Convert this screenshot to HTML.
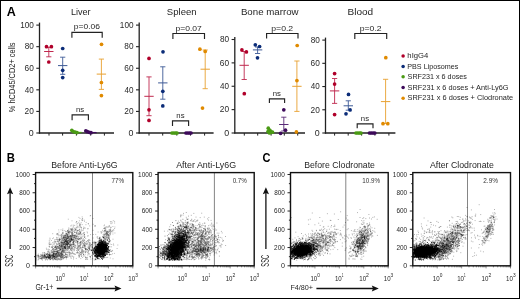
<!DOCTYPE html>
<html><head><meta charset="utf-8"><style>
html,body{margin:0;padding:0;background:#fff;}
svg{display:block;will-change:transform;}
text{font-family:"Liberation Sans",sans-serif;}
</style></head><body>
<svg width="520" height="299" viewBox="0 0 520 299">
<rect x="0.5" y="0.5" width="519" height="298" fill="#fff" stroke="#000" stroke-width="1"/>
<text x="6.79" y="16.30" font-size="12.22" textLength="9.05" lengthAdjust="spacingAndGlyphs" fill="#000" font-weight="bold">A</text>
<text x="6.74" y="162.10" font-size="11.93" textLength="8.17" lengthAdjust="spacingAndGlyphs" fill="#000" font-weight="bold">B</text>
<text x="262.46" y="162.00" font-size="12.33" textLength="7.94" lengthAdjust="spacingAndGlyphs" fill="#000" font-weight="bold">C</text>
<text transform="translate(15.30,111.90) rotate(-90)" x="-0.26" y="0" font-size="8.69" textLength="69.72" lengthAdjust="spacingAndGlyphs" fill="#262626">% hCD45/CD2+ cells</text>
<text x="70.95" y="15.10" font-size="9.24" textLength="19.69" lengthAdjust="spacingAndGlyphs" fill="#262626">Liver</text>
<line x1="39.50" y1="22.60" x2="39.50" y2="133.60" stroke="#222" stroke-width="1.3" />
<line x1="38.90" y1="133.00" x2="114.00" y2="133.00" stroke="#222" stroke-width="1.3" />
<line x1="36.30" y1="133.00" x2="39.50" y2="133.00" stroke="#222" stroke-width="1.1" />
<text x="28.89" y="135.75" font-size="8.24" textLength="4.95" lengthAdjust="spacingAndGlyphs" fill="#2a2a2a">0</text>
<line x1="36.30" y1="111.42" x2="39.50" y2="111.42" stroke="#222" stroke-width="1.1" />
<text x="24.58" y="114.17" font-size="8.24" textLength="9.25" lengthAdjust="spacingAndGlyphs" fill="#2a2a2a">20</text>
<line x1="36.30" y1="89.84" x2="39.50" y2="89.84" stroke="#222" stroke-width="1.1" />
<text x="24.82" y="92.59" font-size="8.24" textLength="9.00" lengthAdjust="spacingAndGlyphs" fill="#2a2a2a">40</text>
<line x1="36.30" y1="68.26" x2="39.50" y2="68.26" stroke="#222" stroke-width="1.1" />
<text x="24.58" y="71.01" font-size="8.24" textLength="9.25" lengthAdjust="spacingAndGlyphs" fill="#2a2a2a">60</text>
<line x1="36.30" y1="46.68" x2="39.50" y2="46.68" stroke="#222" stroke-width="1.1" />
<text x="24.65" y="49.43" font-size="8.24" textLength="9.18" lengthAdjust="spacingAndGlyphs" fill="#2a2a2a">80</text>
<line x1="36.30" y1="25.10" x2="39.50" y2="25.10" stroke="#222" stroke-width="1.1" />
<text x="20.14" y="27.85" font-size="8.24" textLength="13.68" lengthAdjust="spacingAndGlyphs" fill="#2a2a2a">100</text>
<line x1="49.00" y1="133.00" x2="49.00" y2="135.60" stroke="#222" stroke-width="1.0" />
<line x1="62.60" y1="133.00" x2="62.60" y2="135.60" stroke="#222" stroke-width="1.0" />
<line x1="76.40" y1="133.00" x2="76.40" y2="135.60" stroke="#222" stroke-width="1.0" />
<line x1="90.70" y1="133.00" x2="90.70" y2="135.60" stroke="#222" stroke-width="1.0" />
<line x1="104.40" y1="133.00" x2="104.40" y2="135.60" stroke="#222" stroke-width="1.0" />
<path d="M71.90 37.80V32.40H102.20V37.80" fill="none" stroke="#222" stroke-width="1.15"/>
<text x="73.85" y="29.40" font-size="7.46" textLength="26.23" lengthAdjust="spacingAndGlyphs" fill="#262626">p=0.06</text>
<path d="M72.10 120.20V114.80H88.40V120.20" fill="none" stroke="#222" stroke-width="1.15"/>
<text x="76.03" y="111.80" font-size="6.70" textLength="8.21" lengthAdjust="spacingAndGlyphs" fill="#262626">ns</text>
<line x1="48.80" y1="47.40" x2="48.80" y2="56.80" stroke="#c0284e" stroke-width="0.9" />
<line x1="46.20" y1="47.40" x2="51.40" y2="47.40" stroke="#c0284e" stroke-width="0.9" />
<line x1="46.20" y1="56.80" x2="51.40" y2="56.80" stroke="#c0284e" stroke-width="0.9" />
<line x1="44.10" y1="51.50" x2="53.50" y2="51.50" stroke="#c0284e" stroke-width="1.0" />
<circle cx="46.50" cy="46.70" r="1.85" fill="#b0002a"/>
<circle cx="51.40" cy="46.70" r="1.85" fill="#b0002a"/>
<circle cx="48.80" cy="62.00" r="1.85" fill="#b0002a"/>
<line x1="62.70" y1="57.20" x2="62.70" y2="74.30" stroke="#3d5a96" stroke-width="0.9" />
<line x1="60.10" y1="57.20" x2="65.30" y2="57.20" stroke="#3d5a96" stroke-width="0.9" />
<line x1="60.10" y1="74.30" x2="65.30" y2="74.30" stroke="#3d5a96" stroke-width="0.9" />
<line x1="58.00" y1="65.60" x2="67.40" y2="65.60" stroke="#3d5a96" stroke-width="1.0" />
<circle cx="62.70" cy="48.50" r="1.85" fill="#0b2c78"/>
<circle cx="62.70" cy="70.30" r="1.85" fill="#0b2c78"/>
<circle cx="62.70" cy="77.60" r="1.85" fill="#0b2c78"/>
<circle cx="71.80" cy="130.30" r="1.85" fill="#4a9a14"/>
<circle cx="73.30" cy="131.50" r="1.85" fill="#4a9a14"/>
<circle cx="75.20" cy="132.20" r="1.85" fill="#4a9a14"/>
<circle cx="77.00" cy="132.60" r="1.85" fill="#4a9a14"/>
<circle cx="85.80" cy="130.80" r="1.85" fill="#3d0a5a"/>
<circle cx="87.40" cy="131.70" r="1.85" fill="#3d0a5a"/>
<circle cx="89.30" cy="132.30" r="1.85" fill="#3d0a5a"/>
<circle cx="91.00" cy="132.70" r="1.85" fill="#3d0a5a"/>
<line x1="101.40" y1="59.10" x2="101.40" y2="89.40" stroke="#e8a030" stroke-width="0.9" />
<line x1="98.80" y1="59.10" x2="104.00" y2="59.10" stroke="#e8a030" stroke-width="0.9" />
<line x1="98.80" y1="89.40" x2="104.00" y2="89.40" stroke="#e8a030" stroke-width="0.9" />
<line x1="96.70" y1="74.10" x2="106.10" y2="74.10" stroke="#e8a030" stroke-width="1.0" />
<circle cx="101.50" cy="44.30" r="1.85" fill="#e08a00"/>
<circle cx="101.40" cy="82.50" r="1.85" fill="#e08a00"/>
<circle cx="101.40" cy="95.60" r="1.85" fill="#e08a00"/>
<line x1="74.00" y1="132.50" x2="81.60" y2="132.50" stroke="#4a9a14" stroke-width="1.3" />
<line x1="88.00" y1="132.60" x2="96.60" y2="132.60" stroke="#3d0a5a" stroke-width="1.3" />
<text x="166.87" y="15.10" font-size="9.52" textLength="29.74" lengthAdjust="spacingAndGlyphs" fill="#262626">Spleen</text>
<line x1="139.20" y1="22.60" x2="139.20" y2="133.60" stroke="#222" stroke-width="1.3" />
<line x1="138.60" y1="133.00" x2="213.60" y2="133.00" stroke="#222" stroke-width="1.3" />
<line x1="136.00" y1="133.00" x2="139.20" y2="133.00" stroke="#222" stroke-width="1.1" />
<text x="128.59" y="135.75" font-size="8.24" textLength="4.95" lengthAdjust="spacingAndGlyphs" fill="#2a2a2a">0</text>
<line x1="136.00" y1="111.42" x2="139.20" y2="111.42" stroke="#222" stroke-width="1.1" />
<text x="124.28" y="114.17" font-size="8.24" textLength="9.25" lengthAdjust="spacingAndGlyphs" fill="#2a2a2a">20</text>
<line x1="136.00" y1="89.84" x2="139.20" y2="89.84" stroke="#222" stroke-width="1.1" />
<text x="124.52" y="92.59" font-size="8.24" textLength="9.00" lengthAdjust="spacingAndGlyphs" fill="#2a2a2a">40</text>
<line x1="136.00" y1="68.26" x2="139.20" y2="68.26" stroke="#222" stroke-width="1.1" />
<text x="124.28" y="71.01" font-size="8.24" textLength="9.25" lengthAdjust="spacingAndGlyphs" fill="#2a2a2a">60</text>
<line x1="136.00" y1="46.68" x2="139.20" y2="46.68" stroke="#222" stroke-width="1.1" />
<text x="124.35" y="49.43" font-size="8.24" textLength="9.18" lengthAdjust="spacingAndGlyphs" fill="#2a2a2a">80</text>
<line x1="136.00" y1="25.10" x2="139.20" y2="25.10" stroke="#222" stroke-width="1.1" />
<text x="119.84" y="27.85" font-size="8.24" textLength="13.68" lengthAdjust="spacingAndGlyphs" fill="#2a2a2a">100</text>
<line x1="149.00" y1="133.00" x2="149.00" y2="135.60" stroke="#222" stroke-width="1.0" />
<line x1="162.70" y1="133.00" x2="162.70" y2="135.60" stroke="#222" stroke-width="1.0" />
<line x1="176.80" y1="133.00" x2="176.80" y2="135.60" stroke="#222" stroke-width="1.0" />
<line x1="190.50" y1="133.00" x2="190.50" y2="135.60" stroke="#222" stroke-width="1.0" />
<line x1="204.60" y1="133.00" x2="204.60" y2="135.60" stroke="#222" stroke-width="1.0" />
<path d="M172.90 38.90V33.50H204.50V38.90" fill="none" stroke="#222" stroke-width="1.15"/>
<text x="175.50" y="30.50" font-size="7.46" textLength="26.29" lengthAdjust="spacingAndGlyphs" fill="#262626">p=0.07</text>
<path d="M172.50 126.10V120.80H188.60V126.10" fill="none" stroke="#222" stroke-width="1.15"/>
<text x="176.33" y="117.80" font-size="6.70" textLength="8.21" lengthAdjust="spacingAndGlyphs" fill="#262626">ns</text>
<line x1="149.00" y1="76.90" x2="149.00" y2="115.70" stroke="#c0284e" stroke-width="0.9" />
<line x1="146.40" y1="76.90" x2="151.60" y2="76.90" stroke="#c0284e" stroke-width="0.9" />
<line x1="146.40" y1="115.70" x2="151.60" y2="115.70" stroke="#c0284e" stroke-width="0.9" />
<line x1="144.30" y1="96.30" x2="153.70" y2="96.30" stroke="#c0284e" stroke-width="1.0" />
<circle cx="149.00" cy="58.40" r="1.85" fill="#b0002a"/>
<circle cx="149.00" cy="109.80" r="1.85" fill="#b0002a"/>
<circle cx="149.00" cy="120.40" r="1.85" fill="#b0002a"/>
<line x1="162.80" y1="66.80" x2="162.80" y2="99.20" stroke="#3d5a96" stroke-width="0.9" />
<line x1="160.20" y1="66.80" x2="165.40" y2="66.80" stroke="#3d5a96" stroke-width="0.9" />
<line x1="160.20" y1="99.20" x2="165.40" y2="99.20" stroke="#3d5a96" stroke-width="0.9" />
<line x1="158.10" y1="82.90" x2="167.50" y2="82.90" stroke="#3d5a96" stroke-width="1.0" />
<circle cx="163.00" cy="51.80" r="1.85" fill="#0b2c78"/>
<circle cx="162.80" cy="91.30" r="1.85" fill="#0b2c78"/>
<circle cx="162.80" cy="105.90" r="1.85" fill="#0b2c78"/>
<circle cx="172.00" cy="133.00" r="1.85" fill="#4a9a14"/>
<circle cx="173.80" cy="133.00" r="1.85" fill="#4a9a14"/>
<circle cx="175.60" cy="133.00" r="1.85" fill="#4a9a14"/>
<circle cx="177.00" cy="133.00" r="1.85" fill="#4a9a14"/>
<circle cx="186.00" cy="133.00" r="1.85" fill="#3d0a5a"/>
<circle cx="187.80" cy="133.00" r="1.85" fill="#3d0a5a"/>
<circle cx="189.60" cy="133.00" r="1.85" fill="#3d0a5a"/>
<circle cx="191.00" cy="133.00" r="1.85" fill="#3d0a5a"/>
<line x1="205.20" y1="50.00" x2="205.20" y2="88.70" stroke="#e8a030" stroke-width="0.9" />
<line x1="202.60" y1="50.00" x2="207.80" y2="50.00" stroke="#e8a030" stroke-width="0.9" />
<line x1="202.60" y1="88.70" x2="207.80" y2="88.70" stroke="#e8a030" stroke-width="0.9" />
<line x1="200.50" y1="69.20" x2="209.90" y2="69.20" stroke="#e8a030" stroke-width="1.0" />
<circle cx="199.90" cy="49.20" r="1.85" fill="#e08a00"/>
<circle cx="205.20" cy="51.40" r="1.85" fill="#e08a00"/>
<circle cx="202.50" cy="108.10" r="1.85" fill="#e08a00"/>
<text x="240.90" y="15.10" font-size="9.31" textLength="57.67" lengthAdjust="spacingAndGlyphs" fill="#262626">Bone marrow</text>
<line x1="234.80" y1="37.00" x2="234.80" y2="133.60" stroke="#222" stroke-width="1.3" />
<line x1="234.20" y1="133.00" x2="305.00" y2="133.00" stroke="#222" stroke-width="1.3" />
<line x1="231.60" y1="133.00" x2="234.80" y2="133.00" stroke="#222" stroke-width="1.1" />
<text x="224.19" y="135.75" font-size="8.24" textLength="4.95" lengthAdjust="spacingAndGlyphs" fill="#2a2a2a">0</text>
<line x1="231.60" y1="109.62" x2="234.80" y2="109.62" stroke="#222" stroke-width="1.1" />
<text x="219.88" y="112.38" font-size="8.24" textLength="9.25" lengthAdjust="spacingAndGlyphs" fill="#2a2a2a">20</text>
<line x1="231.60" y1="86.25" x2="234.80" y2="86.25" stroke="#222" stroke-width="1.1" />
<text x="220.12" y="89.00" font-size="8.24" textLength="9.00" lengthAdjust="spacingAndGlyphs" fill="#2a2a2a">40</text>
<line x1="231.60" y1="62.88" x2="234.80" y2="62.88" stroke="#222" stroke-width="1.1" />
<text x="219.88" y="65.62" font-size="8.24" textLength="9.25" lengthAdjust="spacingAndGlyphs" fill="#2a2a2a">60</text>
<line x1="231.60" y1="39.50" x2="234.80" y2="39.50" stroke="#222" stroke-width="1.1" />
<text x="219.95" y="42.25" font-size="8.24" textLength="9.18" lengthAdjust="spacingAndGlyphs" fill="#2a2a2a">80</text>
<line x1="244.30" y1="133.00" x2="244.30" y2="135.60" stroke="#222" stroke-width="1.0" />
<line x1="257.70" y1="133.00" x2="257.70" y2="135.60" stroke="#222" stroke-width="1.0" />
<line x1="271.10" y1="133.00" x2="271.10" y2="135.60" stroke="#222" stroke-width="1.0" />
<line x1="284.30" y1="133.00" x2="284.30" y2="135.60" stroke="#222" stroke-width="1.0" />
<line x1="297.70" y1="133.00" x2="297.70" y2="135.60" stroke="#222" stroke-width="1.0" />
<path d="M266.60 38.60V33.50H298.00V38.60" fill="none" stroke="#222" stroke-width="1.15"/>
<text x="271.29" y="30.50" font-size="7.46" textLength="21.90" lengthAdjust="spacingAndGlyphs" fill="#262626">p=0.2</text>
<path d="M269.40 102.90V98.80H284.60V102.90" fill="none" stroke="#222" stroke-width="1.15"/>
<text x="272.78" y="95.80" font-size="6.70" textLength="8.21" lengthAdjust="spacingAndGlyphs" fill="#262626">ns</text>
<line x1="244.20" y1="51.50" x2="244.20" y2="79.50" stroke="#c0284e" stroke-width="0.9" />
<line x1="241.60" y1="51.50" x2="246.80" y2="51.50" stroke="#c0284e" stroke-width="0.9" />
<line x1="241.60" y1="79.50" x2="246.80" y2="79.50" stroke="#c0284e" stroke-width="0.9" />
<line x1="239.50" y1="65.30" x2="248.90" y2="65.30" stroke="#c0284e" stroke-width="1.0" />
<circle cx="241.90" cy="49.90" r="1.85" fill="#b0002a"/>
<circle cx="246.40" cy="51.90" r="1.85" fill="#b0002a"/>
<circle cx="244.30" cy="93.70" r="1.85" fill="#b0002a"/>
<line x1="257.60" y1="47.00" x2="257.60" y2="53.50" stroke="#3d5a96" stroke-width="0.9" />
<line x1="255.00" y1="47.00" x2="260.20" y2="47.00" stroke="#3d5a96" stroke-width="0.9" />
<line x1="255.00" y1="53.50" x2="260.20" y2="53.50" stroke="#3d5a96" stroke-width="0.9" />
<line x1="252.90" y1="49.90" x2="262.30" y2="49.90" stroke="#3d5a96" stroke-width="1.0" />
<circle cx="255.30" cy="44.80" r="1.85" fill="#0b2c78"/>
<circle cx="259.60" cy="46.50" r="1.85" fill="#0b2c78"/>
<circle cx="257.50" cy="57.80" r="1.85" fill="#0b2c78"/>
<circle cx="268.30" cy="128.20" r="1.85" fill="#4a9a14"/>
<circle cx="270.00" cy="130.40" r="1.85" fill="#4a9a14"/>
<circle cx="268.00" cy="131.60" r="1.85" fill="#4a9a14"/>
<circle cx="271.00" cy="131.80" r="1.85" fill="#4a9a14"/>
<circle cx="269.50" cy="133.00" r="1.85" fill="#4a9a14"/>
<circle cx="272.50" cy="132.20" r="1.85" fill="#4a9a14"/>
<line x1="283.80" y1="117.20" x2="283.80" y2="131.00" stroke="#5a2a78" stroke-width="0.9" />
<line x1="281.20" y1="117.20" x2="286.40" y2="117.20" stroke="#5a2a78" stroke-width="0.9" />
<line x1="281.20" y1="131.00" x2="286.40" y2="131.00" stroke="#5a2a78" stroke-width="0.9" />
<line x1="279.10" y1="124.50" x2="288.50" y2="124.50" stroke="#5a2a78" stroke-width="1.0" />
<circle cx="283.80" cy="109.80" r="1.85" fill="#3d0a5a"/>
<circle cx="285.50" cy="130.20" r="1.85" fill="#3d0a5a"/>
<circle cx="280.60" cy="133.30" r="1.85" fill="#3d0a5a"/>
<line x1="296.90" y1="61.00" x2="296.90" y2="111.40" stroke="#e8a030" stroke-width="0.9" />
<line x1="294.30" y1="61.00" x2="299.50" y2="61.00" stroke="#e8a030" stroke-width="0.9" />
<line x1="294.30" y1="111.40" x2="299.50" y2="111.40" stroke="#e8a030" stroke-width="0.9" />
<line x1="292.20" y1="86.30" x2="301.60" y2="86.30" stroke="#e8a030" stroke-width="1.0" />
<circle cx="297.20" cy="45.50" r="1.85" fill="#e08a00"/>
<circle cx="296.90" cy="80.60" r="1.85" fill="#e08a00"/>
<circle cx="296.40" cy="131.90" r="1.85" fill="#e08a00"/>
<text x="347.47" y="15.10" font-size="8.97" textLength="25.66" lengthAdjust="spacingAndGlyphs" fill="#262626">Blood</text>
<line x1="325.50" y1="37.60" x2="325.50" y2="133.60" stroke="#222" stroke-width="1.3" />
<line x1="324.90" y1="133.00" x2="395.40" y2="133.00" stroke="#222" stroke-width="1.3" />
<line x1="322.30" y1="133.00" x2="325.50" y2="133.00" stroke="#222" stroke-width="1.1" />
<text x="314.89" y="135.75" font-size="8.24" textLength="4.95" lengthAdjust="spacingAndGlyphs" fill="#2a2a2a">0</text>
<line x1="322.30" y1="109.78" x2="325.50" y2="109.78" stroke="#222" stroke-width="1.1" />
<text x="310.58" y="112.53" font-size="8.24" textLength="9.25" lengthAdjust="spacingAndGlyphs" fill="#2a2a2a">20</text>
<line x1="322.30" y1="86.55" x2="325.50" y2="86.55" stroke="#222" stroke-width="1.1" />
<text x="310.82" y="89.30" font-size="8.24" textLength="9.00" lengthAdjust="spacingAndGlyphs" fill="#2a2a2a">40</text>
<line x1="322.30" y1="63.32" x2="325.50" y2="63.32" stroke="#222" stroke-width="1.1" />
<text x="310.58" y="66.07" font-size="8.24" textLength="9.25" lengthAdjust="spacingAndGlyphs" fill="#2a2a2a">60</text>
<line x1="322.30" y1="40.10" x2="325.50" y2="40.10" stroke="#222" stroke-width="1.1" />
<text x="310.65" y="42.85" font-size="8.24" textLength="9.18" lengthAdjust="spacingAndGlyphs" fill="#2a2a2a">80</text>
<line x1="334.60" y1="133.00" x2="334.60" y2="135.60" stroke="#222" stroke-width="1.0" />
<line x1="348.20" y1="133.00" x2="348.20" y2="135.60" stroke="#222" stroke-width="1.0" />
<line x1="361.60" y1="133.00" x2="361.60" y2="135.60" stroke="#222" stroke-width="1.0" />
<line x1="374.90" y1="133.00" x2="374.90" y2="135.60" stroke="#222" stroke-width="1.0" />
<line x1="388.90" y1="133.00" x2="388.90" y2="135.60" stroke="#222" stroke-width="1.0" />
<path d="M354.80 39.00V33.50H386.70V39.00" fill="none" stroke="#222" stroke-width="1.15"/>
<text x="359.74" y="30.50" font-size="7.46" textLength="21.90" lengthAdjust="spacingAndGlyphs" fill="#262626">p=0.2</text>
<path d="M357.20 128.20V123.80H373.00V128.20" fill="none" stroke="#222" stroke-width="1.15"/>
<text x="360.88" y="120.80" font-size="6.70" textLength="8.21" lengthAdjust="spacingAndGlyphs" fill="#262626">ns</text>
<line x1="334.60" y1="78.50" x2="334.60" y2="103.40" stroke="#c0284e" stroke-width="0.9" />
<line x1="332.00" y1="78.50" x2="337.20" y2="78.50" stroke="#c0284e" stroke-width="0.9" />
<line x1="332.00" y1="103.40" x2="337.20" y2="103.40" stroke="#c0284e" stroke-width="0.9" />
<line x1="329.90" y1="90.90" x2="339.30" y2="90.90" stroke="#c0284e" stroke-width="1.0" />
<circle cx="334.60" cy="73.60" r="1.85" fill="#b0002a"/>
<circle cx="334.60" cy="84.10" r="1.85" fill="#b0002a"/>
<circle cx="334.60" cy="114.60" r="1.85" fill="#b0002a"/>
<line x1="348.30" y1="100.80" x2="348.30" y2="110.20" stroke="#3d5a96" stroke-width="0.9" />
<line x1="345.70" y1="100.80" x2="350.90" y2="100.80" stroke="#3d5a96" stroke-width="0.9" />
<line x1="345.70" y1="110.20" x2="350.90" y2="110.20" stroke="#3d5a96" stroke-width="0.9" />
<line x1="343.60" y1="105.80" x2="353.00" y2="105.80" stroke="#3d5a96" stroke-width="1.0" />
<circle cx="348.50" cy="94.40" r="1.85" fill="#0b2c78"/>
<circle cx="350.10" cy="109.90" r="1.85" fill="#0b2c78"/>
<circle cx="346.00" cy="113.80" r="1.85" fill="#0b2c78"/>
<circle cx="356.00" cy="133.00" r="1.85" fill="#4a9a14"/>
<circle cx="357.80" cy="133.00" r="1.85" fill="#4a9a14"/>
<circle cx="359.60" cy="133.00" r="1.85" fill="#4a9a14"/>
<circle cx="361.00" cy="133.00" r="1.85" fill="#4a9a14"/>
<circle cx="369.50" cy="133.00" r="1.85" fill="#3d0a5a"/>
<circle cx="371.30" cy="133.00" r="1.85" fill="#3d0a5a"/>
<circle cx="373.10" cy="133.00" r="1.85" fill="#3d0a5a"/>
<circle cx="374.80" cy="133.00" r="1.85" fill="#3d0a5a"/>
<line x1="385.60" y1="79.30" x2="385.60" y2="123.50" stroke="#e8a030" stroke-width="0.9" />
<line x1="383.00" y1="79.30" x2="388.20" y2="79.30" stroke="#e8a030" stroke-width="0.9" />
<line x1="383.00" y1="123.50" x2="388.20" y2="123.50" stroke="#e8a030" stroke-width="0.9" />
<line x1="380.90" y1="101.60" x2="390.30" y2="101.60" stroke="#e8a030" stroke-width="1.0" />
<circle cx="385.80" cy="57.70" r="1.85" fill="#e08a00"/>
<circle cx="383.00" cy="123.70" r="1.85" fill="#e08a00"/>
<circle cx="387.80" cy="123.70" r="1.85" fill="#e08a00"/>
<circle cx="403.10" cy="55.90" r="1.75" fill="#b0002a"/>
<text x="407.36" y="57.90" font-size="7.52" textLength="20.96" lengthAdjust="spacingAndGlyphs" fill="#262626">hIgG4</text>
<circle cx="403.10" cy="66.40" r="1.75" fill="#0b2c78"/>
<text x="407.31" y="68.50" font-size="7.31" textLength="51.04" lengthAdjust="spacingAndGlyphs" fill="#262626">PBS Liposomes</text>
<circle cx="403.10" cy="76.80" r="1.75" fill="#4a9a14"/>
<text x="407.58" y="78.90" font-size="7.31" textLength="59.27" lengthAdjust="spacingAndGlyphs" fill="#262626">SRF231 x 6 doses</text>
<circle cx="403.10" cy="87.40" r="1.75" fill="#3d0a5a"/>
<text x="407.57" y="89.50" font-size="7.31" textLength="100.99" lengthAdjust="spacingAndGlyphs" fill="#262626">SRF231 x 6 doses + Anti-Ly6G</text>
<circle cx="403.10" cy="98.20" r="1.75" fill="#e08a00"/>
<text x="407.57" y="100.30" font-size="7.31" textLength="105.56" lengthAdjust="spacingAndGlyphs" fill="#262626">SRF231 x 6 doses + Clodronate</text>
<text x="51.18" y="167.80" font-size="9.10" textLength="66.49" lengthAdjust="spacingAndGlyphs" fill="#262626">Before Anti-Ly6G</text>
<line x1="32.60" y1="265.80" x2="35.60" y2="265.80" stroke="#111" stroke-width="0.9" />
<text x="26.02" y="268.05" font-size="6.45" textLength="3.96" lengthAdjust="spacingAndGlyphs" fill="#262626">0</text>
<line x1="34.00" y1="256.67" x2="35.60" y2="256.67" stroke="#111" stroke-width="0.9" />
<line x1="32.60" y1="247.54" x2="35.60" y2="247.54" stroke="#111" stroke-width="0.9" />
<text x="19.18" y="249.79" font-size="6.45" textLength="10.77" lengthAdjust="spacingAndGlyphs" fill="#262626">200</text>
<line x1="34.00" y1="238.41" x2="35.60" y2="238.41" stroke="#111" stroke-width="0.9" />
<line x1="32.60" y1="229.28" x2="35.60" y2="229.28" stroke="#111" stroke-width="0.9" />
<text x="19.36" y="231.53" font-size="6.45" textLength="10.59" lengthAdjust="spacingAndGlyphs" fill="#262626">400</text>
<line x1="34.00" y1="220.15" x2="35.60" y2="220.15" stroke="#111" stroke-width="0.9" />
<line x1="32.60" y1="211.02" x2="35.60" y2="211.02" stroke="#111" stroke-width="0.9" />
<text x="19.18" y="213.27" font-size="6.45" textLength="10.77" lengthAdjust="spacingAndGlyphs" fill="#262626">600</text>
<line x1="34.00" y1="201.89" x2="35.60" y2="201.89" stroke="#111" stroke-width="0.9" />
<line x1="32.60" y1="192.76" x2="35.60" y2="192.76" stroke="#111" stroke-width="0.9" />
<text x="19.23" y="195.01" font-size="6.45" textLength="10.72" lengthAdjust="spacingAndGlyphs" fill="#262626">800</text>
<line x1="34.00" y1="183.63" x2="35.60" y2="183.63" stroke="#111" stroke-width="0.9" />
<line x1="32.60" y1="174.50" x2="35.60" y2="174.50" stroke="#111" stroke-width="0.9" />
<text x="15.62" y="176.75" font-size="6.45" textLength="14.34" lengthAdjust="spacingAndGlyphs" fill="#262626">1000</text>
<line x1="35.60" y1="265.80" x2="35.60" y2="268.40" stroke="#333" stroke-width="0.55" />
<line x1="42.92" y1="265.80" x2="42.92" y2="267.40" stroke="#333" stroke-width="0.55" />
<line x1="47.19" y1="265.80" x2="47.19" y2="267.40" stroke="#333" stroke-width="0.55" />
<line x1="50.23" y1="265.80" x2="50.23" y2="267.40" stroke="#333" stroke-width="0.55" />
<line x1="52.58" y1="265.80" x2="52.58" y2="267.40" stroke="#333" stroke-width="0.55" />
<line x1="54.51" y1="265.80" x2="54.51" y2="267.40" stroke="#333" stroke-width="0.55" />
<line x1="56.14" y1="265.80" x2="56.14" y2="267.40" stroke="#333" stroke-width="0.55" />
<line x1="57.55" y1="265.80" x2="57.55" y2="267.40" stroke="#333" stroke-width="0.55" />
<line x1="58.79" y1="265.80" x2="58.79" y2="267.40" stroke="#333" stroke-width="0.55" />
<line x1="59.90" y1="265.80" x2="59.90" y2="268.40" stroke="#333" stroke-width="0.55" />
<line x1="67.22" y1="265.80" x2="67.22" y2="267.40" stroke="#333" stroke-width="0.55" />
<line x1="71.49" y1="265.80" x2="71.49" y2="267.40" stroke="#333" stroke-width="0.55" />
<line x1="74.53" y1="265.80" x2="74.53" y2="267.40" stroke="#333" stroke-width="0.55" />
<line x1="76.88" y1="265.80" x2="76.88" y2="267.40" stroke="#333" stroke-width="0.55" />
<line x1="78.81" y1="265.80" x2="78.81" y2="267.40" stroke="#333" stroke-width="0.55" />
<line x1="80.44" y1="265.80" x2="80.44" y2="267.40" stroke="#333" stroke-width="0.55" />
<line x1="81.85" y1="265.80" x2="81.85" y2="267.40" stroke="#333" stroke-width="0.55" />
<line x1="83.09" y1="265.80" x2="83.09" y2="267.40" stroke="#333" stroke-width="0.55" />
<line x1="84.20" y1="265.80" x2="84.20" y2="268.40" stroke="#333" stroke-width="0.55" />
<line x1="91.52" y1="265.80" x2="91.52" y2="267.40" stroke="#333" stroke-width="0.55" />
<line x1="95.79" y1="265.80" x2="95.79" y2="267.40" stroke="#333" stroke-width="0.55" />
<line x1="98.83" y1="265.80" x2="98.83" y2="267.40" stroke="#333" stroke-width="0.55" />
<line x1="101.18" y1="265.80" x2="101.18" y2="267.40" stroke="#333" stroke-width="0.55" />
<line x1="103.11" y1="265.80" x2="103.11" y2="267.40" stroke="#333" stroke-width="0.55" />
<line x1="104.74" y1="265.80" x2="104.74" y2="267.40" stroke="#333" stroke-width="0.55" />
<line x1="106.15" y1="265.80" x2="106.15" y2="267.40" stroke="#333" stroke-width="0.55" />
<line x1="107.39" y1="265.80" x2="107.39" y2="267.40" stroke="#333" stroke-width="0.55" />
<line x1="108.50" y1="265.80" x2="108.50" y2="268.40" stroke="#333" stroke-width="0.55" />
<line x1="115.82" y1="265.80" x2="115.82" y2="267.40" stroke="#333" stroke-width="0.55" />
<line x1="120.09" y1="265.80" x2="120.09" y2="267.40" stroke="#333" stroke-width="0.55" />
<line x1="123.13" y1="265.80" x2="123.13" y2="267.40" stroke="#333" stroke-width="0.55" />
<line x1="125.48" y1="265.80" x2="125.48" y2="267.40" stroke="#333" stroke-width="0.55" />
<line x1="127.41" y1="265.80" x2="127.41" y2="267.40" stroke="#333" stroke-width="0.55" />
<line x1="129.04" y1="265.80" x2="129.04" y2="267.40" stroke="#333" stroke-width="0.55" />
<line x1="130.45" y1="265.80" x2="130.45" y2="267.40" stroke="#333" stroke-width="0.55" />
<line x1="131.69" y1="265.80" x2="131.69" y2="267.40" stroke="#333" stroke-width="0.55" />
<line x1="132.80" y1="265.80" x2="132.80" y2="268.40" stroke="#222" stroke-width="0.6" />
<text x="55.44" y="280.80" font-size="6.59" textLength="6.80" lengthAdjust="spacingAndGlyphs" fill="#262626">10</text>
<text x="62.31" y="277.40" font-size="5.45" textLength="2.68" lengthAdjust="spacingAndGlyphs" fill="#262626">0</text>
<text x="79.74" y="280.80" font-size="6.59" textLength="6.80" lengthAdjust="spacingAndGlyphs" fill="#262626">10</text>
<text x="86.67" y="277.40" font-size="5.53" textLength="1.67" lengthAdjust="spacingAndGlyphs" fill="#262626">1</text>
<text x="104.04" y="280.80" font-size="6.59" textLength="6.80" lengthAdjust="spacingAndGlyphs" fill="#262626">10</text>
<text x="110.85" y="277.40" font-size="5.45" textLength="2.81" lengthAdjust="spacingAndGlyphs" fill="#262626">2</text>
<text x="128.34" y="280.80" font-size="6.59" textLength="6.80" lengthAdjust="spacingAndGlyphs" fill="#262626">10</text>
<text x="135.22" y="277.40" font-size="5.45" textLength="2.69" lengthAdjust="spacingAndGlyphs" fill="#262626">3</text>
<line x1="92.50" y1="172.60" x2="92.50" y2="265.80" stroke="#777" stroke-width="0.9" />
<text x="111.38" y="182.80" font-size="7.05" textLength="12.63" lengthAdjust="spacingAndGlyphs" fill="#333">77%</text>
<path transform="scale(.1)" d="M906 2155h0m-4 4h0m-113 15h0m33-5h0m108 16h0m-104-1h0m-3 5h0m-3 7h0m-20-12h0m-117 8h0m37 16h0m46 9h0m1-1h0m27-8h0m28-4h0m1 2h0m19-5h0m3 12h0m259 2h0m13 1h0m16-9h0m13 7h0m0 16h0m-23-1h0m-12 8h0m-3-8h0m-223 9h0m-3-1h0m-20-13h0m-50 3h0m-16 6h0m-12-5h0m-11 7h0m-12-8h0m-42 24h0m17 1h0m11 2h0m22-5h0m27 6h0m1-11h0m1 6h0m2-1h0m5-7h0m17 4h0m37 1h0m38 12h0m35-16h0m17 15h0m6 1h0m85-1h0m5-8h0m49 7h0m55 13h0m-20-5h0m-16 8h0m-8 1h0m-9-11h0m-8 10h0m-2-10h0m-12 6h0m-5 7h0m-7-11h0m-10 12h0m-4 2h0m-100-18h0m-111 10h0m-22 2h0m-3 3h0m-7-15h0m-3 13h0m-3-11h0m-11 9h0m-10-10h0m-7 6h0m-9 8h0m-25 2h0m-4-14h0m-45 15h0m-101 20h0m23-1h0m18-8h0m58 1h0m14-1h0m6 2h0m10-2h0m18 8h0m14-15h0m12 11h0m0-5h0m33 8h0m3-5h0m19-2h0m20-6h0m0 7h0m10-11h0m8 1h0m24 7h0m4-1h0m158-2h0m2-1h0m3-2h0m7 5h0m6-7h0m0 12h0m34 5h0m5 1h0m9-7h0m2 1h0m26 5h0m13-12h0m-8 17h0m-14 3h0m-2 7h0m-8 4h0m-4-4h0m-3-7h0m-2-3h0m-2 12h0m-4-3h0m-6 8h0m-1-12h0m0 7h0m-12 1h0m-2 0h0m-1-3h0m-6 2h0m-4-2h0m-1 7h0m-7-17h0m-1 13h0m-4-7h0m0-5h0m-5-3h0m-1 17h0m-1-10h0m-3-2h0m-3 8h0m-10 5h0m-6-15h0m-10 16h0m-9 0h0m-75-16h0m-60 16h0m-41-14h0m-11-4h0m-3 9h0m-18 3h0m-19-10h0m-2 9h0m-8 7h0m-8-14h0m-2-5h0m-30 13h0m-4-11h0m-2-1h0m-4 18h0m-5-10h0m-10 5h0m-6-5h0m-22-5h0m-1 10h0m-12 2h0m-15-10h0m-19 3h0m-2-6h0m-100 34h0m46-2h0m8 3h0m9-17h0m37 5h0m29 12h0m8-6h0m24-10h0m0-2h0m4 18h0m16-12h0m4-1h0m12-4h0m2 14h0m5 1h0m13-10h0m0-2h0m5-4h0m8 5h0m7-4h0m0 10h0m3 5h0m1-3h0m1-5h0m12 1h0m1 10h0m5-9h0m8 5h0m4-12h0m2 15h0m3-10h0m1-3h0m1 12h0m4-6h0m18 6h0m9-2h0m3-11h0m1 2h0m34 3h0m106-9h0m32 13h0m5-9h0m30 6h0m11 7h0m1 0h0m2-4h0m0-9h0m2 8h0m3-10h0m2 4h0m1 7h0m0 3h0m2-11h0m1 14h0m4-3h0m3-11h0m2-1h0m7 4h0m10 7h0m3 4h0m3-12h0m3 1h0m21-8h0m20 10h0m-20 10h0m-24 8h0m-7-7h0m-8 15h0m0 3h0m-1-2h0m-1-7h0m-1-2h0m-1 3h0m-1-3h0m-7-1h0m0 4h0m-4-8h0m-1-3h0m-3 14h0m-1-4h0m0 3h0m-3-6h0m0 12h0m-4-16h0m-5-2h0m-2 7h0m-6 4h0m-5-6h0m-1 0h0m-2-6h0m-7 13h0m-2-10h0m-75 1h0m-24 1h0m-28 1h0m-21 12h0m-40-14h0m0 0h0m-1 0h0m-1 15h0m-24-13h0m-8 1h0m-18 0h0m0 0h0m-6-6h0m-6-1h0m-3 9h0m-1 10h0m-16-1h0m-5-10h0m-13 4h0m-2 3h0m0-10h0m-2 12h0m-10-2h0m-2 1h0m-1-7h0m-1-9h0m-4 17h0m-1-1h0m-6-14h0m-3 14h0m-1-1h0m-4 2h0m-21-5h0m-1-12h0m-5 1h0m0 1h0m-7 12h0m-4-14h0m-2 6h0m-13 8h0m-1-8h0m-2 7h0m-4 4h0m-9-1h0m-6-7h0m-8 6h0m-5 2h0m-4-14h0m-10 11h0m-21-5h0m-9-9h0m-1 7h0m-5-6h0m-32 38h0m30-5h0m10 5h0m14-8h0m21-10h0m8 9h0m1-5h0m13 8h0m6-8h0m8-2h0m4 14h0m1-7h0m0 5h0m2 1h0m3-4h0m7-11h0m0 0h0m5 14h0m7-9h0m0 1h0m5 5h0m3 3h0m1-8h0m1 3h0m13-7h0m1 0h0m5 13h0m3-11h0m0 7h0m3-10h0m5 9h0m2-2h0m1 8h0m2-10h0m0-3h0m7 9h0m4-8h0m4 7h0m2-1h0m7-3h0m1 2h0m2 5h0m3-15h0m7 19h0m3-12h0m9 2h0m3-1h0m9 1h0m3 3h0m6-6h0m19-4h0m4 16h0m8-9h0m9-9h0m14 12h0m1 3h0m0-15h0m5 9h0m25-9h0m95 11h0m7-3h0m19 8h0m2-1h0m2-4h0m26 4h0m0-10h0m3 1h0m6 2h0m0 8h0m1 0h0m4-1h0m1-15h0m6 0h0m3 5h0m1 12h0m3-11h0m9 9h0m2-8h0m4 11h0m3 0h0m2-13h0m5 14h0m3-4h0m3-7h0m3 4h0m1-1h0m8 0h0m33 21h0m-35 7h0m0-9h0m0 7h0m-4-7h0m-1-4h0m-3-4h0m-1 3h0m-12 12h0m-5-16h0m-1 8h0m-8 5h0m-3 2h0m-4-10h0m0-4h0m-1 10h0m-10-9h0m0 0h0m-1-1h0m0 14h0m-3-6h0m-20 5h0m-4-4h0m-6 1h0m-6-10h0m-4 16h0m0-9h0m-2-2h0m-2-3h0m-2 3h0m-2 1h0m-14-6h0m-45-2h0m-40 15h0m-5 3h0m-29-14h0m-18 12h0m-6-11h0m-16-3h0m-4 1h0m-5-2h0m-7 14h0m-2-6h0m-7-6h0m-3 3h0m-2 7h0m-1-3h0m-6 6h0m-5-8h0m-1-2h0m-5 1h0m-3-2h0m-9 6h0m-1-5h0m-1-5h0m-1 0h0m-11 16h0m0-17h0m-1 4h0m-16 9h0m-2 0h0m-3-5h0m-2 7h0m-3-5h0m-1-5h0m-1 5h0m-1 3h0m-3-4h0m-5-8h0m-6 11h0m-2 7h0m-3-14h0m-2-5h0m-3 9h0m-3 10h0m-1-15h0m-3-1h0m-4-3h0m-6 2h0m-7 16h0m-4-13h0m-3-4h0m-1 9h0m0-8h0m-7 17h0m0-6h0m-1 0h0m-2-1h0m-1-8h0m-3 12h0m-1-2h0m-2-9h0m-7 4h0m-2-3h0m-1 5h0m0-6h0m-2 11h0m-3-5h0m-4-3h0m-6 3h0m0-7h0m-11 13h0m0-17h0m-1 19h0m-7-9h0m-5 9h0m-13-4h0m-12-5h0m-12 7h0m-28-11h0m-25 5h0m-2-10h0m-6 22h0m21 2h0m31-5h0m4 15h0m11-1h0m13-12h0m2 9h0m11-11h0m3 12h0m6-10h0m0 0h0m7 12h0m19-1h0m2-6h0m3-2h0m13 12h0m2-12h0m7 13h0m0 1h0m3-3h0m2-14h0m1 1h0m1 10h0m0-12h0m2 14h0m1-10h0m0 3h0m0 3h0m3 8h0m2-10h0m1-3h0m1 9h0m2 2h0m6 1h0m1 1h0m0-4h0m1-11h0m1 8h0m2 7h0m0-15h0m0 15h0m7-15h0m0 4h0m6-2h0m1-6h0m1 16h0m5-1h0m2 1h0m5-3h0m7-1h0m7-4h0m10-4h0m3 10h0m9-6h0m2 10h0m17-13h0m11 0h0m1 9h0m1 1h0m0-1h0m5 2h0m5 1h0m6-16h0m19 18h0m0-1h0m3-17h0m0 16h0m11-2h0m3-14h0m4-1h0m0 6h0m5 4h0m1 3h0m11-11h0m0 2h0m16 14h0m3-2h0m10-11h0m7 9h0m0-6h0m8-2h0m9-3h0m41 10h0m39 5h0m1 1h0m10-11h0m4 1h0m3-4h0m3-1h0m2 3h0m6-6h0m1 17h0m2-15h0m1 6h0m8 1h0m0 6h0m11-12h0m16-3h0m0 9h0m3 5h0m0-13h0m0 1h0m2 14h0m1 0h0m2 1h0m5 0h0m10-12h0m4-2h0m17 7h0m1 1h0m8-1h0m1-1h0m2-6h0m-7 20h0m-8 5h0m-4-7h0m-1 14h0m-9 2h0m-4-10h0m0-4h0m-8 8h0m-4 1h0m-6-5h0m0 8h0m-3-13h0m-2 5h0m-1 10h0m-4-18h0m-12 6h0m-1 0h0m-1 2h0m-3 6h0m-1-11h0m-2 12h0m-1-14h0m0 15h0m-3-12h0m-2 13h0m-2-13h0m-3 15h0m-1-2h0m0 1h0m-8 1h0m-3-6h0m-9-13h0m-11 16h0m-15-9h0m-2-5h0m-3 14h0m-3-8h0m-4-6h0m-2-1h0m0 12h0m-2-9h0m-1 9h0m-12-5h0m-5 1h0m-3 3h0m-1-7h0m-25 4h0m-1 5h0m-2-11h0m-6 10h0m-2-7h0m-9-6h0m-7 12h0m-2 6h0m-14-9h0m-3 7h0m-8-16h0m-2 13h0m-2-4h0m0-2h0m-8 12h0m-4-1h0m-5-6h0m-1-7h0m-14 8h0m-2-11h0m-1 4h0m-4-5h0m-2 6h0m-1 8h0m-2-5h0m-1-3h0m-16 12h0m-5-18h0m0 4h0m-1-4h0m-4 17h0m-3-15h0m-7-2h0m-7 5h0m-15 13h0m-2 0h0m-1-19h0m-1 6h0m-1-6h0m-3 2h0m-6 7h0m-2-5h0m-16 14h0m-4-6h0m-2-12h0m0 2h0m-8 3h0m-3 13h0m-1-12h0m-3 11h0m-3-5h0m-3 1h0m-2-12h0m0 9h0m-1 1h0m-1-3h0m-3 8h0m0-4h0m-4-1h0m-1 5h0m0-11h0m0 13h0m-6-8h0m-2 1h0m-4 4h0m0 0h0m-6-5h0m-1-10h0m-1 15h0m-2-9h0m-2-2h0m-6 15h0m0-10h0m-2-3h0m-2-5h0m-1 10h0m-1 0h0m-1 6h0m-1-9h0m-7-6h0m-2 15h0m-1-2h0m-1-10h0m-1-4h0m-6 5h0m-18 8h0m-1-1h0m-5-2h0m-2-7h0m-2 11h0m-17-3h0m0 5h0m-17-17h0m-3 12h0m-9 6h0m-1-17h0m-12 6h0m-28 9h0m0-15h0m-6 1h0m-4 17h0m7 7h0m4-2h0m6 0h0m11-2h0m10 10h0m14-8h0m15 14h0m11-5h0m0-9h0m11 0h0m4 3h0m14 7h0m0-3h0m2 1h0m3-6h0m6 2h0m3 8h0m2 3h0m1-10h0m1 7h0m1 1h0m0-16h0m2 2h0m2 12h0m2-3h0m3-10h0m1 9h0m1 1h0m5-2h0m3-2h0m2-2h0m1 0h0m1 1h0m3 3h0m2-2h0m2-1h0m5-2h0m1 1h0m1 2h0m4-1h0m0 12h0m0-8h0m4-7h0m0 9h0m3-6h0m0 3h0m4-2h0m4 1h0m1-1h0m1-4h0m2 6h0m2 4h0m0-1h0m2-13h0m4 2h0m6 6h0m4-3h0m3-5h0m3 11h0m1-1h0m0-4h0m1 10h0m2 0h0m3-5h0m2-4h0m0 6h0m1 4h0m3-16h0m1 4h0m3 13h0m1-11h0m6 0h0m1-5h0m1 8h0m5-10h0m13 2h0m7 16h0m2-8h0m5 4h0m17 0h0m2-7h0m12 11h0m3-2h0m1 1h0m3-5h0m8-9h0m3 4h0m0 8h0m4-7h0m4-7h0m12 18h0m7-7h0m2-11h0m6 18h0m1-5h0m2 0h0m1-9h0m1 10h0m3-10h0m4 12h0m4-3h0m4-12h0m6-1h0m1-1h0m12 9h0m12-2h0m5 2h0m2 4h0m2-4h0m2-8h0m3 16h0m6-9h0m5-4h0m2 5h0m2-4h0m13 6h0m15-1h0m3-6h0m5 5h0m1-8h0m5 11h0m8 3h0m0-6h0m0-2h0m4 3h0m0 2h0m4-3h0m1 8h0m0 2h0m1-3h0m5-13h0m5 3h0m9-4h0m3 0h0m0 7h0m1-1h0m1 7h0m7-3h0m0-1h0m3-11h0m6 0h0m1 4h0m1 5h0m5-5h0m3 6h0m1-5h0m4 13h0m8 1h0m9-19h0m1 17h0m2-7h0m1 3h0m0-2h0m6-8h0m9 7h0m1 0h0m14-6h0m16-3h0m15 4h0m18-5h0m2 12h0m41-2h0m-64 18h0m-14 0h0m-9-2h0m-3 2h0m-1-4h0m-2 10h0m-2 5h0m-4-16h0m-11-2h0m-1 12h0m-14-1h0m-9-4h0m-1 9h0m0-1h0m0-8h0m-4 4h0m0 5h0m0-1h0m-4-15h0m-1 11h0m-4 7h0m-1-17h0m-6 10h0m-1-2h0m-6 6h0m-2-1h0m-2 0h0m-7-5h0m-2-6h0m-5 12h0m-1 1h0m-3 1h0m0-5h0m-1-13h0m-1 18h0m-2-13h0m-1 1h0m-8 13h0m-2-12h0m-9-4h0m-2 16h0m-10-11h0m-5 1h0m-1-7h0m-3 4h0m-17 7h0m-10-6h0m-6-7h0m-10 1h0m-4 10h0m-5 8h0m-2-15h0m-3 8h0m0-2h0m-3 4h0m-2-14h0m-2 10h0m-11 1h0m-17-4h0m-6 3h0m-7 1h0m-3-11h0m-4 16h0m-9-5h0m-1 3h0m0 3h0m-1-8h0m-12 9h0m-7-2h0m-1-5h0m-5-11h0m-2 4h0m-8 1h0m-2 10h0m-2-12h0m-5 6h0m-1 2h0m-6 5h0m-3-9h0m-17 10h0m-1-14h0m-6 13h0m-5-1h0m0-15h0m-4 6h0m-2-6h0m-2 3h0m-5 4h0m-9 6h0m-1-3h0m-1 3h0m-1-2h0m-4-9h0m-14 16h0m0-7h0m-2-3h0m-1 3h0m-1-2h0m-3 0h0m-1 1h0m0 9h0m-2-15h0m-2 11h0m-1-4h0m-4-2h0m-7 5h0m-1-1h0m-3-9h0m-3 6h0m-4-2h0m-5 4h0m-5 4h0m0-4h0m-1-7h0m0-5h0m-3 15h0m0 1h0m-1 2h0m-1-17h0m-1 8h0m0-3h0m-2 0h0m0 2h0m-1 3h0m0-4h0m-1 10h0m-2-6h0m0-1h0m-1 7h0m0-4h0m-6-9h0m-3 12h0m-2-6h0m-1-10h0m-2 16h0m-4-10h0m-3-5h0m-1 4h0m0 3h0m-2 10h0m-1-15h0m0 16h0m-2-13h0m-2-2h0m-7 2h0m0 2h0m-2 4h0m-4 5h0m-1-16h0m-1 8h0m-1-9h0m-4 17h0m-2-2h0m-3-11h0m-1 11h0m-2-8h0m-4-7h0m-3 6h0m-2 3h0m0 1h0m0-1h0m-7 5h0m-6-3h0m-1 0h0m0-9h0m0 4h0m-4 4h0m0-5h0m-2 3h0m-6 6h0m-1 1h0m-1-1h0m-4-13h0m-5 3h0m-14 5h0m0 9h0m-1-7h0m-2-1h0m-3 1h0m-4 1h0m-18-1h0m-3-7h0m-1-2h0m-28 20h0m3 12h0m15-3h0m12 5h0m29-1h0m2 1h0m3-12h0m5 4h0m1 4h0m5-7h0m1 11h0m0-4h0m8 7h0m5-4h0m1-13h0m3 15h0m0-1h0m5-16h0m4 9h0m1-2h0m0 7h0m1-13h0m2 7h0m0-3h0m8 7h0m5-12h0m8 5h0m3-2h0m1 16h0m2-10h0m1 3h0m3-4h0m1 5h0m2-5h0m2 9h0m1-5h0m0-12h0m1 15h0m0 1h0m3-3h0m5-13h0m5 9h0m3-6h0m3 6h0m0-4h0m0 11h0m5 0h0m4-9h0m5-3h0m3-3h0m3 7h0m0-7h0m1 13h0m3-7h0m4-2h0m0 3h0m1-8h0m0 6h0m8 4h0m2 7h0m4-6h0m3-5h0m2-1h0m2 5h0m5 6h0m0-15h0m4 0h0m1 7h0m2-4h0m8 0h0m4 0h0m6 10h0m0 2h0m0-9h0m7-1h0m5-3h0m0 1h0m3 1h0m2 9h0m8-4h0m7 8h0m2-10h0m7 1h0m21-7h0m1 4h0m1 0h0m2 13h0m6-10h0m2 9h0m5-5h0m4-11h0m4 0h0m2 15h0m6-15h0m5-1h0m5 11h0m8-1h0m1 7h0m5 0h0m22-14h0m2-4h0m4 4h0m1 11h0m0 1h0m0-9h0m2 0h0m1 12h0m4-10h0m0 5h0m2-4h0m6 2h0m4 3h0m1 1h0m6-6h0m6-7h0m4 2h0m0 0h0m1-4h0m1 9h0m2 2h0m1-1h0m4 5h0m11-6h0m1 8h0m8-5h0m10-4h0m8-1h0m8-1h0m4 9h0m4-4h0m0 6h0m8-15h0m2 14h0m3-14h0m2 15h0m3 0h0m1-5h0m2-13h0m9 10h0m1-4h0m5 2h0m1-4h0m4-3h0m2 2h0m7 0h0m2 13h0m1-7h0m4 10h0m2 0h0m3-1h0m5-13h0m1-1h0m1 9h0m2-5h0m7 8h0m3 3h0m1-18h0m1 1h0m0 13h0m1-2h0m2-10h0m5 9h0m3 3h0m10-15h0m1 3h0m2 1h0m7-4h0m0 7h0m4-5h0m4-2h0m2 16h0m3 1h0m24 0h0m66-12h0m-45 24h0m-4-5h0m-8 12h0m-1-3h0m-10-2h0m-5 4h0m-9 4h0m-5-6h0m-3-3h0m-2-10h0m0 11h0m-6 3h0m-1 4h0m-3-1h0m-5-13h0m0 10h0m-1-9h0m-1 8h0m-5 6h0m-1-10h0m-6 3h0m-4-3h0m-1-4h0m-5 3h0m0-2h0m0 4h0m-1 6h0m-7-1h0m-8-13h0m-1 2h0m-6 1h0m-7 8h0m-3-13h0m-12 19h0m0-17h0m-6-1h0m-5 9h0m-1 8h0m-2-3h0m-2-10h0m-4 13h0m-11-14h0m0 12h0m-3-12h0m-3 3h0m-8 2h0m-11 8h0m-4-8h0m-2 10h0m-1-13h0m-36-3h0m-12 7h0m-1-2h0m-2 8h0m-1-10h0m-17 3h0m-4 7h0m-1 3h0m-9-8h0m-10 7h0m-2-12h0m-2 11h0m-7-9h0m-2 9h0m-4-14h0m-2 16h0m-2-8h0m-1 2h0m-4-4h0m-18 5h0m-10-10h0m-4-1h0m-7 16h0m-8-14h0m-22-4h0m-4 8h0m-16 1h0m-7-2h0m-2-5h0m-14 3h0m-11 5h0m-13-9h0m-4 5h0m-12-2h0m-7-5h0m-1 10h0m-7-1h0m-1-4h0m0 13h0m-5-17h0m-4 16h0m-2-14h0m-1 3h0m-3-5h0m0 18h0m0-3h0m0-8h0m-1-6h0m0 12h0m-6-13h0m0 2h0m-3 0h0m-1 8h0m-10 4h0m-1-11h0m-9-2h0m-3 4h0m-5 0h0m0 12h0m-6-12h0m-4 4h0m0-3h0m-1 2h0m-2 8h0m-2-6h0m-2-3h0m-1 4h0m0 6h0m-2-1h0m-3-6h0m-1 8h0m-4-18h0m0 14h0m-2-2h0m-3 4h0m-4 0h0m-1-5h0m-8 4h0m-1-1h0m-1 2h0m-3-5h0m-1-7h0m-1 0h0m-3 11h0m-6 0h0m-2 2h0m-7-14h0m-2 11h0m-1-10h0m-10 5h0m-14 2h0m-10 0h0m-1-12h0m-1 16h0m-2 0h0m-54 12h0m15-3h0m3 12h0m3-12h0m7 9h0m16 0h0m6 2h0m1-7h0m3 8h0m6-9h0m8 1h0m3-2h0m0 11h0m3-1h0m2-5h0m10-4h0m3 2h0m1-10h0m6 3h0m2 4h0m3 0h0m6-3h0m2 13h0m2-15h0m0 14h0m1 3h0m0-7h0m0 2h0m3-1h0m0-2h0m1-2h0m4 2h0m5 6h0m7-1h0m1 1h0m1-14h0m3 13h0m1 1h0m1-3h0m0-13h0m2 16h0m1-4h0m4-1h0m2-1h0m2-9h0m0 3h0m2 13h0m1-11h0m1-2h0m3-2h0m1 2h0m0 8h0m1-1h0m0 7h0m2-9h0m3 2h0m5-11h0m1 3h0m6 7h0m0-6h0m1 13h0m0 0h0m2-4h0m1-6h0m6 9h0m3-16h0m1-1h0m0 16h0m1-7h0m1-7h0m0 15h0m1-14h0m0 14h0m2-14h0m2 16h0m0-6h0m1-12h0m11 8h0m0-8h0m5 2h0m3 6h0m5-8h0m3 2h0m5 15h0m1 0h0m3-13h0m1 4h0m7-9h0m6 6h0m3 1h0m10-5h0m0 7h0m7-8h0m3 3h0m1 14h0m1-13h0m4 12h0m3-8h0m13 5h0m3-1h0m0-5h0m6-4h0m5 13h0m6 0h0m5 2h0m20-9h0m6-5h0m5 4h0m2-9h0m3 9h0m8-2h0m5 6h0m10-5h0m2-2h0m1-3h0m10 5h0m1 0h0m2 6h0m10-11h0m0 8h0m4 1h0m20-9h0m4 2h0m22 1h0m2 0h0m9 9h0m41-7h0m6 8h0m2 2h0m11-5h0m3 1h0m15-7h0m17-1h0m9 3h0m1 4h0m5-4h0m21 2h0m7-9h0m0 16h0m8-18h0m10 8h0m2-2h0m5-5h0m6 15h0m12-4h0m10-9h0m7 2h0m1-2h0m37 15h0m19-4h0m-32 12h0m-7-1h0m-10 4h0m0-1h0m-1-7h0m-3 4h0m-29-1h0m-12 12h0m0 2h0m-2-15h0m-2 13h0m-3-6h0m0 5h0m-4-6h0m-1 2h0m-7 3h0m-2-5h0m-19 7h0m-22-6h0m-9 0h0m-27 7h0m-38-3h0m-21-13h0m-11-1h0m-4 11h0m-25-9h0m-6 17h0m-11-15h0m0 1h0m-1 3h0m-17 9h0m-4-10h0m-5-3h0m0 5h0m-6-7h0m-6-2h0m0 19h0m-2-5h0m-6-7h0m-4 8h0m-30-11h0m-12-1h0m-33-2h0m-13 7h0m-2-8h0m-3 12h0m-15 2h0m0-9h0m-8 5h0m-7-4h0m-2-2h0m0 0h0m-3 6h0m-5 0h0m-9 9h0m-1-4h0m-1-2h0m-9-1h0m0 7h0m-2-14h0m-1-3h0m-3 0h0m-1 3h0m-4 9h0m0-12h0m-1 10h0m-2 6h0m-1-9h0m-1 0h0m-2-9h0m-1 14h0m-2-7h0m0-1h0m-1 10h0m0-5h0m-5 5h0m-3-16h0m-1 6h0m-4-5h0m-1 0h0m-2 18h0m0-3h0m0 2h0m-1-8h0m-2 2h0m-1-12h0m-1 4h0m-1 7h0m-1 6h0m-3-13h0m-1 13h0m-2-14h0m-2 4h0m-2 3h0m-3 6h0m-2 1h0m-2-14h0m0-3h0m-4 4h0m0 6h0m-2 9h0m0-5h0m-3-7h0m-2 3h0m0-8h0m-3 10h0m0-4h0m0 7h0m-1-8h0m0-7h0m-3 1h0m-3 16h0m-3 2h0m-1-19h0m0 6h0m-3 7h0m-1-13h0m-3 4h0m-2 13h0m0-10h0m0 12h0m0-9h0m0-1h0m0-8h0m-1 17h0m-2-18h0m-1 14h0m-1-3h0m-1-6h0m-1-3h0m0 16h0m0-8h0m0 7h0m-1 2h0m-1-3h0m-2-14h0m-1 16h0m-1-12h0m-1 11h0m-2 1h0m-3-2h0m-2-1h0m-1-8h0m-2 3h0m-2 7h0m-2-10h0m-4 2h0m-1 10h0m-2-8h0m-1-2h0m-1 6h0m0 3h0m-2-3h0m-1-4h0m-1 5h0m0 1h0m0-7h0m-1-3h0m-1 11h0m0-14h0m0 4h0m-2 8h0m-1-2h0m-1 5h0m-1-11h0m0-2h0m-4 0h0m-2 4h0m-1-3h0m-5 10h0m-4-3h0m0-10h0m-2-2h0m0 2h0m-2 3h0m-2 0h0m-2-4h0m-2-1h0m-7 16h0m-2 1h0m-1-8h0m-4-1h0m0-3h0m-1 7h0m-1-5h0m0-6h0m-1 10h0m-2 1h0m-2 3h0m-9 1h0m-2-12h0m0 10h0m-1-16h0m-1 14h0m-3-5h0m-5 8h0m-1 0h0m-6-1h0m-2-11h0m-1-2h0m-2 10h0m-20 5h0m-3-4h0m-1-13h0m-6 10h0m-7 3h0m-3 5h0m12 14h0m1-12h0m1-1h0m1 3h0m4 13h0m1-15h0m3 8h0m6 0h0m7-4h0m4-2h0m2 11h0m2-10h0m7-4h0m0 15h0m2-1h0m4-13h0m1 5h0m2 5h0m3 5h0m1 2h0m0-5h0m3-4h0m2 0h0m0-5h0m6-4h0m0 3h0m0-2h0m0 16h0m3-1h0m0-16h0m0 4h0m1 10h0m4 1h0m1-8h0m0-6h0m0 2h0m3 5h0m0 9h0m2-8h0m0 8h0m4-13h0m3 5h0m0 5h0m1 0h0m0-4h0m0 6h0m1 0h0m2 2h0m0-8h0m1 5h0m3-10h0m2-4h0m2 6h0m1 6h0m2-10h0m0-2h0m0 15h0m0-3h0m1 2h0m1-8h0m2 12h0m0-10h0m0 8h0m1-12h0m1 14h0m2 0h0m0-7h0m1 5h0m2-9h0m1 4h0m0-10h0m1 9h0m1-1h0m1 9h0m2-8h0m1 0h0m1 2h0m0-3h0m1-3h0m1 4h0m0 4h0m4-4h0m0 2h0m0 5h0m1-10h0m0-4h0m3-2h0m0 11h0m1-11h0m0-2h0m1 12h0m3-4h0m6-4h0m0 11h0m5-6h0m2 2h0m0-10h0m1 18h0m3-4h0m2-8h0m0-3h0m2 0h0m1 1h0m1 6h0m1-1h0m2-5h0m1 8h0m1 0h0m2-2h0m1-7h0m1 1h0m1-4h0m1 11h0m0-7h0m1 0h0m1-2h0m2 12h0m1 4h0m0-11h0m1-5h0m3 8h0m2 0h0m1 3h0m1-6h0m4-6h0m1 12h0m1-7h0m1 2h0m3 0h0m1 0h0m2-7h0m1 11h0m1-12h0m2-1h0m1 1h0m3 2h0m4 0h0m1 9h0m5-12h0m8 4h0m2-2h0m1-1h0m1 11h0m0-8h0m3 14h0m1 0h0m2-15h0m2 4h0m1 3h0m1 2h0m1-1h0m4 4h0m1-8h0m4-4h0m1 14h0m1-16h0m1 10h0m4-7h0m0 9h0m4-11h0m4 14h0m3 1h0m1-4h0m5 5h0m1-3h0m5-10h0m2 5h0m4 0h0m1-3h0m3 10h0m1-8h0m1 5h0m3-3h0m1-8h0m5 5h0m5 5h0m12-10h0m8-2h0m8 1h0m2 11h0m9-13h0m7 2h0m11 15h0m1-10h0m52 1h0m3 2h0m2-2h0m21-3h0m11 10h0m10-14h0m19 9h0m0 6h0m5 0h0m10 1h0m2-4h0m24-10h0m58 4h0m8 12h0m9-11h0m12-3h0m59 5h0m7 2h0m11 4h0m9-2h0m8-1h0m53 15h0m-27-8h0m-103 15h0m-8-9h0m-2-4h0m-2 4h0m-6 3h0m-55-4h0m-18 6h0m-33 2h0m-7-1h0m-1-10h0m-10 13h0m-1-5h0m-49-4h0m-45-2h0m-28 6h0m-23-6h0m-48 5h0m-30-3h0m0-3h0m-5 9h0m-9-12h0m0 0h0m-2 9h0m-3 8h0m-3-6h0m0 1h0m-9-2h0m-2-9h0m-2 16h0m-5-7h0m-3 1h0m-2 1h0m-6-5h0m0 1h0m-5 8h0m0 2h0m-1-12h0m-9-3h0m0-3h0m-5 10h0m0 7h0m-2-5h0m-3 5h0m-4-9h0m-1-5h0m-2 12h0m-1 0h0m-4-8h0m-1-2h0m-1-1h0m0-2h0m-3 0h0m-4 16h0m-7-17h0m0 11h0m-1 3h0m-1-15h0m0 0h0m-6 4h0m-2-2h0m0 0h0m-3 4h0m-7 1h0m0 2h0m-4 0h0m-1 7h0m0 0h0m-1-8h0m-6-1h0m-1 0h0m-2-1h0m-1-6h0m0 17h0m-1-16h0m-8 2h0m-1 6h0m-11 3h0m-5-2h0m-4-6h0m-2 6h0m-8 3h0m-5-7h0m-3-3h0m-12 2h0m-12-2h0m-1 8h0m-1-9h0m-2-2h0m0 11h0m-1-4h0m-1 0h0m-9-2h0m-1-1h0m0 3h0m-12-4h0m-5 6h0m-2 1h0m-5 9h0m-15 0h0m-4-17h0m61 20h0m30-1h0m20-1h0m55 0h0m43 0h0m31 0h0m339 0h0" fill="none" stroke="#000" stroke-opacity="0.45" stroke-width="6.0" stroke-linecap="square"/>
<path transform="scale(.1)" d="M709 2259h0m62 18h0m-61 11h0m7 11h0m1-2h0m5-6h0m1-9h0m27 8h0m3 7h0m45 17h0m-1-14h0m-15 5h0m-8 1h0m-28-3h0m-7 10h0m-28-12h0m-14 18h0m-5 0h0m-4-6h0m-4-12h0m-5 11h0m-4-6h0m-19 11h0m-33 21h0m6-2h0m0-10h0m36 9h0m14-11h0m2-3h0m1 5h0m7 1h0m1 5h0m25 3h0m4-11h0m4 4h0m75 10h0m3-17h0m-36 29h0m-15 7h0m-6 0h0m-11-3h0m-12-8h0m-1-2h0m-13 11h0m-13-4h0m-16 5h0m-4 0h0m-1-11h0m-4-4h0m-9 0h0m-3 18h0m-1-1h0m-4 1h0m-39-11h0m-24 4h0m26 20h0m15 3h0m3 3h0m1-7h0m2-10h0m1 13h0m4 4h0m5-3h0m1-14h0m21 15h0m0 0h0m1-14h0m2-1h0m8 8h0m6-1h0m1 3h0m6-3h0m2 2h0m8-7h0m7 5h0m8 5h0m4-13h0m20 14h0m8-14h0m8 1h0m5 11h0m2-8h0m40 16h0m-10 7h0m-13 6h0m-22 4h0m-22-4h0m-3 0h0m-3-13h0m-4 13h0m-12 0h0m-1-7h0m-2 8h0m-1 5h0m0-4h0m-2-6h0m-2-7h0m-5 8h0m-6 3h0m-9-2h0m-14-6h0m-1 1h0m-1 11h0m0-12h0m-5 1h0m-2 13h0m-1 0h0m0-7h0m-3 7h0m-53-6h0m-14-3h0m-2 1h0m-23 3h0m5 22h0m13-2h0m7-14h0m22 4h0m1 13h0m19-9h0m0-5h0m7 15h0m2-17h0m7 8h0m2 5h0m8 0h0m1 3h0m3 0h0m8-13h0m14 9h0m3-7h0m9-4h0m0 11h0m5 1h0m0-5h0m1-6h0m7 4h0m2-4h0m8-3h0m1 2h0m8 0h0m3 16h0m5-8h0m1-7h0m11 10h0m10-10h0m16 31h0m-43 5h0m-1-17h0m-31 0h0m-11 6h0m-7 6h0m-1-5h0m-9-8h0m-4 5h0m-2-3h0m-5 9h0m-12-2h0m-7 1h0m-1-11h0m-5 14h0m-16-6h0m-3 0h0m0-2h0m-9 5h0m-1-11h0m-2 5h0m-6 11h0m-50-16h0m38 28h0m6 9h0m23-15h0m46 0h0m4 5h0m1-3h0m3 0h0m2 4h0m11-6h0m46 0h0m5 5h0m1-6h0m109 22h0m-149 0h0m-8 0h0m-9 2h0m-6-2h0m-18-2h0m-4 16h0m-15-17h0m-9 3h0m-18 16h0m-54-2h0m27 9h0m22 12h0m20-16h0m9 6h0m18-2h0m14-6h0m44 18h0m-84 13h0m-8 3h0" fill="none" stroke="#000" stroke-opacity="0.6" stroke-width="6.0" stroke-linecap="square"/>
<path transform="scale(.1)" d="M1036 2374h0m-45 37h0m5 8h0m4-17h0m9 17h0m2-3h0m1-15h0m1 3h0m7 10h0m0 4h0m2-1h0m9 1h0m3-10h0m1 1h0m14 5h0m27-14h0m15 15h0m-8 22h0m-6 0h0m-9-2h0m-6-3h0m-5-8h0m-5 10h0m-3-9h0m-5-2h0m-1 16h0m-1 0h0m-8-7h0m0 7h0m-1-19h0m-2 12h0m-3-6h0m0-5h0m-1 17h0m-3-10h0m0 6h0m-2-10h0m-1 15h0m-3-3h0m-1 2h0m-3-15h0m-5 0h0m0 14h0m-1-9h0m-2-5h0m-7 4h0m-1 5h0m-1-6h0m-5 0h0m-1 10h0m-1-4h0m-5 0h0m-3 6h0m-30-11h0m23 18h0m3 0h0m5 5h0m0 7h0m1-7h0m1 6h0m0-7h0m2-1h0m0 3h0m2-6h0m2 4h0m4-7h0m1 8h0m0 4h0m0 0h0m2 2h0m1-11h0m0-1h0m0 13h0m1 2h0m1-4h0m0-7h0m0 9h0m2-9h0m1-3h0m0 9h0m1 3h0m1-15h0m1 0h0m1-2h0m1 15h0m2-12h0m0-3h0m0 4h0m1 7h0m1 6h0m0 2h0m1-13h0m1 13h0m0-5h0m1-8h0m1-5h0m2 1h0m0 13h0m2 0h0m0 2h0m1-5h0m1-4h0m0 5h0m1 4h0m1 1h0m1-7h0m1 3h0m3 0h0m1 2h0m1-1h0m1-2h0m0-5h0m0-8h0m0 17h0m1-4h0m0-12h0m1 5h0m0 2h0m1 8h0m3-10h0m1 6h0m1-7h0m0 11h0m1-11h0m2 10h0m1 0h0m1-6h0m1-8h0m0 9h0m0-6h0m1 13h0m1-1h0m0 3h0m2-14h0m0 1h0m2-5h0m0 6h0m0-1h0m0 8h0m0 3h0m1-1h0m0-14h0m4 1h0m0 2h0m1 11h0m2 3h0m2-8h0m0 6h0m3 0h0m0-5h0m1-4h0m1 0h0m1 4h0m5 1h0m0 4h0m11 13h0m0-4h0m-15 12h0m-2-7h0m-2-2h0m0 2h0m-1-11h0m0 16h0m-1-12h0m0-4h0m0 19h0m-1-5h0m-1 4h0m0-6h0m0 3h0m0-8h0m-2 6h0m-1-6h0m0 5h0m-3-11h0m-2 18h0m-1-12h0m-2 1h0m-1-1h0m-1 9h0m-1 3h0m-1-15h0m0 1h0m-2 13h0m-1-3h0m0 1h0m-1-6h0m0-6h0m-1 7h0m-2 1h0m-1 7h0m-1-1h0m-1-11h0m-2-7h0m0 9h0m0-5h0m-1 0h0m0 13h0m-1-7h0m0 6h0m0-5h0m0 8h0m0-12h0m-1 1h0m0-4h0m0 15h0m-1-15h0m0 5h0m-1-1h0m0 6h0m-1 1h0m-1-9h0m0 12h0m0-10h0m0-6h0m-1 1h0m-1 11h0m0 2h0m-1 3h0m-1-5h0m-1-1h0m0-12h0m0 14h0m0-11h0m0 15h0m0-18h0m0 12h0m-1-1h0m-1-4h0m0-3h0m-1 0h0m0 4h0m0-2h0m-1 3h0m0-10h0m-1 9h0m0-7h0m0 9h0m0-9h0m0 6h0m0 8h0m0-13h0m-1 3h0m0 6h0m0 0h0m0 2h0m0 1h0m0-10h0m-2-3h0m0 7h0m0 7h0m0-16h0m0 19h0m0-16h0m-1 11h0m0 5h0m0-14h0m0-3h0m-1 14h0m-1-3h0m-1 0h0m0-5h0m0-5h0m-1 14h0m0-12h0m0-3h0m0 9h0m-2 8h0m0 0h0m0-9h0m0-4h0m-1 7h0m0 0h0m0-8h0m-1 9h0m0 5h0m0-5h0m0-5h0m0 8h0m-1 2h0m0-1h0m0-2h0m-1-6h0m-1-8h0m-1 12h0m-1 4h0m0 1h0m-2-12h0m-1 11h0m0-4h0m0-1h0m-1-2h0m0-7h0m0 0h0m0 10h0m-1 4h0m-1-9h0m0-1h0m-1-1h0m0 9h0m-1-9h0m-1 9h0m0-15h0m0 13h0m0-8h0m-1 1h0m0 4h0m-2-2h0m0 10h0m-2-10h0m0-1h0m-1-7h0m-2 11h0m0-1h0m-1 0h0m0-1h0m-1 9h0m0-19h0m0 13h0m-3-11h0m-1 17h0m0-2h0m-1-7h0m-1 1h0m-4-3h0m-1 9h0m0-14h0m-3 8h0m0 3h0m0-8h0m-1 3h0m-5-6h0m-4 7h0m-3-9h0m0 11h0m-5 6h0m-5-1h0m-23-4h0m15 19h0m4-5h0m3 2h0m7-3h0m1 4h0m0-7h0m3 13h0m2 2h0m5 1h0m4-19h0m1 7h0m0 12h0m2-7h0m0-4h0m2 3h0m1-2h0m1 1h0m0-9h0m0 5h0m1 0h0m0 0h0m1 6h0m1 6h0m0-2h0m1-7h0m1-2h0m0 6h0m2 6h0m0-2h0m1 2h0m0-4h0m1-3h0m2 4h0m1 3h0m1-1h0m0-8h0m0-6h0m1 9h0m1 6h0m0 0h0m0-4h0m0-14h0m1 15h0m0-8h0m0-6h0m1 5h0m0 0h0m1-3h0m1-2h0m0 8h0m0-2h0m2 6h0m0-9h0m1 8h0m1 2h0m0-1h0m0-12h0m0 14h0m1-9h0m0-3h0m0 13h0m1-16h0m0 8h0m0 9h0m1-9h0m0 5h0m0 5h0m0-9h0m0-1h0m1-9h0m0 15h0m1 4h0m0-10h0m0 0h0m0-3h0m1 4h0m0-4h0m0 4h0m1-4h0m0 2h0m1 2h0m0 8h0m0-8h0m0-9h0m2 1h0m0 0h0m0 6h0m0 3h0m0 5h0m1 2h0m0-10h0m1-5h0m1 10h0m1-13h0m0 1h0m0 16h0m2 2h0m0-4h0m0-6h0m1 0h0m0 4h0m0-3h0m0 0h0m0-2h0m0 9h0m1-2h0m0-8h0m1 9h0m0-9h0m0-7h0m0 16h0m1-2h0m0-13h0m0 16h0m1-17h0m0 4h0m0 15h0m1-14h0m0-4h0m1 0h0m0 18h0m1-5h0m0-8h0m0-4h0m0 15h0m0-15h0m0 5h0m1 10h0m0-9h0m1 9h0m0-14h0m0-2h0m1 2h0m0 3h0m0 3h0m1 7h0m0 0h0m0-7h0m0 1h0m0 5h0m0 0h0m1-3h0m0 7h0m0-2h0m0-7h0m0 7h0m0-1h0m1-13h0m0-1h0m0 14h0m1-7h0m0-3h0m0 10h0m0 1h0m1 1h0m0 1h0m0-17h0m1 0h0m0-2h0m0 1h0m0 3h0m0 13h0m0-13h0m0-4h0m1 4h0m0 8h0m0-11h0m1 9h0m0-4h0m0 3h0m2 1h0m0-7h0m2 15h0m1-16h0m1 16h0m0-8h0m0-8h0m1 15h0m0-4h0m0-3h0m1 0h0m0 3h0m1-4h0m0 8h0m1-17h0m0 16h0m0-12h0m0 4h0m2 9h0m1-9h0m2 0h0m0-4h0m0 7h0m0-6h0m0-5h0m2 13h0m0 0h0m2-3h0m3-6h0m0-2h0m1 1h0m2 10h0m0 0h0m1-6h0m0 8h0m1 1h0m0-12h0m0 7h0m1 6h0m0 1h0m3 0h0m1-16h0m4 17h0m3-13h0m0 6h0m0-2h0m3 5h0m0-12h0m2 3h0m3-4h0m6 12h0m1-13h0m11 23h0m-5-2h0m-9 6h0m-6 1h0m-5 0h0m-3 6h0m-2 1h0m-1-14h0m-7 1h0m0 6h0m0 8h0m-1-3h0m0-2h0m-1 2h0m-2 1h0m0-4h0m0 6h0m-2-16h0m-3 14h0m-1-8h0m-1 11h0m-3-7h0m0-11h0m0 16h0m-1-9h0m0 9h0m-1-6h0m-1 3h0m-2 3h0m0-14h0m-1 8h0m0-5h0m-2 8h0m0-9h0m-1-2h0m-1 10h0m0-9h0m0 5h0m0 9h0m0-3h0m-1 3h0m-1-14h0m0 3h0m-1-4h0m0-1h0m0 17h0m-1 0h0m-1-18h0m0 7h0m-1 0h0m0-4h0m-1 8h0m0 3h0m0-1h0m-1 3h0m0 1h0m-1-14h0m0 12h0m-1 1h0m0-12h0m-1 5h0m0 4h0m0-10h0m0 14h0m0-7h0m-1-8h0m0 12h0m-1-6h0m0 2h0m0-2h0m0-3h0m0 12h0m-1-16h0m0 8h0m0-7h0m-1 4h0m0 4h0m0 7h0m0-16h0m0 8h0m0-9h0m-2 10h0m0-9h0m-1 2h0m0 10h0m0-7h0m0-5h0m0 5h0m0 9h0m-1-2h0m0 1h0m0-8h0m0 13h0m-1-7h0m0-10h0m-1 10h0m0-5h0m0-3h0m-1-3h0m0-1h0m0 16h0m0-12h0m-1 2h0m0 8h0m0-9h0m0-5h0m-1 17h0m0-7h0m-1 3h0m0 3h0m-1-7h0m0 1h0m0 7h0m0 0h0m-2-2h0m0-12h0m0 7h0m-1-8h0m0 1h0m0-3h0m0 19h0m-1-12h0m0-6h0m0 14h0m0 1h0m0-6h0m0 2h0m-1-11h0m0 11h0m0-7h0m-1-4h0m0 12h0m0-6h0m0 0h0m-1 5h0m0-6h0m-1 10h0m0-1h0m-1-13h0m0-1h0m0 2h0m0 0h0m-1 1h0m-2 11h0m0-7h0m-1 0h0m0-8h0m-1 11h0m0 1h0m-1-8h0m0 10h0m0-1h0m0-11h0m0 16h0m-1-16h0m-1 12h0m0-12h0m-2 2h0m-1-3h0m0 7h0m0 3h0m0-5h0m0 10h0m-1-8h0m0 1h0m0-5h0m0-2h0m0 8h0m-1 6h0m0-11h0m-5 12h0m-1-9h0m-1 10h0m0 0h0m-2-4h0m0-2h0m0 7h0m-1-14h0m-1 2h0m-1 8h0m-1-7h0m-1 0h0m0 8h0m0-1h0m-3-10h0m0-2h0m-1 16h0m-1-16h0m-1 1h0m-3 3h0m-1-2h0m-2 9h0m-4-8h0m-2-6h0m0 1h0m-3-1h0m0 10h0m-1 5h0m0-9h0m-3 6h0m-3 6h0m-4-9h0m-5-7h0m-16 1h0m-6 3h0m13 22h0m16 2h0m3-9h0m3 6h0m3-3h0m0 11h0m5-12h0m1-1h0m1 9h0m2 5h0m1-14h0m1-2h0m1 17h0m5-14h0m3 0h0m1-3h0m0 17h0m2-14h0m1 1h0m0-1h0m1 0h0m1-2h0m0 11h0m1-8h0m0 1h0m2-5h0m0 7h0m1 10h0m1 2h0m1-13h0m0 3h0m3 9h0m0-10h0m0-7h0m0 7h0m1-3h0m0 0h0m2-1h0m1 9h0m1-8h0m1-2h0m0 4h0m0-3h0m1-3h0m0 15h0m3-10h0m0 10h0m2-10h0m0 2h0m1 1h0m0-8h0m0 9h0m1 4h0m2-4h0m0-5h0m0 1h0m0-4h0m1 0h0m1 9h0m0-9h0m1-1h0m0 2h0m0 11h0m0 5h0m1-12h0m0 11h0m0-7h0m0-6h0m0 3h0m0-3h0m1 6h0m0 3h0m1-4h0m0 7h0m1-3h0m1 5h0m1-8h0m0-4h0m1 2h0m0-7h0m0 0h0m0 16h0m1-6h0m1 3h0m0-11h0m1-2h0m0 0h0m1 13h0m1-4h0m1-1h0m0-9h0m2 0h0m2-1h0m1 11h0m0-8h0m1 10h0m2-4h0m0 10h0m0-15h0m1 13h0m1-10h0m3-2h0m0 5h0m1-2h0m0-8h0m0 11h0m0-8h0m0 2h0m0-3h0m1 17h0m0-2h0m0 1h0m0-17h0m1 5h0m1-3h0m0-3h0m0 16h0m0-9h0m1 0h0m2-6h0m0-1h0m1 13h0m1 0h0m0-12h0m3 0h0m0 12h0m1-2h0m1-5h0m0 0h0m6-3h0m7 7h0m1 8h0m9-14h0m5-4h0m11 3h0m7 4h0m-16 14h0m-11 0h0m-9 14h0m0-3h0m-2-4h0m-4 5h0m-1-3h0m-4-2h0m-3-3h0m-1 9h0m-5-5h0m-2-6h0m-2 2h0m-4 9h0m-1 0h0m-1-9h0m0-4h0m-3 9h0m-3-5h0m-3-3h0m-1 4h0m-4 10h0m-2-15h0m-2 8h0m-1 0h0m-2-7h0m-1-1h0m-2 8h0m-1-9h0m0 17h0m-2-16h0m-2 8h0m0 7h0m-1-1h0m-1-7h0m-1 1h0m-2-1h0m-5-5h0m-1 14h0m0-2h0m-2 0h0m-1-1h0m-2-10h0m-4 15h0m-1-5h0m-1-13h0m-2 12h0m-5 0h0m-2-7h0m-3-1h0m0-5h0m-4 19h0m-1-5h0m-1-14h0m-2 17h0m-1 2h0m-8 0h0m-6-16h0m-35 26h0m47-9h0m10 3h0m1 8h0m5-1h0m1-4h0m4-6h0m2 8h0m1-6h0m3 12h0m2-9h0m1 0h0m0-3h0m16-2h0m1 6h0m1-5h0m2 5h0m1-1h0m4 8h0m5-4h0m2-4h0m0-4h0m4 9h0m7-6h0m1 6h0m7 1h0m2-6h0m1 2h0m0-5h0m8 7h0m-6 11h0m-12 13h0m-5-7h0m-3-2h0m-39 0h0m0 3h0m-6-7h0m-14 16h0m-5-6h0" fill="none" stroke="#000" stroke-opacity="1.0" stroke-width="8.0" stroke-linecap="square"/>
<rect x="35.60" y="172.60" width="97.20" height="93.20" fill="none" stroke="#111" stroke-width="1.4"/>
<text x="176.18" y="167.80" font-size="9.10" textLength="59.90" lengthAdjust="spacingAndGlyphs" fill="#262626">After Anti-Ly6G</text>
<line x1="155.10" y1="265.80" x2="158.10" y2="265.80" stroke="#111" stroke-width="0.9" />
<text x="148.52" y="268.05" font-size="6.45" textLength="3.96" lengthAdjust="spacingAndGlyphs" fill="#262626">0</text>
<line x1="156.50" y1="256.67" x2="158.10" y2="256.67" stroke="#111" stroke-width="0.9" />
<line x1="155.10" y1="247.54" x2="158.10" y2="247.54" stroke="#111" stroke-width="0.9" />
<text x="141.68" y="249.79" font-size="6.45" textLength="10.77" lengthAdjust="spacingAndGlyphs" fill="#262626">200</text>
<line x1="156.50" y1="238.41" x2="158.10" y2="238.41" stroke="#111" stroke-width="0.9" />
<line x1="155.10" y1="229.28" x2="158.10" y2="229.28" stroke="#111" stroke-width="0.9" />
<text x="141.86" y="231.53" font-size="6.45" textLength="10.59" lengthAdjust="spacingAndGlyphs" fill="#262626">400</text>
<line x1="156.50" y1="220.15" x2="158.10" y2="220.15" stroke="#111" stroke-width="0.9" />
<line x1="155.10" y1="211.02" x2="158.10" y2="211.02" stroke="#111" stroke-width="0.9" />
<text x="141.68" y="213.27" font-size="6.45" textLength="10.77" lengthAdjust="spacingAndGlyphs" fill="#262626">600</text>
<line x1="156.50" y1="201.89" x2="158.10" y2="201.89" stroke="#111" stroke-width="0.9" />
<line x1="155.10" y1="192.76" x2="158.10" y2="192.76" stroke="#111" stroke-width="0.9" />
<text x="141.73" y="195.01" font-size="6.45" textLength="10.72" lengthAdjust="spacingAndGlyphs" fill="#262626">800</text>
<line x1="156.50" y1="183.63" x2="158.10" y2="183.63" stroke="#111" stroke-width="0.9" />
<line x1="155.10" y1="174.50" x2="158.10" y2="174.50" stroke="#111" stroke-width="0.9" />
<text x="138.12" y="176.75" font-size="6.45" textLength="14.34" lengthAdjust="spacingAndGlyphs" fill="#262626">1000</text>
<line x1="158.10" y1="265.80" x2="158.10" y2="268.40" stroke="#333" stroke-width="0.55" />
<line x1="165.33" y1="265.80" x2="165.33" y2="267.40" stroke="#333" stroke-width="0.55" />
<line x1="169.56" y1="265.80" x2="169.56" y2="267.40" stroke="#333" stroke-width="0.55" />
<line x1="172.56" y1="265.80" x2="172.56" y2="267.40" stroke="#333" stroke-width="0.55" />
<line x1="174.89" y1="265.80" x2="174.89" y2="267.40" stroke="#333" stroke-width="0.55" />
<line x1="176.80" y1="265.80" x2="176.80" y2="267.40" stroke="#333" stroke-width="0.55" />
<line x1="178.40" y1="265.80" x2="178.40" y2="267.40" stroke="#333" stroke-width="0.55" />
<line x1="179.80" y1="265.80" x2="179.80" y2="267.40" stroke="#333" stroke-width="0.55" />
<line x1="181.03" y1="265.80" x2="181.03" y2="267.40" stroke="#333" stroke-width="0.55" />
<line x1="182.12" y1="265.80" x2="182.12" y2="268.40" stroke="#333" stroke-width="0.55" />
<line x1="189.36" y1="265.80" x2="189.36" y2="267.40" stroke="#333" stroke-width="0.55" />
<line x1="193.59" y1="265.80" x2="193.59" y2="267.40" stroke="#333" stroke-width="0.55" />
<line x1="196.59" y1="265.80" x2="196.59" y2="267.40" stroke="#333" stroke-width="0.55" />
<line x1="198.92" y1="265.80" x2="198.92" y2="267.40" stroke="#333" stroke-width="0.55" />
<line x1="200.82" y1="265.80" x2="200.82" y2="267.40" stroke="#333" stroke-width="0.55" />
<line x1="202.43" y1="265.80" x2="202.43" y2="267.40" stroke="#333" stroke-width="0.55" />
<line x1="203.82" y1="265.80" x2="203.82" y2="267.40" stroke="#333" stroke-width="0.55" />
<line x1="205.05" y1="265.80" x2="205.05" y2="267.40" stroke="#333" stroke-width="0.55" />
<line x1="206.15" y1="265.80" x2="206.15" y2="268.40" stroke="#333" stroke-width="0.55" />
<line x1="213.38" y1="265.80" x2="213.38" y2="267.40" stroke="#333" stroke-width="0.55" />
<line x1="217.61" y1="265.80" x2="217.61" y2="267.40" stroke="#333" stroke-width="0.55" />
<line x1="220.61" y1="265.80" x2="220.61" y2="267.40" stroke="#333" stroke-width="0.55" />
<line x1="222.94" y1="265.80" x2="222.94" y2="267.40" stroke="#333" stroke-width="0.55" />
<line x1="224.85" y1="265.80" x2="224.85" y2="267.40" stroke="#333" stroke-width="0.55" />
<line x1="226.45" y1="265.80" x2="226.45" y2="267.40" stroke="#333" stroke-width="0.55" />
<line x1="227.85" y1="265.80" x2="227.85" y2="267.40" stroke="#333" stroke-width="0.55" />
<line x1="229.08" y1="265.80" x2="229.08" y2="267.40" stroke="#333" stroke-width="0.55" />
<line x1="230.17" y1="265.80" x2="230.17" y2="268.40" stroke="#333" stroke-width="0.55" />
<line x1="237.41" y1="265.80" x2="237.41" y2="267.40" stroke="#333" stroke-width="0.55" />
<line x1="241.64" y1="265.80" x2="241.64" y2="267.40" stroke="#333" stroke-width="0.55" />
<line x1="244.64" y1="265.80" x2="244.64" y2="267.40" stroke="#333" stroke-width="0.55" />
<line x1="246.97" y1="265.80" x2="246.97" y2="267.40" stroke="#333" stroke-width="0.55" />
<line x1="248.87" y1="265.80" x2="248.87" y2="267.40" stroke="#333" stroke-width="0.55" />
<line x1="250.48" y1="265.80" x2="250.48" y2="267.40" stroke="#333" stroke-width="0.55" />
<line x1="251.87" y1="265.80" x2="251.87" y2="267.40" stroke="#333" stroke-width="0.55" />
<line x1="253.10" y1="265.80" x2="253.10" y2="267.40" stroke="#333" stroke-width="0.55" />
<line x1="254.20" y1="265.80" x2="254.20" y2="268.40" stroke="#222" stroke-width="0.6" />
<text x="177.67" y="280.80" font-size="6.59" textLength="6.80" lengthAdjust="spacingAndGlyphs" fill="#262626">10</text>
<text x="184.53" y="277.40" font-size="5.45" textLength="2.68" lengthAdjust="spacingAndGlyphs" fill="#262626">0</text>
<text x="201.69" y="280.80" font-size="6.59" textLength="6.80" lengthAdjust="spacingAndGlyphs" fill="#262626">10</text>
<text x="208.62" y="277.40" font-size="5.53" textLength="1.67" lengthAdjust="spacingAndGlyphs" fill="#262626">1</text>
<text x="225.72" y="280.80" font-size="6.59" textLength="6.80" lengthAdjust="spacingAndGlyphs" fill="#262626">10</text>
<text x="232.52" y="277.40" font-size="5.45" textLength="2.81" lengthAdjust="spacingAndGlyphs" fill="#262626">2</text>
<text x="249.74" y="280.80" font-size="6.59" textLength="6.80" lengthAdjust="spacingAndGlyphs" fill="#262626">10</text>
<text x="256.62" y="277.40" font-size="5.45" textLength="2.69" lengthAdjust="spacingAndGlyphs" fill="#262626">3</text>
<line x1="214.40" y1="172.60" x2="214.40" y2="265.80" stroke="#777" stroke-width="0.9" />
<text x="232.65" y="182.80" font-size="7.03" textLength="14.27" lengthAdjust="spacingAndGlyphs" fill="#333">0.7%</text>
<path transform="scale(.1)" d="M1835 2134h0m28-9h0m75 9h0m79-2h0m-104 21h0m-82-2h0m-17 1h0m49 21h0m22-12h0m75 10h0m42 5h0m41-5h0m45 5h0m-13 13h0m-127 7h0m-67-6h0m-97 21h0m24-10h0m0 7h0m45-3h0m63 3h0m20-1h0m4 5h0m15 6h0m10-9h0m6 1h0m114-9h0m26 3h0m58 26h0m-52 1h0m-68 1h0m-5-1h0m-17 8h0m-30-12h0m-84 12h0m-29-19h0m-7 3h0m-39 5h0m-2 9h0m-11 1h0m-29-13h0m-16 4h0m-7 4h0m-1 5h0m-65 9h0m25 8h0m64-3h0m8-9h0m2 10h0m1-6h0m3 9h0m9-3h0m10-4h0m3 0h0m7-8h0m8 7h0m7-2h0m8 12h0m7-3h0m20 2h0m13-9h0m21-7h0m2-1h0m4 10h0m2 3h0m1-3h0m0 9h0m4-12h0m15 11h0m21-2h0m15-15h0m1 5h0m5 3h0m5 4h0m4-11h0m15 12h0m14 1h0m21 2h0m34 0h0m16-6h0m15-10h0m15 8h0m10 17h0m-10-6h0m-3 0h0m-13 2h0m-64 4h0m-1-6h0m-30 13h0m-10-2h0m-12-3h0m-3-4h0m-3 9h0m-33 3h0m-1 3h0m-5-3h0m-4 3h0m-15-2h0m-12 2h0m0-13h0m-6 11h0m-27 0h0m-3-12h0m-3-1h0m-13 5h0m-1 4h0m-4-12h0m-3 16h0m0-13h0m-3 14h0m-5-17h0m-4 11h0m0 0h0m-7-1h0m-12-5h0m-12 6h0m-2-1h0m0-5h0m-9 4h0m-1-7h0m-3-1h0m-14 8h0m-1 9h0m-1-16h0m0 2h0m-5-4h0m-2 16h0m-8-11h0m-19 7h0m-1 2h0m-57-7h0m-8 25h0m4 4h0m39-10h0m23 10h0m2-15h0m4 3h0m13 5h0m3-1h0m10-8h0m12 9h0m4 8h0m10 1h0m2-13h0m3 10h0m2-8h0m6 10h0m9-8h0m3-2h0m16 7h0m12-1h0m5-7h0m0 5h0m1-5h0m2-5h0m15 7h0m4 4h0m2-6h0m2 9h0m1 0h0m5 2h0m5-9h0m16 2h0m6-6h0m3 7h0m9 7h0m5 0h0m9-2h0m0-16h0m1 6h0m5 1h0m8-3h0m12-2h0m9-2h0m20 11h0m28-8h0m0 3h0m0-2h0m4 11h0m9-15h0m0 9h0m1 7h0m2-2h0m18-12h0m4 9h0m1-3h0m2-9h0m6 17h0m6-14h0m0-1h0m10 14h0m20-15h0m10 13h0m20-4h0m62 24h0m-48-14h0m-16 3h0m-6 10h0m-28-5h0m-7 9h0m-7-12h0m0-4h0m-8 12h0m-5-1h0m-12 7h0m-3-9h0m-3 9h0m-2-7h0m-15-4h0m-1 2h0m0-10h0m0 8h0m-12 6h0m-5 4h0m-1-13h0m0 6h0m-5 3h0m-2-3h0m-2-1h0m-12-2h0m0-8h0m-1 2h0m-1 16h0m-9-9h0m-2 2h0m-3 1h0m-2-10h0m-2 1h0m-6-2h0m-7 1h0m-12-2h0m-7 7h0m-11 9h0m-3-9h0m-7 11h0m-1-15h0m-4 16h0m-16-8h0m-6-3h0m-5-8h0m-2 8h0m-3 1h0m0 9h0m-15-11h0m-7 5h0m-1-4h0m-1 5h0m-2-6h0m-5-2h0m-19 0h0m-3 6h0m-1 1h0m-2 1h0m-10-6h0m-2 11h0m0-3h0m-2-1h0m-1-4h0m0-9h0m-10 12h0m-2-10h0m-1 12h0m-1-5h0m-4 1h0m-3 0h0m-8-8h0m0 15h0m-5-8h0m-5 1h0m-7-6h0m0 4h0m-1 1h0m-4 0h0m-7 7h0m-3-9h0m-3 10h0m-15-5h0m-2 4h0m-12-4h0m-2 6h0m-4-19h0m-1 13h0m-21-13h0m-9 0h0m-25 11h0m-34 1h0m53 18h0m48-1h0m9-4h0m12-5h0m2 17h0m8-12h0m7-4h0m0 10h0m2-8h0m0 11h0m1-5h0m1 6h0m4 2h0m7-13h0m12 9h0m0-3h0m1-5h0m2 1h0m7 5h0m2 6h0m1-10h0m3 4h0m11 5h0m8-12h0m14 15h0m5-8h0m0 4h0m4-12h0m3 14h0m6-8h0m1 2h0m0-9h0m4 17h0m5 0h0m5-18h0m7 15h0m0 3h0m3-5h0m8-4h0m4-9h0m2 11h0m1-5h0m4 7h0m1-9h0m1 7h0m7 6h0m2-16h0m2 5h0m4-3h0m23 2h0m12 3h0m1 7h0m7-8h0m1 4h0m7-4h0m6 10h0m6-17h0m2 18h0m3-12h0m11-4h0m1 2h0m2 14h0m3-1h0m4-3h0m0-6h0m2-4h0m3 4h0m1-1h0m18 8h0m4-9h0m0 5h0m1-1h0m7 3h0m0-7h0m2-7h0m20 18h0m3-12h0m1-3h0m0-2h0m3 8h0m8-8h0m10 7h0m2 2h0m31 0h0m29 1h0m17 1h0m33-3h0m-38 24h0m-2 1h0m-28-3h0m-9 7h0m-18-11h0m0 1h0m-8 2h0m-2 7h0m-3-4h0m-16-9h0m-10-3h0m-15 13h0m-2-5h0m-8-8h0m-1 18h0m-8-19h0m-2 4h0m-2-1h0m-1 9h0m-14 4h0m-2 1h0m-4-13h0m-5-4h0m-2 19h0m-2-11h0m-3 2h0m0 6h0m0-10h0m-1 2h0m-6 3h0m0 7h0m-2-1h0m-9 1h0m-3-8h0m-7-4h0m-6 10h0m-1 3h0m0-16h0m-4-2h0m-3 0h0m-3 14h0m-1-12h0m-7-3h0m-5 7h0m-5 9h0m-5-9h0m-2-3h0m0 10h0m-5-4h0m-4-9h0m-2 14h0m-11-9h0m-18-2h0m-9 15h0m-14-13h0m-8 5h0m-6 5h0m0 3h0m-4-1h0m0-8h0m-2 6h0m-5-11h0m-1 1h0m-1 7h0m-4-9h0m-9 5h0m-7-1h0m-1-3h0m-3 12h0m-1 2h0m-1-7h0m0 2h0m0-12h0m-9 3h0m-8 11h0m-2-8h0m-6 7h0m-3-7h0m-3 2h0m0-7h0m-4-2h0m-4 15h0m-3 2h0m-1-3h0m-2-2h0m-6-4h0m0 8h0m-1 0h0m-1 1h0m-1-10h0m-4-4h0m0 7h0m-2-5h0m-3 12h0m-7-12h0m-6-1h0m-17 8h0m-2-8h0m-11 3h0m-46 31h0m33-19h0m14 18h0m3-12h0m4 1h0m4 0h0m10 8h0m7-15h0m12 9h0m1-4h0m1-2h0m5 14h0m1-12h0m4 13h0m0-16h0m4 8h0m6 2h0m1 3h0m0-8h0m4 8h0m1 3h0m6-3h0m1-5h0m2-7h0m1 12h0m2-9h0m7 5h0m0-11h0m3 9h0m1 9h0m2-6h0m2 3h0m4-2h0m5-4h0m1 9h0m1-17h0m9 4h0m1-2h0m1 4h0m1-3h0m1-2h0m0 11h0m1-8h0m0 5h0m2 5h0m13-15h0m1 6h0m0 0h0m3-1h0m1 12h0m7-15h0m1 7h0m2 3h0m3-11h0m1 13h0m3 4h0m12-2h0m0-5h0m9 5h0m2 1h0m6-10h0m5-4h0m17 10h0m4-13h0m4 15h0m10 2h0m4 0h0m7-5h0m15 5h0m6-9h0m2 2h0m1 5h0m6-4h0m3-3h0m1 2h0m4-4h0m8-1h0m1 1h0m0-2h0m2 4h0m2 8h0m8-15h0m0 10h0m1-7h0m1-4h0m0 1h0m3 18h0m4-12h0m1 10h0m0-13h0m9 2h0m1 7h0m3 6h0m1 0h0m1-17h0m0 3h0m3 4h0m5 0h0m6-3h0m18 13h0m5-14h0m5 10h0m2-7h0m4 9h0m5 0h0m0-11h0m3 4h0m12 7h0m0-14h0m12 9h0m2-4h0m4 6h0m16-6h0m2-6h0m4 8h0m7 0h0m0-6h0m25 10h0m0-4h0m17 4h0m51-9h0m-36 15h0m-39 11h0m-3 3h0m-3 5h0m-2-7h0m-9-8h0m-17 0h0m-2 7h0m-6 0h0m-9-5h0m-8 2h0m-9 4h0m-3 2h0m-7-7h0m-10-7h0m-6 1h0m-2 6h0m-1 8h0m-8-6h0m-2-8h0m-3 18h0m-1-7h0m-1 0h0m-1-4h0m-9-1h0m-2 3h0m-2-1h0m-4-3h0m-4 13h0m-12-16h0m-2 12h0m-1 0h0m-2-10h0m-4 5h0m-2-3h0m-1 4h0m-2-9h0m0 17h0m-2-15h0m-1-2h0m-2 6h0m-2 5h0m-3-1h0m0 0h0m-1-12h0m-2 3h0m-5-3h0m-18 4h0m-3 4h0m-2-7h0m-1 1h0m-1 9h0m-6 1h0m0-10h0m0 12h0m0 1h0m-26-7h0m-6 11h0m-8-11h0m-7 4h0m-3-6h0m-7 8h0m-10 4h0m-14-14h0m-1 8h0m-1-10h0m-10-2h0m-4 16h0m-1-4h0m-12-10h0m-6 7h0m0 3h0m0 6h0m-4-11h0m-6 4h0m-1 2h0m-5-5h0m0-2h0m-2-4h0m-1 8h0m-2 1h0m-3 8h0m-1-10h0m-4-7h0m0-1h0m-2 2h0m-2 13h0m-4-12h0m-1 15h0m-5-8h0m-3 5h0m-1 0h0m-3 2h0m0-18h0m0 18h0m-1-18h0m-5 4h0m0 6h0m0 5h0m-1-13h0m-1 10h0m-7 5h0m0-12h0m-1 12h0m-2-1h0m-2-14h0m-4 13h0m0-12h0m0 5h0m0 0h0m-10 0h0m-2 11h0m-3-16h0m0 5h0m-5 5h0m-2 4h0m-5-15h0m-1 6h0m0 1h0m-2 8h0m-7-17h0m-3 12h0m-14-9h0m-32 10h0m0 5h0m-8-7h0m-31 6h0m34 16h0m3-10h0m10 1h0m13 15h0m2-19h0m12 14h0m13 2h0m4-1h0m1-15h0m6 14h0m3-4h0m1 8h0m1-4h0m2 0h0m5-12h0m6 1h0m0 2h0m4 14h0m2-8h0m2 4h0m1-13h0m6 2h0m0-3h0m6 11h0m0-3h0m3-4h0m1 3h0m2-7h0m0-1h0m0 14h0m3-10h0m3 1h0m7 2h0m0 2h0m4 5h0m0-3h0m1-10h0m0 18h0m0-5h0m2 2h0m9-15h0m2 16h0m1-8h0m0-4h0m3 0h0m10 7h0m1-1h0m1-2h0m1-8h0m7 13h0m5 3h0m1-13h0m3-2h0m2-2h0m0 5h0m7-5h0m12 18h0m0-2h0m2-5h0m5-10h0m2 1h0m13-1h0m2 6h0m11 12h0m0-12h0m3 6h0m5 4h0m2 1h0m5-17h0m16 0h0m1 17h0m0 1h0m2-16h0m15 13h0m5-16h0m1 5h0m5 14h0m5-7h0m1-4h0m2-2h0m0-4h0m2 8h0m1 3h0m1 0h0m1 4h0m2-12h0m10 9h0m2 0h0m1-3h0m1 0h0m1-4h0m2-4h0m0-2h0m1 2h0m2 10h0m8 0h0m6-8h0m0 12h0m6-16h0m4-1h0m1 9h0m1 7h0m4-10h0m2-5h0m3 13h0m10 2h0m5-5h0m8-9h0m1 14h0m3 3h0m7-4h0m5-2h0m10 3h0m3-12h0m4-4h0m3 17h0m15-1h0m2-12h0m3 0h0m6-4h0m8 18h0m16-12h0m2-3h0m12-3h0m4 17h0m3 2h0m3-5h0m14-14h0m30 0h0m2 15h0m7-10h0m-42 22h0m-7 1h0m-13-6h0m-11 5h0m-10 1h0m-2-5h0m-21 9h0m-1 4h0m-2-14h0m-20 11h0m-11-7h0m-11-3h0m0 7h0m-1-9h0m-5 12h0m-2 3h0m-4-11h0m-4 2h0m-1 6h0m-7-9h0m-2-1h0m-1 12h0m0-7h0m-5 8h0m-1-12h0m-1 11h0m0-12h0m-3-2h0m-1 14h0m-2-14h0m-10 4h0m-5-3h0m-1 14h0m-10 2h0m0-4h0m-2-13h0m-1 1h0m-4 8h0m-1-7h0m0 4h0m0 2h0m-2 0h0m-3-3h0m-5 11h0m-8-14h0m-5 4h0m-2 10h0m-2-2h0m-1-10h0m-4-1h0m-1 13h0m-1-16h0m-9 8h0m-1 0h0m0 4h0m-17 5h0m-10-16h0m-14-1h0m-10 16h0m-4-17h0m-16 3h0m-4 8h0m-2-10h0m-2 1h0m-3 13h0m-5-1h0m-3 3h0m-2 0h0m-3-6h0m-4-11h0m-4 9h0m-2 9h0m-1-11h0m-5-7h0m-7 8h0m0 3h0m-4 8h0m-4-11h0m-1 0h0m-7-5h0m-2 13h0m-2-7h0m0 5h0m-1-7h0m0 1h0m-11-6h0m-5 3h0m-1-4h0m-5 18h0m0-16h0m-6 14h0m-1-16h0m-1 12h0m-2-1h0m-1 0h0m-1-11h0m-4 2h0m-4 13h0m-2-9h0m-2 0h0m-3 1h0m-2-6h0m-1 7h0m-2 10h0m0-7h0m-3 0h0m-1 7h0m-2-9h0m-1-6h0m0 7h0m-2-7h0m-4 8h0m0-5h0m-3 8h0m-2-6h0m-2 4h0m-2-8h0m-5 6h0m-3-6h0m-14 14h0m0-13h0m-2 2h0m-5 2h0m-3-7h0m-20 15h0m-1-12h0m-14-4h0m-29 5h0m-1 0h0m-44 32h0m17-11h0m13-3h0m10 9h0m2 1h0m15-9h0m4 7h0m5-3h0m2 9h0m5-6h0m3-1h0m12-1h0m8-7h0m6 7h0m30 2h0m0 1h0m1 3h0m3-6h0m0 8h0m3-8h0m5-6h0m12 14h0m6-1h0m0-6h0m1-7h0m4-1h0m3-1h0m1 15h0m1-14h0m4 11h0m2-4h0m4-10h0m1 8h0m0 3h0m3-9h0m2 5h0m1-3h0m1 14h0m5-1h0m1 0h0m11-16h0m1 6h0m1-6h0m4 15h0m2-10h0m1-1h0m3 7h0m1-1h0m4-5h0m1 10h0m5-9h0m4-5h0m0 4h0m5-6h0m0 10h0m3 0h0m6-4h0m3 9h0m7-8h0m1 0h0m4-3h0m12 4h0m3 8h0m2-13h0m2 4h0m15-3h0m0-3h0m6 8h0m2 9h0m8-7h0m0-3h0m8 1h0m1 2h0m1-4h0m2 10h0m3-17h0m2 3h0m2 8h0m1 2h0m4-11h0m3 3h0m1 12h0m1-18h0m4 18h0m3-5h0m1 6h0m4-7h0m0-10h0m2 8h0m4 6h0m6-9h0m2 6h0m3 0h0m0 3h0m5-11h0m2-3h0m2-2h0m0 12h0m2-11h0m1 9h0m0 1h0m3 6h0m0-3h0m3-12h0m2 11h0m1-7h0m2-6h0m0 3h0m4 12h0m2 0h0m1-11h0m1 3h0m3-5h0m11 1h0m2 8h0m1-4h0m0 8h0m2-13h0m1 3h0m7 12h0m1 2h0m2-10h0m8 5h0m0 0h0m2-9h0m1 9h0m3-12h0m2 10h0m6-6h0m0-4h0m1 0h0m2 11h0m1 6h0m2-19h0m0 3h0m2 16h0m10-9h0m3-9h0m1 2h0m3 8h0m2-9h0m2 10h0m6 4h0m5-2h0m2-6h0m3 0h0m2-7h0m7 11h0m2-3h0m5-5h0m20 2h0m7-4h0m9 14h0m2 3h0m31-1h0m13 0h0m1 1h0m4-19h0m8 6h0m36 9h0m-46 17h0m-55-10h0m-6 7h0m-9-2h0m0-6h0m-3 12h0m-2 2h0m-2-15h0m-5 15h0m-17-6h0m-7 10h0m-6-7h0m-9-10h0m0 12h0m-1 0h0m-3 1h0m0-1h0m-4-9h0m0 12h0m-1 1h0m-2 1h0m-4 0h0m-4-16h0m-1 9h0m-2-3h0m-12 8h0m0-4h0m-2-10h0m-1 15h0m-2 0h0m-4-13h0m-2 8h0m-4 4h0m0-9h0m-2-6h0m-4 16h0m-2 1h0m-1 0h0m-1-16h0m-3 11h0m-6-3h0m-9-1h0m-1 2h0m0-4h0m-1-4h0m-1-1h0m-2 8h0m0-6h0m-1 6h0m-1 8h0m-5-2h0m-5 2h0m-2-11h0m-3-4h0m-2 2h0m-2 9h0m0-12h0m-1-2h0m-1 1h0m-1 13h0m-6 3h0m-4-12h0m-6 10h0m-3-7h0m-2-3h0m-3 13h0m0-14h0m-6 0h0m-2-3h0m-1 5h0m-1-1h0m-3 9h0m-4 2h0m-14-3h0m-10-3h0m-1-5h0m0 4h0m-1-6h0m-12 4h0m-2 10h0m-7-16h0m-4 16h0m-4-4h0m-5 0h0m-1-12h0m-3 17h0m-6-11h0m-3 7h0m-1-3h0m-3-3h0m-6-3h0m0 2h0m-11-5h0m-2 9h0m-3 5h0m-1-9h0m-1 3h0m-1-7h0m0 2h0m0 6h0m-1 5h0m-5 2h0m0-3h0m-1-6h0m-3 8h0m-1-2h0m-3-9h0m-4 6h0m-2-4h0m-4-7h0m-7 9h0m-1 3h0m0-12h0m0 8h0m-1-4h0m-6 11h0m-7-11h0m0 7h0m0 0h0m0-2h0m-3 4h0m-1-5h0m-1-7h0m-4 11h0m0-3h0m-1-11h0m0 15h0m-7-7h0m0 3h0m-1 4h0m-1-1h0m-9 4h0m-14-8h0m-3 0h0m-5 6h0m-6 2h0m-3-5h0m0 1h0m-2-4h0m-1-4h0m-2-1h0m-14-3h0m-4 0h0m-13 8h0m-3 9h0m-23-8h0m0-3h0m-7-1h0m-13 3h0m-2 2h0m-3 0h0m-7-12h0m-2 8h0m-1 9h0m-20 0h0m-3 0h0m-21-10h0m0 20h0m9 11h0m2-7h0m13-9h0m8 2h0m3 11h0m4-2h0m9-11h0m1 4h0m7 11h0m3-11h0m3 9h0m2-12h0m3-2h0m3 4h0m0-3h0m2 14h0m4-6h0m1 5h0m4-10h0m0 4h0m7-7h0m2 13h0m4-6h0m1-5h0m1-3h0m1 16h0m1-12h0m4-3h0m1 8h0m2-5h0m2 13h0m1-16h0m2 15h0m1 2h0m0-5h0m1-1h0m10-8h0m4 10h0m2-12h0m5 1h0m13 3h0m3-5h0m3 6h0m1-1h0m1 4h0m3 3h0m1-7h0m1 11h0m4-12h0m2-5h0m2 1h0m2 9h0m2-6h0m0 7h0m3 0h0m5 7h0m0-10h0m2 10h0m6-16h0m7 7h0m1-5h0m6 0h0m6 5h0m4-4h0m14 10h0m6-16h0m1 7h0m0 5h0m6-2h0m0 1h0m2-4h0m4-7h0m4 18h0m12-18h0m0 8h0m0 4h0m5-4h0m7 10h0m2-5h0m0-1h0m4 4h0m10 1h0m22-1h0m9 1h0m3-16h0m12 5h0m1-1h0m1 7h0m6-4h0m0 9h0m2-13h0m5 5h0m1-5h0m2-4h0m4 8h0m1 5h0m1 3h0m2 3h0m0-15h0m2 11h0m4-4h0m0 5h0m2-1h0m2-14h0m0 18h0m3-10h0m0 7h0m2-7h0m4-1h0m1 2h0m0 9h0m2-2h0m2-9h0m2 3h0m0-6h0m2-1h0m0 12h0m4 2h0m1 1h0m1-1h0m2-5h0m2-10h0m0 15h0m4 0h0m4-13h0m2-3h0m2 10h0m1-1h0m1 8h0m1-7h0m1-9h0m0 8h0m0 7h0m1-11h0m0 5h0m0 5h0m0-7h0m1 7h0m2-17h0m1 17h0m1-5h0m2-9h0m2 16h0m1-15h0m5 14h0m1-11h0m3-6h0m0 12h0m3-7h0m0 4h0m2-10h0m1 16h0m0-3h0m2-13h0m1 14h0m0 0h0m0-7h0m0 9h0m1-6h0m4-9h0m4 7h0m0 8h0m1-12h0m2 15h0m1-4h0m3 2h0m2-6h0m1-7h0m1 4h0m0 11h0m0-14h0m0 13h0m3-5h0m0-4h0m2-1h0m12 3h0m0 3h0m0-3h0m1 3h0m2 5h0m0-7h0m1-9h0m5 15h0m2-12h0m0-5h0m2 13h0m0-12h0m2 15h0m4-15h0m8 15h0m4-17h0m2 5h0m1-2h0m3-3h0m1 1h0m3 18h0m2-12h0m1-7h0m8 2h0m0 14h0m2-10h0m3 10h0m0 3h0m2-11h0m7 2h0m9-1h0m5 9h0m18-3h0m10-13h0m11 34h0m0 2h0m-16-17h0m-14 10h0m-19 8h0m-4-11h0m-7-6h0m-1 14h0m-2 2h0m-14-15h0m-6 0h0m-2 9h0m-3 6h0m-6-18h0m-6 4h0m-2 11h0m-2-2h0m-1-12h0m-4 18h0m-4-17h0m0 0h0m-1 10h0m-1-12h0m-1 7h0m0 10h0m-1-16h0m-3 13h0m0-8h0m-1 0h0m0-6h0m-4 14h0m-4-6h0m-2-6h0m-3 16h0m-3-13h0m0 8h0m-5-12h0m-2 5h0m0 10h0m-7-7h0m0-3h0m-6 2h0m-2-7h0m-1 10h0m0-5h0m-1 0h0m0 11h0m-3-2h0m0-1h0m-1-10h0m0 10h0m-1-13h0m-3 13h0m0-12h0m0 4h0m-4-4h0m0 3h0m-4 0h0m-4 9h0m0-7h0m0 12h0m-2 0h0m-2-15h0m-1-4h0m0 7h0m-1 0h0m-3 6h0m-1-13h0m-1 12h0m-1 3h0m-1-10h0m-2-2h0m-6 14h0m-1-17h0m-1 15h0m0-8h0m-1 0h0m-4-2h0m-1 11h0m0-5h0m-2 7h0m0 1h0m0-15h0m0 3h0m-3 9h0m-4 1h0m-2 1h0m-1 1h0m-1 0h0m0-7h0m-6 3h0m-1-4h0m-1-2h0m-1 1h0m-1 5h0m-3-1h0m0-4h0m-3-3h0m-3 8h0m0 0h0m-1-10h0m-1 3h0m-2 9h0m-3-11h0m-2 10h0m-1 0h0m0-6h0m-2-7h0m-2-1h0m-3 8h0m-3-1h0m0 7h0m-5-5h0m-1 1h0m-3-4h0m-2-7h0m-2 18h0m-2-7h0m-13-10h0m-3 17h0m-1-18h0m-19 8h0m-9 0h0m0-5h0m-15 3h0m-3-2h0m-3-3h0m-3-2h0m-8 3h0m-5 15h0m-4 1h0m-8-17h0m-21 11h0m-3-10h0m-6 8h0m-13-5h0m-1 2h0m-1-2h0m-5 1h0m-2-4h0m-3 5h0m-3-4h0m-4 6h0m-1 1h0m0-11h0m-13 10h0m-2-10h0m-2 12h0m-3-8h0m-3 15h0m-1-3h0m-5-10h0m-2 1h0m-5 2h0m-1-8h0m-9 7h0m-2 10h0m-3-11h0m-12 7h0m-3-2h0m0-6h0m-5-2h0m-4-4h0m-1 18h0m-1-18h0m-2 14h0m0-7h0m0 10h0m-2-2h0m-11-7h0m-1-7h0m0 1h0m0 10h0m-4-12h0m-2 17h0m-3 1h0m-11-14h0m-2-4h0m-1 16h0m-8 2h0m-3-16h0m-4 16h0m0-6h0m-8-6h0m-20 10h0m-13-11h0m14 16h0m1 5h0m2 8h0m1 0h0m0 5h0m3-7h0m2-3h0m3-6h0m0 15h0m0-6h0m1 6h0m5-5h0m3 2h0m1-15h0m3 17h0m0-13h0m2-1h0m3 11h0m2-14h0m1 13h0m3 0h0m2-4h0m3 3h0m2-10h0m0 5h0m3 8h0m2 4h0m1-2h0m2-7h0m5 4h0m0-14h0m2 6h0m5 7h0m2 0h0m1-11h0m0-2h0m2 6h0m4-4h0m2 8h0m0-5h0m2 14h0m0-5h0m1 5h0m0-8h0m3-1h0m1-7h0m2 16h0m5-17h0m2 12h0m1 1h0m2 1h0m5 0h0m0-14h0m3 16h0m0-14h0m0 1h0m1 13h0m1-11h0m1-7h0m2 11h0m6 4h0m10-7h0m1 4h0m8-9h0m0-2h0m4 13h0m1-12h0m0 12h0m2-8h0m10-4h0m2 0h0m3 2h0m0 14h0m2-12h0m4-2h0m9 1h0m5 14h0m3-2h0m15 1h0m10-4h0m1-11h0m2-2h0m0 0h0m2 12h0m4 3h0m23-3h0m0-2h0m1-2h0m9-4h0m2 13h0m3-1h0m2-12h0m1 14h0m1-7h0m11 5h0m8-10h0m1 7h0m2-5h0m1-1h0m2 8h0m0-11h0m1 14h0m5-13h0m3 2h0m8 4h0m2 3h0m5-14h0m1 3h0m3 8h0m10 6h0m1-17h0m0 0h0m1 8h0m3-6h0m4 0h0m0 10h0m5-10h0m0-1h0m8 9h0m8 6h0m2-3h0m8-7h0m1 6h0m7-11h0m2 5h0m4 8h0m0-4h0m0-6h0m5 5h0m0 2h0m5 6h0m3-3h0m3 2h0m1-15h0m3 13h0m1 3h0m0 1h0m2-12h0m4-7h0m7 6h0m3 13h0m2-15h0m3 1h0m0-5h0m1 1h0m3 7h0m3 7h0m1-14h0m1 2h0m2 14h0m0-7h0m4 9h0m11-17h0m0 0h0m0 5h0m1 9h0m1-16h0m1 3h0m1 2h0m3-5h0m2 13h0m1-11h0m3 6h0m2-1h0m4 9h0m2-11h0m5 3h0m11 7h0m2-4h0m13-11h0m8 15h0m3-2h0m1 3h0m16-9h0m29 7h0m3-8h0m14-1h0m4 12h0m-27 12h0m-39 7h0m-1-10h0m-23 2h0m-4-3h0m-1 0h0m0 7h0m-3 7h0m0-3h0m-3-9h0m-2-2h0m-2 10h0m-3-6h0m-1-6h0m-1-1h0m-1 16h0m-1-14h0m-11 9h0m-11 2h0m0-6h0m-1 4h0m-3-2h0m-9 7h0m0-10h0m0 0h0m-13 1h0m0 0h0m-9-2h0m-3-7h0m0 9h0m-1 1h0m-1 4h0m-2-2h0m-3-11h0m-3-1h0m-1 17h0m-4-11h0m-1-1h0m0 8h0m-3-10h0m-4 4h0m0 4h0m-1 8h0m-1-19h0m-4 7h0m-3 3h0m0-3h0m0-6h0m-1-1h0m0 5h0m-4-3h0m-1 8h0m-2 7h0m-8-15h0m-10-2h0m-12 8h0m-3 5h0m-5-7h0m-8 2h0m0 4h0m-7-9h0m-8 10h0m-3-13h0m-20 18h0m-2-7h0m0-3h0m-7 2h0m-1 2h0m-9-5h0m-9-3h0m-8-1h0m-9 0h0m-10 5h0m-9 4h0m0-3h0m-2-6h0m-1 16h0m-5-19h0m-3 12h0m-3-3h0m-6-7h0m-10 10h0m-2 6h0m-7-11h0m-11-6h0m-2 14h0m-1-3h0m-1 2h0m0 0h0m-7-13h0m0 11h0m-2-8h0m-1 0h0m-2 2h0m-3 10h0m-8 1h0m-3-3h0m-4 4h0m-1-11h0m-4 8h0m-4-4h0m-5-9h0m-2 10h0m-5 3h0m0-10h0m-3 0h0m0-3h0m-2-1h0m-8 4h0m0 12h0m-4-11h0m-1-3h0m0 9h0m-1-1h0m-3-4h0m-4 0h0m-2-1h0m-1 5h0m-1-1h0m-3 7h0m0 2h0m-1-16h0m-4 10h0m-6-10h0m-1 6h0m-3 5h0m-2-4h0m-1 0h0m-2-3h0m-1-4h0m-6 14h0m-1-12h0m-10 6h0m0-8h0m-3 12h0m-2-8h0m-1-5h0m-1 16h0m-1-3h0m0-13h0m0 0h0m-2 17h0m-4-9h0m-8 1h0m-6 7h0m-5-16h0m0 15h0m-6-9h0m-5 24h0m4 4h0m6-2h0m7-12h0m8 2h0m8-3h0m4 13h0m0 4h0m3-4h0m1 3h0m3 0h0m11 2h0m1-10h0m2-8h0m1 15h0m7-7h0m16-5h0m2 9h0m1 5h0m0-1h0m7-8h0m0-5h0m6 2h0m1-6h0m1 1h0m4 10h0m0-8h0m1 8h0m5-5h0m9-1h0m4-1h0m13 8h0m3 4h0m1-11h0m10 4h0m2 2h0m5-11h0m11 3h0m3 1h0m10 0h0m9 11h0m3-2h0m6-8h0m5 14h0m2-18h0m1 9h0m6 5h0m4 0h0m23-7h0m5-6h0m1 7h0m9 5h0m19-1h0m0 0h0m6-6h0m10 11h0m10-7h0m6-3h0m1-8h0m4 0h0m1 12h0m15-4h0m1-2h0m6 7h0m1-5h0m0 7h0m5-10h0m2 2h0m3 5h0m2 5h0m2-1h0m8-9h0m0 8h0m1-14h0m10 14h0m11-14h0m4 1h0m1 8h0m13 5h0m6-10h0m2-1h0m17 12h0m3-7h0m2 9h0m4-16h0m1 8h0m4-6h0m0 13h0m5-9h0m6 0h0m11 7h0m10-14h0m0 13h0m7-4h0m9 5h0m2-14h0m2 4h0m8-4h0m10 18h0m100-18h0m-97 35h0m-1 3h0m-10-5h0m-25-9h0m-2-3h0m-31-1h0m-12 9h0m-6-6h0m-22 0h0m0 8h0m-26-6h0m-11 8h0m-7-1h0m-3 5h0m-11-17h0m-1 8h0m-2-5h0m-13 8h0m-2 4h0m-15-2h0m-8 0h0m-8-5h0m-7-1h0m-6 9h0m-1-13h0m-5 7h0m-11 1h0m-37-11h0m-16 3h0m-4 0h0m-22-4h0m-24 5h0m-18-5h0m-7 17h0m-9-10h0m-2 5h0m-3-2h0m-1-8h0m-6 8h0m-4 4h0m-3-7h0m-4 3h0m-2-3h0m-2-3h0m-14 11h0m-1 0h0m-3-14h0m0 8h0m-3-6h0m0 9h0m-4 3h0m-16-7h0m-6-7h0m-17 15h0m-1-10h0m-6 9h0m-12-12h0m39 19h0m14 0h0m35-1h0m27 1h0m19-2h0m83 0h0m236 1h0" fill="none" stroke="#000" stroke-opacity="0.5" stroke-width="6.0" stroke-linecap="square"/>
<path transform="scale(.1)" d="M1806 2152h0m1 15h0m110 26h0m-41 2h0m-8-5h0m-39 3h0m-70 13h0m60 13h0m87-12h0m23 6h0m48-11h0m-77 37h0m-21-5h0m-2-9h0m0 8h0m-5-11h0m-8 10h0m-10-10h0m-25 4h0m-51 6h0m-53-7h0m10 31h0m70 0h0m54-9h0m11 12h0m4-13h0m45 11h0m7-9h0m78 21h0m-65-3h0m-3 2h0m-20 4h0m-6 4h0m-2 1h0m-5-5h0m-26-4h0m-7 7h0m-4 2h0m-1-3h0m-3-10h0m-2 8h0m-2-8h0m-4 15h0m-1-4h0m-5 1h0m-4-5h0m0-4h0m0 10h0m-9-16h0m-4 6h0m-50 2h0m-84 27h0m20-3h0m22 5h0m13-6h0m10 1h0m14 5h0m3-1h0m10-10h0m1-3h0m5 6h0m1-2h0m13 5h0m2-3h0m1 3h0m22 6h0m1-13h0m26-3h0m1 9h0m23-11h0m64 16h0m19 5h0m-29 2h0m-16 1h0m-21-5h0m0 1h0m-6 5h0m-12 12h0m-8-17h0m-26 5h0m-3-4h0m0 3h0m-1 7h0m-9 6h0m-5-8h0m-2 3h0m-5-3h0m-1 8h0m-11 0h0m-6-14h0m-3 7h0m-8 3h0m-5-3h0m0 8h0m-5-16h0m-12 1h0m-20 15h0m-21-1h0m-9 1h0m-5-9h0m3 10h0m1 19h0m24-4h0m6-11h0m0 8h0m26-5h0m0 4h0m1-7h0m7 14h0m4 0h0m0-5h0m1-4h0m3 7h0m4-12h0m0 5h0m2 4h0m4 3h0m0-6h0m3 1h0m6-4h0m2 2h0m4-1h0m10 8h0m0 2h0m2-6h0m2 5h0m5-4h0m0 3h0m9-3h0m2 6h0m0-17h0m2 13h0m1-6h0m3 5h0m0-14h0m5 5h0m10 3h0m1-7h0m1 3h0m4 2h0m1-5h0m5 7h0m0 10h0m0-8h0m1-3h0m7-3h0m4-2h0m19 8h0m41 8h0m4-11h0m39 12h0m-28 5h0m-45-4h0m-16 19h0m-14-10h0m-26-3h0m0 0h0m-5 7h0m-6-5h0m-1-1h0m-12 10h0m-2-11h0m0-1h0m-1 0h0m-5 7h0m-2 5h0m0-13h0m0 0h0m-1 11h0m-14-2h0m-2-11h0m-5 15h0m-3-7h0m-1 3h0m-9 2h0m-2-3h0m-3-11h0m0 9h0m-1 2h0m-4 1h0m-5-8h0m-2 1h0m-1-6h0m-6 5h0m-6 4h0m-1 4h0m-3-10h0m-3 6h0m-8 9h0m-4-17h0m-27 12h0m-7-9h0m-8-4h0m0 0h0m-22 4h0m-13 13h0m-24 4h0m36 13h0m14 5h0m19-8h0m4-6h0m2 5h0m12 4h0m5-13h0m6 2h0m1 13h0m3-5h0m3 4h0m2-15h0m2 15h0m7-15h0m6 4h0m7 4h0m2 10h0m3-16h0m3 1h0m9 4h0m0 0h0m3-3h0m3 0h0m5 13h0m1-14h0m2 10h0m1-1h0m2 0h0m1-3h0m2 8h0m1-7h0m6 5h0m0 0h0m0 1h0m2-14h0m4 12h0m1-4h0m2 9h0m4-16h0m1 5h0m3-6h0m1 10h0m1-6h0m9 0h0m3-5h0m9 16h0m0-5h0m1 3h0m7 0h0m2-4h0m5-8h0m3 7h0m3-9h0m5 1h0m2 15h0m0-3h0m1 3h0m0-10h0m2-4h0m5 1h0m5 14h0m2-10h0m1-4h0m11 0h0m1-3h0m-11 24h0m-19-5h0m-8 13h0m-10-11h0m-5 10h0m-1-9h0m0 1h0m-1 4h0m-11-2h0m-5 6h0m-4 1h0m-1-3h0m-7 3h0m-1 0h0m-6 5h0m-1-4h0m-1-7h0m-1 12h0m-4-2h0m-1-5h0m-2 6h0m-2-6h0m-2 7h0m-1-12h0m-4 2h0m-1-6h0m-4 1h0m-3 7h0m-1 7h0m-4-2h0m-1-14h0m-2 16h0m-2-9h0m-4 10h0m-3-1h0m-2-10h0m0 7h0m-7-15h0m-2 19h0m-1-19h0m-1 11h0m-1-11h0m-2 13h0m-1-9h0m-4 7h0m-3-7h0m0-3h0m-1 16h0m-12-8h0m-2 7h0m-2 1h0m0-4h0m-4-12h0m-9 8h0m-10 7h0m-2-5h0m-21 8h0m-14-13h0m6 20h0m26-3h0m1 12h0m4-9h0m3-1h0m6 6h0m3-2h0m4-1h0m5-3h0m5 9h0m5-3h0m2-7h0m1 2h0m0-1h0m3 7h0m2 2h0m0-12h0m1-2h0m0 7h0m2 11h0m2-10h0m2 8h0m3-11h0m1 12h0m6 2h0m1-13h0m2 5h0m1-2h0m1-9h0m0 1h0m1 6h0m0-2h0m1 2h0m3 9h0m0-11h0m3-1h0m1 12h0m2 0h0m3-16h0m0 1h0m1 17h0m0-9h0m1 1h0m1 7h0m2 1h0m2-1h0m1-1h0m1 0h0m2-16h0m1 13h0m0-4h0m6 8h0m1-2h0m1-1h0m1-14h0m3 8h0m4 6h0m2-3h0m8-10h0m8 8h0m5-5h0m3-2h0m1 3h0m5 14h0m4-16h0m1 12h0m1-7h0m3-4h0m0 9h0m13-13h0m6 12h0m5 7h0m1-12h0m3 5h0m4-12h0m33 16h0m13-12h0m13-1h0m-22 19h0m-12-1h0m-29 6h0m-4-2h0m-2 8h0m-2-3h0m-5 9h0m0-6h0m-1-12h0m-9 8h0m-3-3h0m-8 5h0m-4-6h0m-6 12h0m-2-5h0m-2-6h0m-3 3h0m0 3h0m-1-2h0m-2 8h0m0-17h0m-2-1h0m-1 8h0m0 8h0m-2-9h0m-1 6h0m-1-7h0m-2 9h0m-2 4h0m-2-7h0m-3 4h0m-3 3h0m-4-10h0m-6 9h0m-1-2h0m-1-11h0m0 6h0m0-5h0m-1 3h0m-3 10h0m-2-19h0m-2 3h0m-1 1h0m-3-2h0m0-2h0m-3 6h0m0 10h0m-2-8h0m-4 8h0m-1-3h0m-2-5h0m0-5h0m-1 3h0m-1 8h0m-2-9h0m-1 8h0m-1 4h0m0-16h0m-4 10h0m-2 6h0m0-9h0m-11 2h0m-3-8h0m-1 14h0m-6-11h0m-1 14h0m0-1h0m-5-3h0m-1-15h0m-2 8h0m-2-7h0m-1 6h0m-7 12h0m-1-1h0m-6-3h0m-1-2h0m0 5h0m-2-18h0m0 6h0m-4 0h0m-2-6h0m-11 8h0m-10-4h0m-4 13h0m-2-17h0m-2 5h0m-41 1h0m-36 23h0m60-2h0m13 2h0m3 7h0m18-10h0m5 3h0m5-4h0m2 6h0m9-5h0m4-4h0m8 12h0m12 1h0m1-14h0m1 10h0m0-7h0m1 15h0m0-2h0m5-4h0m1-5h0m0 8h0m1-16h0m3 7h0m1 7h0m0 1h0m11-9h0m0 1h0m6 6h0m0 4h0m1-5h0m2-12h0m3 4h0m3 14h0m2-1h0m3-1h0m1 0h0m2-9h0m1-6h0m1 4h0m4 6h0m1 1h0m0-9h0m1 8h0m2-9h0m2 17h0m2-2h0m4-13h0m1-4h0m1 0h0m3 11h0m0 8h0m0-9h0m2 1h0m10 6h0m1-15h0m4 16h0m2-18h0m0 14h0m1-12h0m2 17h0m7-2h0m5-11h0m0 13h0m3-12h0m2-1h0m8 10h0m2-4h0m2 4h0m0-1h0m2-2h0m13 4h0m4 2h0m10-5h0m10-9h0m27 8h0m31-2h0m-30 27h0m-42-2h0m-7-12h0m-6 8h0m-13-12h0m-8 15h0m-9-1h0m-10-14h0m-2 7h0m-1 6h0m0 5h0m-3-15h0m-6 9h0m0-3h0m-3 4h0m-6-5h0m-5 11h0m-2-13h0m-1 5h0m0-8h0m-3 16h0m-1 0h0m-2-6h0m-1-6h0m-6-3h0m0-1h0m-2-2h0m0 6h0m-1 3h0m-3 4h0m0 2h0m0-13h0m-1 7h0m-2-7h0m0 12h0m-2-5h0m-1 0h0m-3-4h0m-1-3h0m-4 8h0m0-6h0m-1 3h0m0-4h0m-2-3h0m-2 3h0m-3-2h0m0-2h0m-1 13h0m-1 4h0m-2-10h0m-4 8h0m0-15h0m-6 12h0m-1-4h0m-2-4h0m-1 3h0m-1-2h0m-1-4h0m-2 4h0m-4 14h0m-2-13h0m-1-1h0m-3 7h0m-1-2h0m-1-1h0m-1 1h0m-1 0h0m0-2h0m-1 8h0m-1-5h0m-4-3h0m-1 8h0m-4 1h0m0-16h0m-8 0h0m-9 17h0m-3-2h0m-1-3h0m-2-12h0m-2 12h0m-2-7h0m-2 3h0m-8 5h0m-5 2h0m-6 1h0m-2 0h0m-11-17h0m-26 17h0m-45-11h0m36 19h0m7 5h0m26-4h0m0-6h0m1 5h0m6 12h0m2-7h0m7 8h0m5-9h0m5-9h0m8 19h0m2-13h0m11 9h0m7-5h0m2-8h0m0 12h0m7-4h0m1 9h0m1-4h0m3 4h0m4-8h0m5-10h0m7 6h0m2 7h0m3-7h0m1-2h0m3 3h0m1-6h0m4 8h0m0 6h0m1-13h0m0-3h0m1 0h0m1 14h0m0 2h0m2-12h0m2-3h0m1 0h0m12 1h0m0 16h0m1-5h0m6-5h0m1-2h0m0 10h0m0-5h0m4 0h0m3-3h0m0-6h0m0 8h0m5 1h0m0 3h0m1-9h0m1-1h0m3 5h0m0-8h0m1 15h0m4 0h0m0-12h0m6 9h0m1-11h0m2 2h0m1-3h0m6 14h0m0-4h0m0-4h0m3-7h0m1 6h0m1 8h0m9-10h0m5-1h0m10 13h0m0-16h0m28 18h0m13-16h0m34 19h0m-40 13h0m-15 2h0m-2-2h0m-10-5h0m-7-7h0m-12 13h0m-8 2h0m-1-5h0m-2-10h0m-3 0h0m-1 2h0m-4 6h0m-2-5h0m-1 3h0m-3 3h0m-7-2h0m-1-1h0m-1-7h0m-3 16h0m0-13h0m0 12h0m-2-1h0m-3-10h0m-3 9h0m0-1h0m-6 6h0m-1-7h0m-5-4h0m0-6h0m-3 12h0m-3 5h0m0-7h0m-1-12h0m-1 16h0m0-13h0m-2-2h0m-5 8h0m-1-8h0m-2 3h0m-1 10h0m-2-1h0m0-13h0m-4 12h0m0-8h0m-3 6h0m-1 9h0m0-6h0m0 5h0m-2-7h0m-1-5h0m-2-2h0m0 6h0m-1 9h0m-2-14h0m-3 9h0m-2-7h0m-2 4h0m-3 0h0m0-11h0m-7 1h0m-1 0h0m-10 0h0m0 15h0m-1-3h0m-1-6h0m-1 2h0m-3 4h0m-2-12h0m0 9h0m-6-6h0m-3 1h0m-4 11h0m-6-9h0m-9-4h0m-37 12h0m-3-13h0m-18 14h0m28 17h0m5 1h0m16 3h0m4-14h0m2 8h0m0-11h0m7 14h0m1-11h0m1-3h0m6 9h0m4 5h0m3-7h0m0-6h0m7 0h0m3 4h0m3 9h0m1 4h0m1-4h0m7-7h0m2 3h0m19 5h0m4 3h0m0-17h0m1 5h0m4 4h0m4 6h0m2-4h0m2-9h0m12 15h0m2-17h0m0 10h0m1 6h0m2-10h0m1 3h0m1-10h0m9 16h0m5-1h0m7-12h0m1 12h0m15-14h0m9 4h0m12-5h0m28 15h0m1-13h0m4 2h0m3 11h0m3-1h0m15-12h0m-46 28h0m-7-10h0m-3 16h0m-25-14h0m-2 3h0m-8 12h0m-7-17h0m0 6h0m-2 13h0m-8-19h0m0 6h0m-3 0h0m-1 13h0m-3-16h0m-20 0h0m-11-2h0m-6 1h0m-9 6h0m-9-6h0m-9 14h0m-2-12h0m-3 3h0m-1 5h0m0-10h0m-4 0h0m-5 14h0m-1 1h0m-6-9h0m-5 2h0m-8-4h0m-20-4h0m-16 7h0m-11 1h0m-2 1h0m32 13h0m10 10h0m9-10h0m0-2h0m1 11h0m30-12h0m5 0h0m1 12h0m3 4h0m0-17h0m4 0h0m5 4h0m9-2h0m2-2h0m1 6h0m1 8h0m2 1h0m6-6h0m0-8h0m1 10h0m5-5h0m4 8h0m1-9h0m5 8h0m6-5h0m6-6h0m0 8h0m9-10h0m0 3h0m8 4h0m2 9h0m3 3h0m29-16h0m2 4h0m9 8h0m52-8h0m-56 23h0m-11 3h0m-22-2h0m-7 8h0m-7-15h0m-2 15h0m-8-8h0m-4 8h0m-8-9h0m-15-9h0m-3 15h0m-2-1h0m-1-3h0m0 3h0m-3-6h0m-1-5h0m-1 11h0m-2 1h0m-4-2h0m-1 1h0m-6-3h0m-11-6h0m-5 9h0m-1-2h0m-1-6h0m-2-3h0m-37-2h0m-3 8h0m0-1h0m-26-8h0m-4 7h0m98 14h0m9-1h0m17 0h0" fill="none" stroke="#000" stroke-opacity="0.7" stroke-width="6.0" stroke-linecap="square"/>
<path transform="scale(.1)" d="M1821 2336h0m29-10h0m3-6h0m5 37h0m-3-13h0m-1 6h0m-9 7h0m-52-2h0m-1-2h0m-40-2h0m-32-8h0m25 17h0m2 4h0m19 2h0m6 6h0m8-7h0m3 4h0m0 6h0m6-3h0m3 4h0m1 0h0m1-5h0m2-10h0m12 12h0m4 5h0m5 0h0m1-3h0m1 2h0m1-13h0m3-4h0m1 8h0m1-7h0m9 6h0m8-2h0m21 14h0m1-11h0m6-7h0m3 30h0m-30 5h0m0-11h0m-2 5h0m-3-10h0m-6 6h0m-6 9h0m-2-12h0m-3 3h0m0 13h0m-7-13h0m-3 8h0m-8-13h0m-3 11h0m0-11h0m-5 9h0m-2 0h0m-1 4h0m-6-2h0m-3 5h0m-6-2h0m-6-2h0m-1 3h0m-4-7h0m-27 1h0m-9-5h0m-36 4h0m-10 3h0m-8 15h0m25 10h0m7-3h0m19-8h0m3-2h0m6-4h0m2 7h0m9-6h0m3 1h0m0 7h0m5-2h0m4-2h0m3 4h0m4 8h0m3 0h0m2-10h0m0 12h0m0-17h0m3 12h0m4 2h0m5-3h0m0-8h0m10 8h0m0 3h0m2 2h0m6-10h0m2-1h0m0-2h0m1 8h0m0-3h0m1-2h0m3 11h0m0-16h0m1 7h0m4 2h0m2-8h0m7 3h0m0 8h0m2 4h0m4 0h0m0-19h0m6 1h0m0 14h0m3-10h0m12 5h0m1-4h0m4 2h0m2 9h0m6-9h0m9-5h0m3 0h0m47 31h0m-54-3h0m-6-5h0m-9-2h0m-4-4h0m-1 13h0m-2-11h0m-4 2h0m-2-2h0m-6 11h0m-3-13h0m-3 18h0m0-13h0m-2 14h0m-1-7h0m-3 5h0m0-7h0m-2-2h0m0-7h0m-3 12h0m-2-2h0m-2-2h0m0-7h0m-1 8h0m-2-3h0m-2 4h0m-3 7h0m-1-12h0m0 8h0m-4 2h0m-1-7h0m0-8h0m-1 6h0m0 9h0m0 2h0m0-9h0m-1 3h0m-1-10h0m0 17h0m0-11h0m-1 10h0m-1 0h0m-2-9h0m-1 6h0m0-11h0m-2-2h0m0 5h0m-1 7h0m0-9h0m-3 8h0m-3-3h0m0-10h0m0 14h0m0 2h0m0-15h0m-3 9h0m-1-5h0m0 14h0m-2-19h0m-1 0h0m-1 4h0m-1-1h0m-2 12h0m0-5h0m-3 7h0m-1-5h0m-1-5h0m-3-4h0m-2 8h0m0 3h0m-1-8h0m-2 4h0m-1-8h0m-1 7h0m0 4h0m-1-10h0m-3 13h0m-1-13h0m0 14h0m-4-17h0m0 13h0m-2-7h0m-1 10h0m-1-12h0m-2 1h0m-2 12h0m-2 1h0m-2-2h0m0-7h0m-3-1h0m-9-5h0m-8 12h0m-4 4h0m-5 0h0m-4-16h0m-5 6h0m-12 2h0m-15 9h0m13 11h0m13 7h0m6-2h0m3-10h0m1 9h0m1-7h0m3 7h0m2 0h0m2-5h0m2-5h0m6 9h0m1-12h0m2 17h0m1-10h0m1 4h0m3-3h0m5-5h0m2 4h0m1-4h0m1 9h0m1 4h0m0-12h0m1 11h0m3-17h0m1 11h0m2-11h0m0 3h0m1 10h0m1 2h0m1-2h0m1-1h0m1-6h0m3 9h0m3-10h0m1 12h0m1-16h0m2 18h0m0-8h0m1 2h0m2 1h0m0 2h0m1-10h0m1 9h0m2-13h0m0 0h0m4 9h0m1-4h0m0-2h0m0 14h0m1-18h0m0 13h0m2-10h0m1-2h0m2-1h0m1 17h0m1-8h0m0-5h0m2 7h0m0 3h0m1 3h0m1-3h0m0-8h0m0 9h0m1 1h0m1-9h0m0-7h0m1 7h0m0-5h0m1 1h0m2 0h0m1 11h0m2-15h0m0 8h0m1 9h0m0-11h0m1 9h0m1 1h0m1-9h0m1 1h0m1 10h0m1-3h0m0-3h0m0-1h0m2 2h0m0-3h0m1 9h0m2-8h0m0-8h0m0 3h0m0-2h0m0 0h0m1 5h0m2-1h0m0-6h0m1 12h0m2-12h0m2-2h0m0 1h0m2 8h0m2 6h0m1-1h0m0-4h0m1-7h0m2-3h0m0 18h0m1-2h0m3 3h0m1-9h0m1 7h0m7-14h0m3 7h0m1-4h0m5 3h0m7 3h0m35-4h0m-3 17h0m-9-5h0m-1 9h0m-18 3h0m-2-7h0m-9 11h0m0-7h0m-1 0h0m-5 1h0m-1-9h0m-7 14h0m-1-10h0m0 7h0m-1 1h0m-3-13h0m0 6h0m-3 13h0m-2-10h0m0-4h0m-1 5h0m-2-5h0m-3 11h0m0 2h0m0-12h0m0-3h0m-2 16h0m-1-10h0m0 2h0m-1-2h0m-1 0h0m-2-3h0m-1 9h0m0-8h0m-3-2h0m0 12h0m0-15h0m-1 15h0m-1 1h0m0-12h0m-3-3h0m-3 16h0m-1-3h0m-1-16h0m-2 17h0m0-9h0m-2 4h0m0 6h0m-1-3h0m-5-14h0m0 8h0m-3-7h0m0 3h0m-1-2h0m-2 5h0m0 8h0m0 3h0m-1-11h0m-1-6h0m-1 17h0m0-13h0m-1-3h0m-1 12h0m-2 4h0m-1-1h0m0-4h0m-1-8h0m0-4h0m0 12h0m0-13h0m0 7h0m-1-5h0m0 8h0m0 3h0m-1 0h0m-1-4h0m-2 3h0m-1 4h0m-2-9h0m0-4h0m-1 0h0m0-1h0m-1 15h0m-1-14h0m0 3h0m-1 12h0m0-1h0m0-17h0m0 6h0m-1 8h0m0-4h0m-2-8h0m-1 10h0m0-13h0m-2 7h0m0-4h0m-1-3h0m0 18h0m0-14h0m-1 3h0m-2-6h0m0 12h0m-1 4h0m0 0h0m-3-1h0m-1-3h0m-2-4h0m-1 1h0m0-6h0m-1 9h0m-1-13h0m-1 11h0m-1-4h0m0 6h0m-1-8h0m-2 1h0m-1-6h0m0 16h0m0-8h0m0 1h0m-3-9h0m0 13h0m-1-13h0m0 19h0m0-16h0m-1 11h0m-5-3h0m0-5h0m-1 10h0m-1 2h0m-1-7h0m-3 3h0m-2-11h0m-1 1h0m-1 15h0m-1-15h0m-1 2h0m-3 1h0m-2 8h0m-1-7h0m0-1h0m-5-1h0m-1 7h0m-6-10h0m-5 7h0m0 3h0m-5-12h0m-1 1h0m-1 15h0m-18-9h0m-11 2h0m-10 3h0m-8 24h0m40-10h0m4 9h0m2-2h0m6-11h0m2 6h0m1 4h0m3-10h0m4 2h0m0-2h0m3 12h0m0-11h0m4 12h0m1-9h0m1 5h0m3 2h0m0 3h0m5-3h0m0-6h0m1-7h0m1 6h0m2 0h0m0 5h0m3 1h0m1 6h0m0-18h0m3 10h0m1-10h0m1 18h0m1-18h0m0-1h0m0 4h0m1 8h0m2-3h0m1 2h0m0 7h0m0 0h0m1-3h0m3-8h0m1 11h0m1-2h0m0-3h0m2-3h0m0 7h0m0 0h0m0 2h0m0-14h0m1-3h0m0 7h0m0 10h0m0-16h0m1 1h0m2-2h0m1 15h0m0-15h0m0 15h0m2-5h0m0-6h0m2 10h0m0-7h0m1 3h0m1-10h0m0 16h0m0-10h0m1 0h0m0 2h0m1-5h0m0 7h0m0 7h0m1-7h0m0-12h0m1 11h0m1-2h0m1 10h0m0 0h0m1-12h0m1 4h0m0 4h0m0-5h0m1-3h0m1-7h0m2 8h0m1-1h0m0-5h0m2 9h0m1 5h0m0-9h0m0 8h0m1-13h0m0-1h0m2 5h0m0 12h0m0 0h0m1-2h0m1-4h0m1-8h0m0 6h0m1-8h0m0 10h0m1 3h0m0-2h0m0 5h0m0-16h0m0 12h0m1-2h0m1-9h0m0 1h0m1 6h0m0 1h0m0 8h0m0-19h0m0 17h0m0-12h0m2 3h0m1-5h0m0 9h0m2-8h0m2 12h0m2-1h0m0-9h0m3 3h0m1-9h0m1 6h0m2-1h0m3 14h0m0-7h0m1-12h0m0 1h0m1 4h0m0 2h0m3-5h0m0 3h0m0 11h0m2 0h0m1-13h0m0-1h0m1 0h0m1 4h0m1-5h0m1-1h0m2 7h0m1 12h0m4-17h0m1 4h0m2 3h0m2 4h0m4-11h0m1 9h0m0-2h0m0 5h0m0-14h0m2 2h0m3-2h0m2 16h0m27-1h0m4-11h0m-21 16h0m-2 12h0m-1-11h0m-4 12h0m0-2h0m-6-3h0m-1-5h0m-3 12h0m-1-8h0m-1 5h0m-1-1h0m0 4h0m-5-1h0m-1 1h0m0-14h0m-2 18h0m-1-1h0m0-1h0m0-6h0m-1 7h0m-3-17h0m0 18h0m-4-13h0m-1 8h0m-1 4h0m-1-13h0m-2 12h0m-4-16h0m-3-1h0m0 5h0m-5 11h0m-3 2h0m-2-14h0m-1 3h0m0-5h0m-1 0h0m0 16h0m-1-4h0m-1-8h0m-1 1h0m-1 12h0m0-3h0m-1-7h0m-1 10h0m0 0h0m0-17h0m-1 6h0m-1 10h0m0-5h0m-1 1h0m0-7h0m0 9h0m-1-2h0m0-12h0m-1 14h0m0 0h0m0-15h0m-1-1h0m0 6h0m0 6h0m-1-2h0m-1 8h0m-1-7h0m0-7h0m-2 0h0m-1 14h0m0-6h0m-1 2h0m0-14h0m-1 10h0m0 2h0m-1-10h0m0 15h0m0-8h0m-2-1h0m-2-4h0m0 0h0m0 13h0m-1-17h0m-2 16h0m0-3h0m-1 2h0m0-3h0m-1-6h0m-1 8h0m0 4h0m-1-11h0m-1 10h0m0-7h0m-1 7h0m-1 0h0m-1-15h0m-1 1h0m0-3h0m0 11h0m-1-11h0m0 3h0m-3 12h0m0-12h0m-2 10h0m-1 4h0m0-3h0m0-13h0m-1 8h0m0-5h0m0 11h0m-1-15h0m-1 8h0m-1-7h0m-1 3h0m0 14h0m-1-6h0m0-10h0m-1 2h0m-1 5h0m0-2h0m-1-1h0m-2 7h0m0-5h0m-2 1h0m0-7h0m-3 12h0m0-12h0m-1 15h0m0-5h0m-2-1h0m-2 0h0m-2 8h0m-3-15h0m0-2h0m-2 4h0m-1-3h0m-6 16h0m0-9h0m-4-8h0m0 16h0m-2 1h0m-6-2h0m-4-12h0m-17 14h0m-7-8h0m-9-1h0m-11 2h0m-3 18h0m7 1h0m39 7h0m6-5h0m2 0h0m5 2h0m0-2h0m0-7h0m0-4h0m2 15h0m1-1h0m1-6h0m2-10h0m0 18h0m2 1h0m2-3h0m1-12h0m4-1h0m0-3h0m0 11h0m1-3h0m0-2h0m1 2h0m1 0h0m1 7h0m0-11h0m4 9h0m0-3h0m2-9h0m2 13h0m1-4h0m1-5h0m2 0h0m0 7h0m0 7h0m2-14h0m2 11h0m1 1h0m2-8h0m0 4h0m0-10h0m1 6h0m0 3h0m0-4h0m1-1h0m0 7h0m0-9h0m1 10h0m1-13h0m0 6h0m1-7h0m1 15h0m2 3h0m0-3h0m1-7h0m0 6h0m1 0h0m0-6h0m1 2h0m1-9h0m0 5h0m1 5h0m0-3h0m0 9h0m1-5h0m0-10h0m0 11h0m3 3h0m1-1h0m1-8h0m0-7h0m0 7h0m1-5h0m0 10h0m1 2h0m1-5h0m1 2h0m3-8h0m2-1h0m0 2h0m0 1h0m1 2h0m1 7h0m5 0h0m1-4h0m0-2h0m1 10h0m1-15h0m0 7h0m4 3h0m1 4h0m0 0h0m1-15h0m1 16h0m3 0h0m1-7h0m1-8h0m3 2h0m1 7h0m1-5h0m2-1h0m6 2h0m1 3h0m0-8h0m2 11h0m1-9h0m5-2h0m7 12h0m0-11h0m1-4h0m2 10h0m0 2h0m2-6h0m1-2h0m5 2h0m19 9h0m4-5h0m1 14h0m-1-3h0m-3 3h0m-3 3h0m-20-5h0m-3 4h0m-1 3h0m-1-2h0m-1 8h0m-1-12h0m-7-1h0m-1 7h0m-4-10h0m-3 12h0m0-2h0m-9-6h0m-3 7h0m-1 0h0m-3 0h0m-2-8h0m-2-2h0m0 8h0m-3-3h0m0 12h0m-3-4h0m-3-1h0m0-4h0m-1 3h0m-1 5h0m-3-12h0m-1 0h0m-1 12h0m0-9h0m-1 9h0m-3-15h0m-2 1h0m-1 0h0m-1-1h0m-1-1h0m-1 8h0m-2-1h0m-1 4h0m-1 2h0m-1-12h0m-2 13h0m-1-6h0m-1 1h0m0-1h0m0-4h0m-1 4h0m0 3h0m-3 7h0m-1-9h0m-1 5h0m-5-2h0m-1 0h0m-1-3h0m-2-4h0m-3-3h0m0-1h0m0 9h0m-1-2h0m-2 8h0m-4-9h0m0 0h0m0-7h0m0 11h0m-1-2h0m-2-6h0m0 15h0m-2-19h0m-1 19h0m-6-8h0m-1-11h0m-5 5h0m-1-2h0m-2-2h0m-2 18h0m0-10h0m-1 7h0m0-2h0m-4 5h0m-2-17h0m-5 17h0m-4-3h0m-2-15h0m-1 18h0m-10-8h0m-8-7h0m-1-2h0m-11 27h0m27-9h0m3 6h0m4-5h0m3 12h0m1 4h0m0-12h0m1-4h0m2 14h0m2-4h0m1-1h0m0-2h0m7 10h0m5-3h0m0-2h0m0-12h0m6 5h0m4-2h0m0 10h0m4-7h0m1-1h0m1 5h0m0-11h0m1 8h0m2-6h0m1 2h0m1 13h0m4 1h0m2-8h0m0-6h0m0-2h0m2 4h0m2 7h0m0-4h0m2-1h0m1-4h0m1-2h0m1 14h0m1 2h0m2-17h0m1 1h0m0 4h0m5 8h0m3-3h0m1-3h0m4 1h0m5-6h0m0-1h0m3 11h0m0-9h0m3-4h0m1 1h0m0 3h0m2 3h0m1-6h0m7 17h0m3-14h0m0 5h0m5 10h0m3-14h0m0-3h0m2 17h0m1-4h0m1-3h0m9 7h0m6-12h0m20-6h0m-13 35h0m-1-2h0m-17-2h0m-16 6h0m-1-11h0m-1 4h0m0 3h0m-2-11h0m-2 12h0m-2-6h0m-2-1h0m-1-3h0m-1 7h0m-5-10h0m-2 2h0m-7 5h0m-2-3h0m0 4h0m-2 7h0m-2 0h0m-1-6h0m-2 7h0m0-17h0m-2 9h0m-5-4h0m-1-6h0m0 2h0m-2 3h0m-3-5h0m-2 1h0m-5-1h0m0 2h0m-9 3h0m-1-2h0m-3 7h0m-10 9h0m-2 0h0m-6-7h0m0 1h0m-15-12h0m-4 5h0m-9 4h0m-19 2h0m40 8h0m8 0h0m30 0h0m65 1h0m27-1h0" fill="none" stroke="#000" stroke-opacity="1.0" stroke-width="8.0" stroke-linecap="square"/>
<rect x="158.10" y="172.60" width="96.10" height="93.20" fill="none" stroke="#111" stroke-width="1.4"/>
<text x="304.18" y="167.80" font-size="9.10" textLength="70.80" lengthAdjust="spacingAndGlyphs" fill="#262626">Before Clodronate</text>
<line x1="287.50" y1="265.80" x2="290.50" y2="265.80" stroke="#111" stroke-width="0.9" />
<text x="280.92" y="268.05" font-size="6.45" textLength="3.96" lengthAdjust="spacingAndGlyphs" fill="#262626">0</text>
<line x1="288.90" y1="256.67" x2="290.50" y2="256.67" stroke="#111" stroke-width="0.9" />
<line x1="287.50" y1="247.54" x2="290.50" y2="247.54" stroke="#111" stroke-width="0.9" />
<text x="274.08" y="249.79" font-size="6.45" textLength="10.77" lengthAdjust="spacingAndGlyphs" fill="#262626">200</text>
<line x1="288.90" y1="238.41" x2="290.50" y2="238.41" stroke="#111" stroke-width="0.9" />
<line x1="287.50" y1="229.28" x2="290.50" y2="229.28" stroke="#111" stroke-width="0.9" />
<text x="274.26" y="231.53" font-size="6.45" textLength="10.59" lengthAdjust="spacingAndGlyphs" fill="#262626">400</text>
<line x1="288.90" y1="220.15" x2="290.50" y2="220.15" stroke="#111" stroke-width="0.9" />
<line x1="287.50" y1="211.02" x2="290.50" y2="211.02" stroke="#111" stroke-width="0.9" />
<text x="274.08" y="213.27" font-size="6.45" textLength="10.77" lengthAdjust="spacingAndGlyphs" fill="#262626">600</text>
<line x1="288.90" y1="201.89" x2="290.50" y2="201.89" stroke="#111" stroke-width="0.9" />
<line x1="287.50" y1="192.76" x2="290.50" y2="192.76" stroke="#111" stroke-width="0.9" />
<text x="274.13" y="195.01" font-size="6.45" textLength="10.72" lengthAdjust="spacingAndGlyphs" fill="#262626">800</text>
<line x1="288.90" y1="183.63" x2="290.50" y2="183.63" stroke="#111" stroke-width="0.9" />
<line x1="287.50" y1="174.50" x2="290.50" y2="174.50" stroke="#111" stroke-width="0.9" />
<text x="270.52" y="176.75" font-size="6.45" textLength="14.34" lengthAdjust="spacingAndGlyphs" fill="#262626">1000</text>
<line x1="290.50" y1="265.80" x2="290.50" y2="268.40" stroke="#333" stroke-width="0.55" />
<line x1="297.85" y1="265.80" x2="297.85" y2="267.40" stroke="#333" stroke-width="0.55" />
<line x1="302.15" y1="265.80" x2="302.15" y2="267.40" stroke="#333" stroke-width="0.55" />
<line x1="305.21" y1="265.80" x2="305.21" y2="267.40" stroke="#333" stroke-width="0.55" />
<line x1="307.57" y1="265.80" x2="307.57" y2="267.40" stroke="#333" stroke-width="0.55" />
<line x1="309.51" y1="265.80" x2="309.51" y2="267.40" stroke="#333" stroke-width="0.55" />
<line x1="311.14" y1="265.80" x2="311.14" y2="267.40" stroke="#333" stroke-width="0.55" />
<line x1="312.56" y1="265.80" x2="312.56" y2="267.40" stroke="#333" stroke-width="0.55" />
<line x1="313.81" y1="265.80" x2="313.81" y2="267.40" stroke="#333" stroke-width="0.55" />
<line x1="314.93" y1="265.80" x2="314.93" y2="268.40" stroke="#333" stroke-width="0.55" />
<line x1="322.28" y1="265.80" x2="322.28" y2="267.40" stroke="#333" stroke-width="0.55" />
<line x1="326.58" y1="265.80" x2="326.58" y2="267.40" stroke="#333" stroke-width="0.55" />
<line x1="329.63" y1="265.80" x2="329.63" y2="267.40" stroke="#333" stroke-width="0.55" />
<line x1="332.00" y1="265.80" x2="332.00" y2="267.40" stroke="#333" stroke-width="0.55" />
<line x1="333.93" y1="265.80" x2="333.93" y2="267.40" stroke="#333" stroke-width="0.55" />
<line x1="335.57" y1="265.80" x2="335.57" y2="267.40" stroke="#333" stroke-width="0.55" />
<line x1="336.98" y1="265.80" x2="336.98" y2="267.40" stroke="#333" stroke-width="0.55" />
<line x1="338.23" y1="265.80" x2="338.23" y2="267.40" stroke="#333" stroke-width="0.55" />
<line x1="339.35" y1="265.80" x2="339.35" y2="268.40" stroke="#333" stroke-width="0.55" />
<line x1="346.70" y1="265.80" x2="346.70" y2="267.40" stroke="#333" stroke-width="0.55" />
<line x1="351.00" y1="265.80" x2="351.00" y2="267.40" stroke="#333" stroke-width="0.55" />
<line x1="354.06" y1="265.80" x2="354.06" y2="267.40" stroke="#333" stroke-width="0.55" />
<line x1="356.42" y1="265.80" x2="356.42" y2="267.40" stroke="#333" stroke-width="0.55" />
<line x1="358.36" y1="265.80" x2="358.36" y2="267.40" stroke="#333" stroke-width="0.55" />
<line x1="359.99" y1="265.80" x2="359.99" y2="267.40" stroke="#333" stroke-width="0.55" />
<line x1="361.41" y1="265.80" x2="361.41" y2="267.40" stroke="#333" stroke-width="0.55" />
<line x1="362.66" y1="265.80" x2="362.66" y2="267.40" stroke="#333" stroke-width="0.55" />
<line x1="363.77" y1="265.80" x2="363.77" y2="268.40" stroke="#333" stroke-width="0.55" />
<line x1="371.13" y1="265.80" x2="371.13" y2="267.40" stroke="#333" stroke-width="0.55" />
<line x1="375.43" y1="265.80" x2="375.43" y2="267.40" stroke="#333" stroke-width="0.55" />
<line x1="378.48" y1="265.80" x2="378.48" y2="267.40" stroke="#333" stroke-width="0.55" />
<line x1="380.85" y1="265.80" x2="380.85" y2="267.40" stroke="#333" stroke-width="0.55" />
<line x1="382.78" y1="265.80" x2="382.78" y2="267.40" stroke="#333" stroke-width="0.55" />
<line x1="384.42" y1="265.80" x2="384.42" y2="267.40" stroke="#333" stroke-width="0.55" />
<line x1="385.83" y1="265.80" x2="385.83" y2="267.40" stroke="#333" stroke-width="0.55" />
<line x1="387.08" y1="265.80" x2="387.08" y2="267.40" stroke="#333" stroke-width="0.55" />
<line x1="388.20" y1="265.80" x2="388.20" y2="268.40" stroke="#222" stroke-width="0.6" />
<text x="310.47" y="280.80" font-size="6.59" textLength="6.80" lengthAdjust="spacingAndGlyphs" fill="#262626">10</text>
<text x="317.33" y="277.40" font-size="5.45" textLength="2.68" lengthAdjust="spacingAndGlyphs" fill="#262626">0</text>
<text x="334.89" y="280.80" font-size="6.59" textLength="6.80" lengthAdjust="spacingAndGlyphs" fill="#262626">10</text>
<text x="341.82" y="277.40" font-size="5.53" textLength="1.67" lengthAdjust="spacingAndGlyphs" fill="#262626">1</text>
<text x="359.32" y="280.80" font-size="6.59" textLength="6.80" lengthAdjust="spacingAndGlyphs" fill="#262626">10</text>
<text x="366.12" y="277.40" font-size="5.45" textLength="2.81" lengthAdjust="spacingAndGlyphs" fill="#262626">2</text>
<text x="383.74" y="280.80" font-size="6.59" textLength="6.80" lengthAdjust="spacingAndGlyphs" fill="#262626">10</text>
<text x="390.62" y="277.40" font-size="5.45" textLength="2.69" lengthAdjust="spacingAndGlyphs" fill="#262626">3</text>
<line x1="345.80" y1="172.60" x2="345.80" y2="265.80" stroke="#777" stroke-width="0.9" />
<text x="362.33" y="182.80" font-size="7.03" textLength="17.67" lengthAdjust="spacingAndGlyphs" fill="#333">10.9%</text>
<path transform="scale(.1)" d="M3601 2095h0m-195 23h0m-283 12h0m151 7h0m301-11h0m114 19h0m-217 11h0m-128-16h0m-430 36h0m284-1h0m402 0h0m37 2h0m91-3h0m16-5h0m28 24h0m-57-3h0m-20-10h0m-37 6h0m-30-1h0m-165-4h0m-80 14h0m-280-3h0m-19 7h0m140 12h0m79-8h0m6 2h0m164-5h0m8 1h0m85 17h0m51-12h0m22 1h0m56 23h0m-23 6h0m-32-9h0m-2 11h0m-9-17h0m-15 18h0m-159-14h0m-268 7h0m-100 11h0m62 5h0m53 6h0m113 1h0m32-4h0m95 0h0m178-8h0m7 2h0m20 13h0m23-17h0m17 14h0m2-4h0m6-7h0m4 6h0m21 28h0m-14-9h0m-24-2h0m-3-6h0m-7 7h0m-20 5h0m-2-8h0m0 5h0m0 0h0m-1-4h0m-8 1h0m-37 8h0m-5-3h0m-169-1h0m-82-8h0m-10 3h0m-28 4h0m-28-7h0m-44 4h0m-5 4h0m-18 21h0m21 3h0m11-8h0m22 12h0m25-7h0m51-1h0m16 2h0m1 3h0m17-2h0m92 3h0m11-10h0m67 9h0m25 1h0m17-7h0m19 2h0m10 3h0m4-11h0m5 3h0m13-7h0m5 18h0m3-17h0m3-1h0m5 15h0m1 0h0m6-4h0m3 8h0m10-11h0m4 6h0m20-4h0m2 3h0m43-10h0m-7 29h0m-13-6h0m-20 10h0m-1-6h0m-1 5h0m-2-10h0m-18 14h0m-2-1h0m-10-4h0m-1-12h0m-14 3h0m-3 1h0m0-2h0m-7 0h0m-5 11h0m-1 2h0m-3-16h0m-2 9h0m-9 0h0m-1 8h0m-15 1h0m-2-14h0m-6 12h0m0-5h0m-4 7h0m-2-3h0m-3-9h0m-5 3h0m-11 6h0m-20 1h0m-12-2h0m-1-12h0m-13 9h0m-19-6h0m-111-1h0m-82 9h0m-11 2h0m-44-4h0m0 3h0m-32-3h0m-11-9h0m-20-1h0m-2 2h0m-5-3h0m-31 7h0m-1-5h0m-37 10h0m-7-10h0m-162 19h0m57 13h0m93 3h0m18-2h0m18-1h0m7-7h0m3 5h0m23-1h0m3-3h0m2 5h0m6 5h0m5-1h0m19-4h0m5 4h0m2-16h0m16 3h0m16 4h0m27 1h0m1 6h0m10-8h0m1-5h0m11 11h0m7-9h0m13 0h0m13 0h0m6 13h0m2-17h0m2 1h0m9 4h0m1-5h0m5 15h0m9 3h0m13-9h0m23 2h0m118 7h0m19-5h0m32 5h0m14-3h0m5-10h0m2-2h0m8 15h0m6-19h0m4 10h0m0-7h0m2 0h0m2 0h0m1-2h0m1 13h0m12 4h0m0-5h0m1-1h0m1 7h0m9-14h0m0 6h0m9-8h0m4-3h0m6 13h0m5 3h0m11-7h0m2 10h0m1-7h0m22 6h0m8-16h0m2 14h0m7-5h0m4 5h0m1-9h0m27-5h0m24 32h0m-53 5h0m-7-18h0m-2 9h0m-6-4h0m-4 3h0m-3 4h0m-6-11h0m-9 12h0m-1-12h0m-6 14h0m-3-7h0m-3 6h0m-1-3h0m-1-4h0m-11 11h0m-11-5h0m-2-13h0m-12 0h0m-2 12h0m-1 1h0m-1-6h0m0-2h0m-5 10h0m-1 3h0m-4-19h0m-1 13h0m-3 6h0m-3-16h0m-2 3h0m-6 7h0m-8 6h0m-5-17h0m-13 10h0m-1 3h0m-5-4h0m0 4h0m-6-15h0m-16 12h0m-24-3h0m-35 0h0m-28 2h0m-18 7h0m-31 0h0m-2-16h0m-5 0h0m-7 7h0m-36-7h0m-3 6h0m-4-6h0m-17 9h0m-2-7h0m-1 11h0m-3-3h0m-19-12h0m-8 3h0m-4-3h0m0 0h0m-10 13h0m-16 3h0m-15-4h0m-5 1h0m-7-2h0m-5-2h0m-4-1h0m-7 8h0m-2-3h0m-1 5h0m-3 1h0m-1-3h0m-3-9h0m-1 9h0m-4 3h0m-3-5h0m0-13h0m-1 6h0m-1 12h0m-13-17h0m-3 16h0m-1-13h0m-2-2h0m-14 13h0m-8-1h0m-3-14h0m-3 6h0m-1 4h0m-14 3h0m-5-6h0m-8-2h0m-15 9h0m-2-10h0m-9 12h0m-28-17h0m-21 19h0m-10-15h0m-21 15h0m-83 20h0m31-12h0m41 8h0m61 0h0m2-12h0m12 15h0m2-2h0m5-3h0m9-5h0m4 11h0m1-3h0m1-1h0m8-12h0m8 14h0m3-12h0m4 9h0m2-6h0m17 11h0m5 0h0m2-5h0m5-10h0m5 11h0m2-4h0m12 5h0m0-6h0m7-4h0m5 8h0m4 1h0m1-4h0m8-1h0m5-2h0m2-3h0m13-1h0m19 8h0m1-11h0m2 5h0m3 6h0m3 1h0m5-9h0m4 11h0m8-15h0m2 2h0m9 11h0m0 2h0m1-15h0m4 2h0m1 10h0m0-4h0m4 5h0m1-8h0m3 2h0m4 6h0m8-2h0m1-1h0m1-8h0m1 12h0m11-8h0m6-5h0m7 7h0m15 8h0m66-3h0m35-8h0m14 6h0m33 6h0m29-6h0m13 7h0m15-13h0m0 6h0m3-7h0m19 14h0m10-3h0m6-8h0m2 12h0m1-19h0m5 14h0m0-4h0m1 2h0m0-12h0m3 19h0m4-11h0m1-1h0m5 8h0m7-4h0m1-6h0m6 14h0m0-9h0m1-5h0m2 14h0m0-17h0m0 17h0m5-16h0m1 16h0m1-6h0m10-4h0m4 9h0m3 1h0m1-16h0m0 9h0m14-10h0m8 2h0m1 8h0m23-2h0m14-10h0m-37 28h0m-3-5h0m0 6h0m-2 10h0m-2-2h0m-9-14h0m-4 10h0m-8-13h0m-4 17h0m-2-9h0m-3 9h0m-3-17h0m-4 3h0m-1-3h0m-1 2h0m0 2h0m-8 12h0m-5 0h0m-4 2h0m-6-3h0m-3-4h0m-4-8h0m-2 5h0m0-8h0m-3 3h0m-4 14h0m-1-14h0m-3 9h0m-8 4h0m-2-2h0m0-13h0m-1 8h0m0 5h0m-2-11h0m-1 2h0m-5-5h0m-1 3h0m0-1h0m-4 14h0m-1-1h0m-2-13h0m0 14h0m-10-2h0m-14-1h0m-3 6h0m-34-16h0m-29-1h0m-37 8h0m-19-9h0m-25 15h0m-50-1h0m-8 3h0m-1-9h0m-7 7h0m0-16h0m-5 15h0m-8-10h0m-3 7h0m-16 7h0m-3-6h0m0-3h0m-6 9h0m-10-14h0m-12 0h0m-7 13h0m-8-10h0m0 0h0m-4-2h0m-1-6h0m-2 9h0m-1 7h0m-4-1h0m-11-14h0m-1 4h0m0 10h0m-4-15h0m0 5h0m-2 14h0m-6-19h0m-1 2h0m-3 17h0m-1-18h0m-2 17h0m-5-2h0m-5-6h0m-7-1h0m-2 5h0m-1-12h0m-3 13h0m-7-2h0m-1 6h0m-7-19h0m0 13h0m-6 4h0m-6-1h0m-2-4h0m-3 2h0m-1-6h0m-9 8h0m-4-16h0m-4 10h0m-6 9h0m-3-7h0m-1 2h0m0 4h0m-4-5h0m-1-1h0m-4-9h0m-1-1h0m-5 3h0m-19-5h0m-10 13h0m-7 3h0m-3-7h0m-20-6h0m-4 10h0m-28-5h0m0-6h0m-1 10h0m-2-6h0m-15 6h0m-3 2h0m-12-10h0m-5 2h0m-25 10h0m-37-3h0m5 20h0m15 2h0m16-8h0m4 4h0m16 6h0m3-14h0m1 6h0m7-6h0m10 8h0m2 2h0m12 5h0m22-2h0m25-1h0m2-14h0m2 18h0m3-10h0m6-9h0m3 5h0m3-3h0m20 11h0m4-4h0m0-8h0m7 16h0m1-11h0m1 10h0m1-12h0m4 3h0m0-1h0m1 1h0m1 1h0m4 3h0m1-1h0m0 4h0m6-9h0m1 5h0m1-3h0m6-5h0m4 0h0m0 16h0m1-3h0m4-13h0m4 15h0m0-11h0m5 3h0m1 10h0m1-19h0m6 15h0m2-11h0m3-1h0m4 11h0m2-9h0m3-4h0m3 17h0m2-2h0m1-9h0m3 12h0m5-2h0m2-3h0m1-13h0m2 16h0m1-6h0m3 7h0m6-10h0m2 5h0m1-5h0m13 1h0m0 0h0m4 4h0m3 3h0m4-9h0m2-2h0m6 7h0m2-10h0m1 15h0m1 2h0m3-15h0m8 15h0m2 0h0m1-18h0m6 15h0m7 3h0m2 0h0m9-15h0m5-2h0m6 14h0m2-16h0m2 12h0m7-6h0m1 11h0m13 0h0m16-14h0m7 5h0m2 11h0m5-5h0m15 3h0m3-3h0m78 4h0m12-9h0m66 9h0m7-1h0m6-6h0m19 7h0m0-11h0m2 0h0m4-2h0m0 11h0m1-1h0m1 0h0m2-6h0m4 5h0m0 0h0m4-3h0m4-4h0m6-6h0m0 1h0m2 5h0m5 1h0m1 5h0m2-10h0m1 14h0m7-9h0m5 2h0m1 9h0m5-9h0m2 4h0m2 1h0m1-6h0m1 8h0m1-12h0m0 3h0m2 1h0m3-2h0m5 12h0m1-13h0m2 8h0m5-14h0m0 16h0m6-2h0m5-14h0m0 0h0m8 4h0m1 7h0m5 2h0m3 4h0m10-7h0m-3 21h0m-4-5h0m-5-5h0m-2 16h0m-14 2h0m-5-9h0m-1 6h0m0 2h0m-6-8h0m-3-10h0m0 1h0m-2 10h0m-1 5h0m-12-3h0m0 0h0m-1-3h0m-1-7h0m-1 3h0m-4 1h0m-3 7h0m0-2h0m-3-1h0m-2 3h0m-1 0h0m0-13h0m-2 10h0m-5 7h0m0-5h0m-3 1h0m-1-2h0m-1-9h0m-4 5h0m-1-2h0m0 2h0m-1 4h0m-1-3h0m0-8h0m-4 17h0m-1-4h0m-5-4h0m-1 0h0m-1-3h0m-2-6h0m-1 14h0m-2-5h0m-2-1h0m-5-5h0m0 15h0m-1-5h0m0-6h0m-1-8h0m-2 7h0m-11-7h0m-5 16h0m-10-9h0m-3-5h0m-17 2h0m-92 6h0m-72-7h0m-3 8h0m-13 0h0m-2 2h0m-2-4h0m-26 2h0m-3 7h0m-10-12h0m-3 2h0m0 0h0m-3-8h0m-7 7h0m0-3h0m-2 1h0m-2-1h0m-5 13h0m-8-6h0m-3 6h0m-5-3h0m-3-10h0m-12 14h0m0-13h0m-1 3h0m-3 0h0m-4-5h0m-3-1h0m-2 6h0m-7 1h0m-15 5h0m-11-8h0m-2 9h0m-4-10h0m-8 11h0m0 3h0m-7-3h0m-8-4h0m-1-9h0m-1 9h0m-3-1h0m-1-6h0m-6-3h0m-3 1h0m0 4h0m-6-4h0m-1 6h0m-1-2h0m-1-6h0m0 6h0m-1 10h0m-2-13h0m-3 8h0m-2-6h0m-1-2h0m-1 2h0m-2-1h0m-2 9h0m-6-7h0m-1 3h0m-2 7h0m-5-3h0m-2 1h0m-6-6h0m-5-3h0m-3-1h0m0 5h0m0 6h0m-1-2h0m0-10h0m-3 14h0m-6-4h0m-2-4h0m-3 9h0m-1-5h0m-1 4h0m-1 0h0m0 0h0m-13-2h0m-2-15h0m-5 8h0m-4 1h0m-3 1h0m-4 3h0m-1 3h0m-8 2h0m0-7h0m-8-1h0m0-9h0m-6 14h0m-1-1h0m-2-1h0m-1-9h0m-6 14h0m-1-8h0m-3-5h0m-8 11h0m-7-2h0m-2-7h0m-2 8h0m-2 1h0m-6-1h0m-1 3h0m-6-1h0m-3-4h0m-1-2h0m-1-10h0m-3 10h0m0-9h0m-25 16h0m-1-18h0m-6 7h0m-7-4h0m-6 7h0m-8 3h0m-1-2h0m9 19h0m5 8h0m6-12h0m0 3h0m13 5h0m7-10h0m1 6h0m5-6h0m0 0h0m3-2h0m3 4h0m3 10h0m10-10h0m1 8h0m2 3h0m0-2h0m7-8h0m4-8h0m4 6h0m3 0h0m0-4h0m4-1h0m1 6h0m7 3h0m4 9h0m1-13h0m2 5h0m5 0h0m2-9h0m2 15h0m3-11h0m2 11h0m4-3h0m0 5h0m3-13h0m1 3h0m1-5h0m2 14h0m0-10h0m1-5h0m5 14h0m0-4h0m3-13h0m2 8h0m0-1h0m8 8h0m0-7h0m2-3h0m1-3h0m2 15h0m1-4h0m9-13h0m7 8h0m1 6h0m1-7h0m0-4h0m1-1h0m4-2h0m12 15h0m3-15h0m0 1h0m1 5h0m2 5h0m1 3h0m2 3h0m2-15h0m1 4h0m5-3h0m1-1h0m1 17h0m5-16h0m1 14h0m2-2h0m0-4h0m0 0h0m0 1h0m1 5h0m0-2h0m1-5h0m0-1h0m2 2h0m1-8h0m0 8h0m1-6h0m1 3h0m3 7h0m3-12h0m1 13h0m1 3h0m0-18h0m2 12h0m7-13h0m1 15h0m2 0h0m5 0h0m5 0h0m1-14h0m2 5h0m1 7h0m4-1h0m0 6h0m3-10h0m5-5h0m2 9h0m1 7h0m1-5h0m0 1h0m1-5h0m3 4h0m0-5h0m5 1h0m3-10h0m3 12h0m1 2h0m6-1h0m19-12h0m11 13h0m12-4h0m0-3h0m2-3h0m1 5h0m0 4h0m8 1h0m1-6h0m1-8h0m1 0h0m2 7h0m9 10h0m3-3h0m5-4h0m7 0h0m8 6h0m22-1h0m1-7h0m1 0h0m9 9h0m6 2h0m179-18h0m9 0h0m0 2h0m7-2h0m8 2h0m4 11h0m7-13h0m2 12h0m0-5h0m2 10h0m4-13h0m0 13h0m16-15h0m2 11h0m17 5h0m0-4h0m2-9h0m2 1h0m2-6h0m1 14h0m2 0h0m4 4h0m0-19h0m5 19h0m2-2h0m2-13h0m5 12h0m4-9h0m2 6h0m2-4h0m6 4h0m7 6h0m31-19h0m1 16h0m-17 22h0m-3-5h0m-1-6h0m-20 8h0m-2-10h0m-5 0h0m0 1h0m-2-2h0m0-2h0m-5 13h0m-2-14h0m-3 5h0m-2-2h0m-3 13h0m-3-6h0m-1-5h0m0-2h0m-3 4h0m-3 9h0m-2-14h0m-4 2h0m-1 2h0m-5 5h0m0-10h0m-1-2h0m-1 9h0m0 9h0m-1-6h0m-1-12h0m-1 9h0m0-8h0m-4 1h0m-3 7h0m-1-9h0m-1 6h0m-1 1h0m-1 11h0m-1-12h0m0 0h0m-2-1h0m-4-1h0m-4 13h0m-12-8h0m-2 3h0m0-10h0m-1 14h0m-2-7h0m0 7h0m-11-16h0m-24 11h0m-3 7h0m-9-17h0m-34 18h0m-41-17h0m-75 14h0m-37-15h0m-14 3h0m-19-4h0m-4 18h0m-13-8h0m-8 6h0m-2-8h0m-1-6h0m-13 9h0m-1-10h0m-4 16h0m-2-13h0m0-3h0m-8 2h0m-1 16h0m-1-5h0m-2 3h0m-6-13h0m-2 2h0m-1 6h0m-1-11h0m-2 8h0m-2-6h0m-3 13h0m0-9h0m-4-7h0m-4 2h0m-5 9h0m-3 5h0m0-14h0m-7 7h0m-3-6h0m0 4h0m-1-5h0m-4 0h0m-2 1h0m-1-1h0m-1 7h0m0-1h0m-2-2h0m-6 1h0m-2 0h0m-1 12h0m-1-19h0m-1 10h0m-2-10h0m-3 18h0m-5-5h0m0-1h0m-5-9h0m0 11h0m-1 5h0m-1-4h0m-2-4h0m-2-2h0m-7 0h0m-3 1h0m0-1h0m-3-5h0m0 12h0m-1-15h0m-1 2h0m0 15h0m-2-2h0m-3 2h0m-2-18h0m-2 8h0m-2-6h0m-3 4h0m-1-3h0m-1 4h0m-2 7h0m-2-8h0m-4-4h0m0 14h0m-5-13h0m-1 3h0m-2 2h0m-1-1h0m-1 9h0m-1-1h0m0-3h0m-1-10h0m-3 15h0m-1-15h0m-1-2h0m-1 5h0m-1-5h0m-4 8h0m-2 4h0m-4-7h0m-1-2h0m-2 3h0m-4-5h0m-2 0h0m-1 1h0m-1-2h0m0 1h0m0 13h0m-4-9h0m-1 1h0m-2 11h0m-8-7h0m-18 8h0m-1-18h0m0 4h0m-6 1h0m-1 1h0m-3 12h0m-8-7h0m-4-9h0m-1 6h0m-2 5h0m-1-2h0m-6-6h0m-2 11h0m-2 1h0m-3-12h0m-1 8h0m-2-1h0m-1-5h0m-1 10h0m-5-5h0m-2-1h0m-11 3h0m-9 3h0m-4-2h0m-4-4h0m-1-8h0m-4-2h0m-1 8h0m-1 6h0m-15-12h0m5 24h0m3 11h0m7-4h0m16-7h0m9 1h0m3-3h0m7 5h0m1-5h0m1 13h0m0-9h0m4-5h0m1 6h0m1-6h0m1-3h0m0 13h0m5-5h0m2-2h0m3 1h0m1 7h0m1 4h0m1-11h0m2-6h0m1 3h0m0 12h0m4-2h0m1-12h0m3 15h0m3-13h0m0 8h0m7-9h0m3-1h0m2 6h0m1-5h0m4 7h0m1-11h0m2 17h0m8-8h0m2-7h0m3 5h0m2 4h0m2-7h0m2 14h0m1-8h0m0 6h0m3 0h0m0-6h0m3-3h0m2 9h0m1-11h0m0 12h0m2-14h0m3 1h0m2 4h0m1 8h0m0-12h0m2 14h0m2 1h0m2-3h0m4-2h0m1-2h0m14-7h0m0-1h0m4 2h0m0-3h0m2-3h0m7 5h0m1-4h0m0 12h0m2-5h0m1-4h0m0 11h0m2-8h0m6 3h0m2-2h0m0 2h0m10-6h0m0 4h0m1 1h0m1 8h0m1-10h0m1 3h0m4 6h0m0-5h0m0-8h0m0 8h0m4-10h0m1 8h0m1 10h0m1-7h0m1 4h0m0-3h0m2 2h0m2-14h0m1 9h0m0-10h0m1 1h0m1 0h0m0 10h0m1-11h0m1 10h0m3 9h0m0-10h0m3 0h0m6-2h0m1 6h0m0-8h0m0 10h0m1-7h0m0 5h0m1 2h0m0-4h0m9-6h0m2 9h0m3 4h0m2-16h0m4 5h0m9 9h0m2-16h0m5 15h0m2-5h0m5 0h0m1-6h0m8 4h0m1 10h0m8-16h0m1-1h0m3 15h0m21-7h0m4-1h0m5 3h0m9 3h0m9-2h0m11-11h0m2 1h0m18 15h0m24-4h0m46 3h0m76-6h0m46-4h0m8 4h0m2-5h0m26 13h0m4-16h0m2 3h0m17 7h0m21 2h0m1-14h0m2 11h0m2-1h0m0-9h0m0 10h0m5 3h0m3-10h0m6 3h0m1 11h0m4-11h0m2 11h0m3-11h0m0-1h0m1-4h0m3 17h0m2-3h0m2-7h0m16 8h0m6-2h0m25 16h0m-10-1h0m-8 1h0m-8-8h0m-3 10h0m-7-5h0m-17 9h0m0-10h0m-8-7h0m-10 11h0m-5 5h0m-5 2h0m-1-4h0m-1 1h0m-2-1h0m-2-2h0m-3 5h0m0-6h0m-12 1h0m-2 7h0m-3-9h0m-2 5h0m-2-1h0m-1 0h0m-8-7h0m-6 11h0m-2-15h0m0 3h0m-2-3h0m-3 1h0m-4-2h0m-1-2h0m-17 14h0m-8 5h0m-48-14h0m-170 9h0m-5-14h0m-1 5h0m-4-2h0m-6-2h0m-4 5h0m-30 13h0m-8-14h0m-3 2h0m-12 10h0m0-2h0m-2-7h0m-3 10h0m-4-12h0m-6 2h0m-3 7h0m-7 2h0m0-7h0m-3-2h0m-3-2h0m-4 6h0m-1-5h0m-1-6h0m0 13h0m-8 5h0m-6-17h0m-1 11h0m-3 4h0m-2 0h0m-7-12h0m-3-3h0m-1 7h0m-3-4h0m-7-3h0m-5 12h0m-2-4h0m-5 5h0m-2-5h0m0 8h0m-1-12h0m0 2h0m-1-1h0m-3-4h0m-1 10h0m-1 1h0m-6-13h0m-1 11h0m-4-12h0m-1 3h0m-1 2h0m-7 3h0m-2 5h0m-2 5h0m0-8h0m-1-1h0m-12 7h0m-3-3h0m-2-6h0m-1-4h0m-3 7h0m0 1h0m0-9h0m-2-1h0m-1 8h0m-1-3h0m0 4h0m-1 4h0m-1-10h0m0 14h0m-1-8h0m-2 1h0m-5 3h0m-6-14h0m-1 3h0m-1 8h0m-4 1h0m-4-10h0m-3 10h0m0-7h0m-1 2h0m-1 12h0m-4-14h0m0 4h0m0-3h0m-1-6h0m-1 4h0m-1 7h0m0 2h0m-4 4h0m0-14h0m-1-1h0m-2 11h0m0-8h0m-3 10h0m-6 0h0m-2 3h0m-2 1h0m-1-1h0m-4-7h0m-1-1h0m-1 2h0m-1-7h0m-3-4h0m-2 1h0m-5 15h0m-5-10h0m-3-2h0m-4 5h0m0 4h0m-3 3h0m-1-2h0m-5-10h0m-9-5h0m-4 8h0m-3 9h0m0-10h0m-1 9h0m-4 1h0m-7-15h0m-7 0h0m-3 5h0m-3 12h0m-2-3h0m-5 6h0m0 13h0m2-13h0m12 11h0m10 4h0m4-9h0m5-1h0m1-2h0m1 6h0m1-9h0m9 8h0m3-3h0m2 8h0m0-3h0m3 1h0m0-2h0m1-9h0m2 10h0m2 2h0m7-11h0m3 11h0m1-13h0m6 12h0m0-12h0m3 17h0m3-18h0m1 19h0m4-7h0m6 1h0m2-8h0m0 6h0m4 2h0m2 1h0m1-10h0m5-3h0m1 9h0m4-10h0m7 8h0m1-2h0m1 10h0m5-7h0m4-3h0m3-4h0m9-1h0m2 9h0m0 2h0m14-9h0m3 2h0m2 12h0m0-1h0m5-15h0m1 5h0m1-6h0m1 3h0m10 0h0m3 3h0m3 7h0m1-13h0m0 13h0m1 0h0m4 1h0m2-12h0m2 1h0m3 12h0m2-13h0m7 0h0m1-1h0m1 1h0m0 7h0m3 10h0m3-8h0m3-11h0m2 11h0m2 6h0m1-8h0m2-7h0m4 4h0m2-1h0m0 14h0m1-7h0m9-6h0m5 2h0m3-3h0m17 6h0m2 3h0m10 4h0m2-11h0m3 9h0m48-5h0m8-3h0m20 4h0m0 5h0m25 2h0m186-10h0m8-7h0m56 0h0m5 1h0m2 10h0m0-13h0m8 18h0m2-6h0m7-9h0m1 2h0m9 4h0m8 9h0m15-8h0m2-4h0m1 6h0m7-8h0m19 4h0m-18 18h0m-9-1h0m-33 13h0m-6-2h0m-3-10h0m-2-3h0m-14 9h0m-18 5h0m-2-3h0m-9-12h0m-26 13h0m-261-1h0m-14-14h0m-17 13h0m-4-11h0m-2 15h0m-11-14h0m-5 6h0m-17-4h0m-14 9h0m-7-8h0m-2 2h0m-7-7h0m-8 2h0m-3 9h0m-6-4h0m0 11h0m-2-12h0m-3 3h0m-2-7h0m-2-2h0m-2 17h0m-4-2h0m-4-2h0m-4-10h0m-1 2h0m-2 10h0m-1-4h0m-6 0h0m-9 1h0m0-12h0m-3 0h0m-3 18h0m-4-5h0m-5-10h0m-4 9h0m-5-7h0m-1-2h0m-1 8h0m0-12h0m-2 15h0m0-2h0m-19-12h0m-9 12h0m-3-10h0m-5 1h0m-17 0h0m-2 15h0m-9-7h0m-7-9h0m-14 6h0m-1 3h0m-7 6h0m-3-4h0m0-14h0m-6 3h0m-5 10h0m-11 2h0m-17 2h0m3 22h0m11 0h0m10-7h0m7-2h0m10 5h0m23 0h0m2-3h0m6-5h0m16 5h0m2-10h0m17 12h0m4-10h0m2 15h0m2-11h0m12-1h0m0 4h0m1 8h0m2-11h0m14 6h0m9-7h0m1-2h0m8 5h0m3-5h0m8 6h0m13 0h0m5-4h0m5-4h0m1-2h0m25 15h0m16-13h0m6 0h0m8 11h0m337-8h0m6-6h0m9 1h0m1 1h0m39 4h0m4-3h0m2-2h0m2 3h0m8-3h0m3 6h0m43 3h0m18-8h0m-19 32h0m-11-4h0m-57 1h0m-11-2h0m-11 0h0m-37 3h0m-1-10h0m-334 4h0m-11 1h0m-31 2h0m-3-9h0m-11 0h0m-8 6h0m-4 2h0m-34 8h0m0-12h0m-8 10h0m-1 1h0m-10 4h0m-23-15h0m-14 0h0m-15 2h0m-25-1h0m0 1h0m-37-1h0m-10 4h0m56 13h0m159-1h0" fill="none" stroke="#000" stroke-opacity="0.5" stroke-width="6.0" stroke-linecap="square"/>
<path transform="scale(.1)" d="M3680 2254h0m-43 14h0m39 12h0m17 4h0m-3 18h0m-15 2h0m-34 7h0m-14-3h0m-11-5h0m-20 26h0m63 8h0m0 2h0m9-13h0m2-6h0m11 5h0m8 30h0m-34-5h0m-7 6h0m-14-10h0m-6 3h0m-2 9h0m-8-3h0m-2-11h0m-10-1h0m-9 1h0m2 32h0m16-6h0m10 6h0m1-4h0m2 4h0m5-14h0m1 13h0m10 4h0m0-18h0m2 6h0m1 2h0m2 4h0m3-8h0m11 13h0m3-13h0m9-1h0m5 3h0m9 24h0m-12 7h0m-2-10h0m-8-1h0m-20 3h0m-3-10h0m-1 4h0m-1 9h0m-19-12h0m-1 6h0m-2 9h0m-9-2h0m-5 5h0m-7-1h0m-25 1h0m-4-19h0m7 26h0m8 6h0m2-12h0m9 7h0m4 7h0m4-10h0m20 1h0m2 3h0m4 2h0m3-1h0m5 10h0m6-18h0m1 8h0m6-6h0m3 14h0m9-6h0m8-8h0m11 9h0m-21 12h0m-8 12h0m-7 0h0m-3-1h0m-6-13h0m-1 7h0m-1-8h0m-2 6h0m-5 3h0m0-3h0m-1 9h0m-5-4h0m-2-10h0m0 0h0m-1 13h0m-7 2h0m-2 1h0m-15-11h0m-1 8h0m-15-4h0m-6 2h0m-8-3h0m-10 26h0m3-10h0m5 7h0m12 4h0m4 0h0m14-15h0m0 10h0m1-12h0m0 14h0m1 3h0m9-10h0m5-1h0m14 11h0m4-12h0m2-4h0m1 11h0m9-3h0m4 14h0m-5-2h0m-26 7h0m-15 8h0m-7-8h0m-9 9h0m-1-8h0m-6-6h0m-24 11h0m-21 22h0m44 3h0m19-15h0m13-3h0m1-1h0m0 3h0m11 0h0m7-2h0m1 0h0m22 8h0m-15 11h0m-51 5h0m-32-2h0m38 36h0m45-5h0m-75 16h0" fill="none" stroke="#000" stroke-opacity="0.6" stroke-width="6.0" stroke-linecap="square"/>
<path transform="scale(.1)" d="M3096 2394h0m-38 10h0m102 32h0m-9-2h0m-48 0h0m-14 5h0m-1-14h0m-14 8h0m-11-5h0m-1 9h0m-3-7h0m-3-3h0m-3-6h0m-6 16h0m-2-11h0m0-1h0m-10 9h0m-13-8h0m-2 9h0m-2-4h0m-5 5h0m-4 1h0m-2-9h0m-6-5h0m-4 3h0m-1 5h0m-23-5h0m-9 10h0m-11-3h0m-1-1h0m-16 24h0m1-9h0m15 7h0m1-6h0m7-4h0m2-2h0m5 4h0m1 11h0m3 2h0m8-2h0m4-4h0m1 5h0m0-16h0m2 11h0m1-3h0m1 7h0m10-9h0m2-5h0m0 10h0m2 5h0m2-17h0m2 12h0m1-10h0m1 11h0m2-9h0m1 10h0m0 0h0m1-4h0m0 1h0m1 6h0m0 1h0m5-5h0m1 1h0m1-1h0m2-3h0m2-8h0m2 14h0m0-2h0m2-4h0m1 0h0m1 7h0m0-12h0m6 6h0m1 6h0m2-14h0m7 13h0m4-14h0m1 14h0m0 1h0m6-2h0m1-4h0m1-12h0m1 12h0m5 3h0m1 4h0m3-12h0m2 11h0m2-1h0m2-1h0m3-14h0m1 15h0m1-5h0m4 5h0m2-10h0m3 9h0m7-3h0m0-5h0m2 11h0m2-6h0m1-5h0m13 4h0m5-7h0m10 3h0m3 4h0m8-8h0m31-4h0m1 38h0m-8-13h0m-28 3h0m0-2h0m-15 3h0m0 1h0m-7 8h0m-3-6h0m-1 5h0m-1-17h0m-3 5h0m0-5h0m-1 0h0m-1 7h0m0-4h0m-2 3h0m-4 4h0m-1 4h0m-4-2h0m-1 7h0m-3-16h0m0 11h0m-4-8h0m-1 5h0m-1 3h0m-1-6h0m0 6h0m-1-2h0m-1-2h0m-1 8h0m0-5h0m0-4h0m-2 8h0m0-17h0m-2 8h0m0 10h0m0-1h0m-1 0h0m-6-9h0m-1 11h0m0-11h0m0 10h0m0-17h0m-1 15h0m0-12h0m-1 12h0m-2-1h0m-2-2h0m0 4h0m-2-15h0m0 12h0m-1 4h0m-1-7h0m0-7h0m0 5h0m0 4h0m0 3h0m-1-8h0m0 10h0m-2-10h0m0-5h0m-3 5h0m0 3h0m0 4h0m-1-1h0m-1 2h0m0-9h0m-2 3h0m-1 0h0m0 5h0m0-7h0m-1-1h0m-1 6h0m0-5h0m0-6h0m0 9h0m-1-1h0m-2 5h0m-1 2h0m0-8h0m0-8h0m-1 2h0m0 8h0m-1-7h0m0 9h0m-2-9h0m-1 1h0m0 12h0m-2-3h0m0 3h0m-1-14h0m-1 13h0m0 1h0m0-1h0m0-9h0m0 11h0m-1-9h0m0 9h0m0-2h0m0-4h0m0-1h0m-1 3h0m-1-7h0m0 4h0m-2-4h0m0-4h0m0-2h0m0 12h0m-1-3h0m0-2h0m-1-8h0m0 12h0m-1 7h0m0-6h0m-1-11h0m0 3h0m-1 12h0m-1-1h0m-1 1h0m-3-3h0m0 1h0m-1-15h0m0 10h0m-1-10h0m-1 17h0m0-3h0m0-3h0m0-6h0m-1 9h0m-2-7h0m-1 2h0m0 5h0m0-4h0m-1 9h0m-1-10h0m0 5h0m0-5h0m0 6h0m-1-3h0m0 4h0m-1-4h0m-1 0h0m0 6h0m-2-2h0m-1-10h0m0 9h0m-2 4h0m0-13h0m-1 7h0m0 4h0m0-2h0m-1-5h0m-3-4h0m-1 4h0m-2-7h0m-2 11h0m0-3h0m0-6h0m-1 0h0m-1 9h0m0 2h0m0-10h0m-1 13h0m-3-10h0m-1 1h0m-1 2h0m0-4h0m0-3h0m-3-2h0m0 11h0m0 0h0m-2 0h0m-1-3h0m-2-1h0m0-9h0m0 12h0m-3-10h0m-1 11h0m-1-4h0m0 5h0m0 3h0m0-15h0m-5 5h0m-3-8h0m-3 14h0m0-5h0m-8-3h0m-1-1h0m-3 2h0m-1 8h0m-2 4h0m-4-3h0m-12-13h0m-7 5h0m-1 2h0m0-3h0m-2 11h0m-4 7h0m3 5h0m4 6h0m7-10h0m1 3h0m4 8h0m0 2h0m2-9h0m3 4h0m1-10h0m3 12h0m0-11h0m1 11h0m1 2h0m3-8h0m0 5h0m1 0h0m2-3h0m1-5h0m0 4h0m3 3h0m1-5h0m0 6h0m0-3h0m2-2h0m2-2h0m0 6h0m2-3h0m0-7h0m0 6h0m1 3h0m1-1h0m1 0h0m1-2h0m0-3h0m1-4h0m0 15h0m0-15h0m0 15h0m0-11h0m1-1h0m0 7h0m1 4h0m2-7h0m0 7h0m1-9h0m0 10h0m0-1h0m0-5h0m2 2h0m0-1h0m1-6h0m1-6h0m1 6h0m0-1h0m0 10h0m0-12h0m0 14h0m0-4h0m2 5h0m0-8h0m0-3h0m0-4h0m1 15h0m0-4h0m2 4h0m0-6h0m1-6h0m0-6h0m0 14h0m0-12h0m1 3h0m0 5h0m1 8h0m1-7h0m0 7h0m0-3h0m0-4h0m1 1h0m0-10h0m0 4h0m0-5h0m1 9h0m0-3h0m0-2h0m0-6h0m1 12h0m0-5h0m0 6h0m1-3h0m0-10h0m0 18h0m1-2h0m1-15h0m1 6h0m0 10h0m1-7h0m0-7h0m0 8h0m0 0h0m2-4h0m0 2h0m1 6h0m0-9h0m1 11h0m0-6h0m1-4h0m1 6h0m0 1h0m1 5h0m1-2h0m0-11h0m0 0h0m0 11h0m0-2h0m1 1h0m0-12h0m1 3h0m0 2h0m0-1h0m1 6h0m0-4h0m1-7h0m0 6h0m1 4h0m1-12h0m0 12h0m0-10h0m1 4h0m1 0h0m2 6h0m0-2h0m1-5h0m0 0h0m0-2h0m1 6h0m0-9h0m0 18h0m1 0h0m0-13h0m1 13h0m0-8h0m0 6h0m1-4h0m0 0h0m0 1h0m1 0h0m0-7h0m0 6h0m2-13h0m1 8h0m0-1h0m0-6h0m0 1h0m1-2h0m0 2h0m0 4h0m1 0h0m0-6h0m0 10h0m0 7h0m0-17h0m1 11h0m0-2h0m0-5h0m0 15h0m0 0h0m1 0h0m0-17h0m0 15h0m0 0h0m0-5h0m1 6h0m1-3h0m0-13h0m1 17h0m0-19h0m0 18h0m0-10h0m1-3h0m0-1h0m0 3h0m0-4h0m0 12h0m0-8h0m1 1h0m0 10h0m0-17h0m0-1h0m0 19h0m1-16h0m1 14h0m0-12h0m0 2h0m2 9h0m0-7h0m1 7h0m0-10h0m0 10h0m1-1h0m0-14h0m0 1h0m0 11h0m0 2h0m0-8h0m1 8h0m1-1h0m0-9h0m0 4h0m1-4h0m1 13h0m2-1h0m0-12h0m0-4h0m1 4h0m0-2h0m0 10h0m1 6h0m0-7h0m1 0h0m0 1h0m0-5h0m1 3h0m0 6h0m0-5h0m0 7h0m1-19h0m0 12h0m0-10h0m1 2h0m0 15h0m0-12h0m0 0h0m1 1h0m0 3h0m1-2h0m0 0h0m1 10h0m0-10h0m0 9h0m0-18h0m1 19h0m0 0h0m0-16h0m1 9h0m1 5h0m0-10h0m0 6h0m1 2h0m0-1h0m1 5h0m0-4h0m0-9h0m1 7h0m1-1h0m0 6h0m0-3h0m0-9h0m0 1h0m1 8h0m0 4h0m0-2h0m0 1h0m0-6h0m0 1h0m2 2h0m0 0h0m1-2h0m0-13h0m1 5h0m0-3h0m0-1h0m1 2h0m0 12h0m0-9h0m0 12h0m1-8h0m0-10h0m2 14h0m0-13h0m1 1h0m0 10h0m0-6h0m1 9h0m0-9h0m1-3h0m0 13h0m0-9h0m3-4h0m0 7h0m2-4h0m0 9h0m1-14h0m0 5h0m2 8h0m1 4h0m1-4h0m0 0h0m0-11h0m0 6h0m0-6h0m1 13h0m0-11h0m0 4h0m1-5h0m0 9h0m1-6h0m1 4h0m1 6h0m1-12h0m0 6h0m1-5h0m1 10h0m1-8h0m1-2h0m2 13h0m0-16h0m1 11h0m0 0h0m1-7h0m1 4h0m0-5h0m1 2h0m2 6h0m3-13h0m0 0h0m1 1h0m0 8h0m4-7h0m2-3h0m1 3h0m1 6h0m0 9h0m0-2h0m4-11h0m1-4h0m1 13h0m1-3h0m19 5h0m1-3h0m2-10h0m4 0h0m1 10h0m1-3h0m17 2h0m0 1h0m11 1h0m4 6h0m-27 3h0m-12 10h0m-8 2h0m-1-1h0m-4 0h0m-3-10h0m-1-2h0m-5 9h0m-1 7h0m-1-9h0m-2 6h0m0 3h0m-2-9h0m-1-8h0m-1 4h0m0 7h0m-2-11h0m-4 13h0m-3-13h0m-1 18h0m-2-17h0m0 13h0m-1 0h0m0-9h0m-2 3h0m-2 4h0m0 3h0m0-3h0m0-6h0m-1 9h0m-1-8h0m-1-8h0m0 18h0m-1-10h0m-2 5h0m0-1h0m-1 3h0m0 2h0m0-11h0m0 1h0m-1-5h0m0 0h0m0 2h0m-1 5h0m0-9h0m-1 13h0m0-4h0m0 2h0m0 8h0m-1-18h0m0 7h0m0 0h0m-1-4h0m-1 5h0m0-9h0m0 0h0m-1 2h0m0 3h0m0-4h0m-1 14h0m0-9h0m0-4h0m-1 15h0m0-7h0m-1 9h0m0-18h0m-1 11h0m0-8h0m-1 1h0m0 11h0m-1-6h0m-1-7h0m0 3h0m-1 2h0m0-6h0m-1 16h0m0-7h0m0-9h0m-1 6h0m0-2h0m-1 4h0m0 4h0m-1-7h0m0 7h0m-1 0h0m0-7h0m0 6h0m0-5h0m0 7h0m0-5h0m0-10h0m-1 2h0m-5 2h0m0-3h0m-1 17h0m0-10h0m0 6h0m0-6h0m-1 0h0m0 2h0m0 9h0m-1-19h0m-2 17h0m0-12h0m-1 4h0m0 0h0m-1-2h0m0 2h0m0-9h0m0 9h0m0-8h0m-1 12h0m0-11h0m0 16h0m0-10h0m-1 4h0m0 5h0m0 0h0m-1-6h0m0-7h0m0 3h0m0 10h0m-1-2h0m0-6h0m0-3h0m0 5h0m-2-8h0m0 0h0m0 16h0m0-10h0m-1-2h0m0 2h0m-1 2h0m0 0h0m0 1h0m0 3h0m-1-2h0m0 1h0m0-3h0m0-6h0m-1 2h0m0 5h0m0 2h0m0-8h0m-1-6h0m0 10h0m-1 9h0m0-4h0m0-1h0m-1-2h0m-1 5h0m0-5h0m0 4h0m-1-12h0m0 2h0m0-4h0m0 4h0m-1 11h0m0-5h0m0-5h0m0-5h0m0 3h0m-1 3h0m0 2h0m0 1h0m0-3h0m-1-5h0m0 4h0m0 11h0m-1-6h0m0 5h0m0-14h0m0 10h0m0 5h0m0-5h0m0-3h0m-1-8h0m0 15h0m-1-2h0m-1-7h0m0-7h0m0 3h0m0 15h0m-1-11h0m0 5h0m0-7h0m0 10h0m-1-15h0m-1 9h0m0-7h0m0 11h0m0-11h0m0 12h0m-1-11h0m0 6h0m0-8h0m-1 8h0m0-3h0m0 7h0m0-1h0m0 6h0m0-10h0m-1 9h0m0-6h0m0 1h0m-1-8h0m0-4h0m0 12h0m-1-4h0m0 8h0m0-14h0m0 1h0m0 9h0m0-5h0m-1 10h0m-1-1h0m-1-1h0m0-4h0m0-2h0m-1 4h0m-1-9h0m0-2h0m0 16h0m-1-8h0m0-4h0m0-4h0m-1 2h0m0-4h0m0 4h0m0 5h0m-1-7h0m0-2h0m-1 14h0m0-14h0m0 16h0m0-1h0m-2-13h0m0 6h0m0-5h0m-1 4h0m0-7h0m-1 3h0m0 14h0m0-8h0m0-1h0m0-7h0m0 15h0m-1 0h0m0 0h0m0-11h0m0 12h0m-1-17h0m0 13h0m0-1h0m0-7h0m-1 4h0m0 2h0m-1-7h0m0 1h0m0 11h0m0-11h0m0 8h0m-1-10h0m0 12h0m-1-8h0m0 1h0m0 5h0m0-7h0m0 7h0m0 5h0m0 0h0m0-19h0m0 17h0m0-11h0m-1-3h0m0-2h0m0 2h0m-2 0h0m0-1h0m0-1h0m0 9h0m0-1h0m-1 4h0m0-2h0m-1 0h0m0-11h0m0 2h0m0 8h0m-1 7h0m0-16h0m0 5h0m0 3h0m-1 2h0m-2-8h0m0 13h0m0-6h0m0 2h0m0 1h0m0-3h0m-1 0h0m0 3h0m0 3h0m-1-12h0m0 0h0m-1 4h0m0 3h0m-1 3h0m0-10h0m-1 3h0m0 8h0m0-6h0m0 1h0m-1 1h0m-1 2h0m0-7h0m-1-3h0m0 11h0m0-4h0m0-10h0m-1 10h0m0 0h0m0-6h0m0 15h0m0 0h0m0-7h0m-1 4h0m0-9h0m-1-1h0m0 7h0m0 6h0m-1-15h0m-2 2h0m0 2h0m0-3h0m0 8h0m0-9h0m-1 8h0m0 3h0m0-1h0m0 3h0m-1-3h0m-1-4h0m0 2h0m0-12h0m0 11h0m0-1h0m-1 2h0m0-7h0m-1 10h0m0-9h0m-2-3h0m0 4h0m-1 3h0m0 3h0m-1-9h0m0 14h0m0-13h0m-1 3h0m-1 9h0m0 2h0m0-17h0m-1-1h0m0 11h0m-2-4h0m-1 6h0m0-8h0m-1 11h0m0-14h0m0 13h0m0 1h0m-2-1h0m0-8h0m0-8h0m-1 18h0m-3-1h0m0 2h0m-1-5h0m0-10h0m-1-4h0m-1 5h0m-1-5h0m0 13h0m-1 1h0m-1-4h0m0 5h0m-1 1h0m-1-9h0m-1 0h0m-1 11h0m-2-2h0m0-7h0m-1 6h0m0-3h0m0-3h0m-1 0h0m0-6h0m-1 4h0m0-7h0m0 8h0m-1-7h0m-1 1h0m0 0h0m-1 2h0m-1 2h0m0-2h0m0 11h0m-1-12h0m-2 8h0m0-3h0m-1 7h0m0 4h0m0-8h0m0 3h0m-1-8h0m-2 4h0m0-2h0m-1 5h0m-3 3h0m0-8h0m-1 4h0m-1 2h0m-3 2h0m-2-1h0m0 0h0m-1-11h0m-5-4h0m0 27h0m1 6h0m3-10h0m1 4h0m0 2h0m2 2h0m0 3h0m0-7h0m2-7h0m4 0h0m2 3h0m0 0h0m1 2h0m1 11h0m1-10h0m3 9h0m5-2h0m2-12h0m1 7h0m1-8h0m0 10h0m1-5h0m0 1h0m1-5h0m0 16h0m1-11h0m0-6h0m1 19h0m2-18h0m0-1h0m0 15h0m1-10h0m1-1h0m0 1h0m0-3h0m1-2h0m1 8h0m2 9h0m0 2h0m0-1h0m0-11h0m2-7h0m1 15h0m0 0h0m0-7h0m1 9h0m2-7h0m0-9h0m0 15h0m0-14h0m1 9h0m2-4h0m0-2h0m3 13h0m0-10h0m1-4h0m0 10h0m0 5h0m0-19h0m0 4h0m1 3h0m0-5h0m1 10h0m0-9h0m0 5h0m0-1h0m0-7h0m1 7h0m1-7h0m2 19h0m0-13h0m1 3h0m1 4h0m0-10h0m1 15h0m0 1h0m1-17h0m0-2h0m0 17h0m1-16h0m1 5h0m0 2h0m2-5h0m0 1h0m0 12h0m1-14h0m0-2h0m1 16h0m2 1h0m0-15h0m1-2h0m0 15h0m0-4h0m0 4h0m1-6h0m0 8h0m0-6h0m1 2h0m0 1h0m0-4h0m0 4h0m1-1h0m0-4h0m0-4h0m1 12h0m0-14h0m2 2h0m2 8h0m1-8h0m0 7h0m0 1h0m1 2h0m0-6h0m0 2h0m1 3h0m0-2h0m0-12h0m1 6h0m1-6h0m0 14h0m0-1h0m1 2h0m0 2h0m1-11h0m0-3h0m0 16h0m1-10h0m0 10h0m0-12h0m1-6h0m0 18h0m1-10h0m1-7h0m0 5h0m0-5h0m1 9h0m0-11h0m0 2h0m0 12h0m1 1h0m0 1h0m1-5h0m0-1h0m1-4h0m0 12h0m1 0h0m0-16h0m0 14h0m0-10h0m1 0h0m2 2h0m0 2h0m1 1h0m0-3h0m0 4h0m0-11h0m0 15h0m1-14h0m0-2h0m0 3h0m0 15h0m1-11h0m1 7h0m0-6h0m1-3h0m0 0h0m0-5h0m0 13h0m1 3h0m0-14h0m0 10h0m0-12h0m0 11h0m1 4h0m0 0h0m1-15h0m0 16h0m1 2h0m2-2h0m1 3h0m0-9h0m1 6h0m0-14h0m1 7h0m0-2h0m0 3h0m0 4h0m0-3h0m1-2h0m2 1h0m1 0h0m0 9h0m0-18h0m1 5h0m0-2h0m1 3h0m0-1h0m1-4h0m1 9h0m1-10h0m0 17h0m0-16h0m1-1h0m1 17h0m0-6h0m2-11h0m0 16h0m1 1h0m0-2h0m1-10h0m0-5h0m0 14h0m1-11h0m1 1h0m1 14h0m2-3h0m0-13h0m1 15h0m0-8h0m0-10h0m1 1h0m0 6h0m1-7h0m0 4h0m1 1h0m2-2h0m0 10h0m1 5h0m0-14h0m0 11h0m0 4h0m1-19h0m0 2h0m0-2h0m1 12h0m0-8h0m0-4h0m1 3h0m0 3h0m1 11h0m1-5h0m1-8h0m0 9h0m2-13h0m0 6h0m1-6h0m0 13h0m1 1h0m0-5h0m2 7h0m0-16h0m0 19h0m1-9h0m1 0h0m1 9h0m0-6h0m0-10h0m1 1h0m0 12h0m1-3h0m0 4h0m2-14h0m0-3h0m2 7h0m0-4h0m1-2h0m3 5h0m0 9h0m2-10h0m2 10h0m3-14h0m4 3h0m0 1h0m0 0h0m0 0h0m3-4h0m1 5h0m3 11h0m6-5h0m1 4h0m3-12h0m4-3h0m4 7h0m4 0h0m5-7h0m1 1h0m1 14h0m6-2h0m-12 12h0m-10 9h0m-2-10h0m-2 1h0m-3-2h0m-2 12h0m-8-14h0m-1 4h0m-5-4h0m-14 3h0m-3 2h0m-1 12h0m-1-7h0m-1 3h0m-2-12h0m-4 0h0m0-3h0m-1 1h0m0 8h0m-1-7h0m-3 1h0m-3 1h0m-3 9h0m-2-9h0m-2 3h0m-1-4h0m-1 2h0m0 2h0m0-7h0m-3 2h0m-1 10h0m-1 0h0m0-7h0m0 12h0m-3-17h0m-2 11h0m-1-11h0m-3 16h0m-1-13h0m0-3h0m0 16h0m-1-13h0m-1 0h0m-2 11h0m-1-13h0m0 14h0m-1 0h0m0-5h0m0-9h0m0 17h0m-2 0h0m0-11h0m0-1h0m-2 12h0m-2-7h0m0 5h0m0-3h0m0-12h0m-2 0h0m-1 8h0m0-9h0m-1 7h0m-2-2h0m-1 12h0m0-15h0m-1-1h0m0 5h0m-1-4h0m-2 2h0m-1 7h0m0-8h0m-3 7h0m0-2h0m0-6h0m-2 3h0m0-3h0m-1 13h0m-1-11h0m0 0h0m0 5h0m-1-1h0m-2-6h0m0 5h0m0-7h0m0 1h0m0 2h0m0 3h0m0-2h0m-1 8h0m0-11h0m0 7h0m0-5h0m-1 16h0m0-14h0m0 8h0m-2 3h0m-1-11h0m-2 10h0m-1-15h0m-1 14h0m-1-13h0m-1 11h0m0-5h0m-2-4h0m-1 14h0m-1-10h0m-2-5h0m0 14h0m-1-13h0m0 10h0m-1 6h0m-1-16h0m0 3h0m0-4h0m0 15h0m-1-4h0m-4-10h0m-1 14h0m0-16h0m-2 9h0m-2-10h0m-1 7h0m-7 9h0m0-11h0m-4 6h0m0-3h0m-1 2h0m-1-7h0m0 6h0m-5-1h0m-2 0h0m-1-8h0m-7 3h0m-3 11h0m-2-3h0m0 1h0m-2-1h0m-4-11h0m-2 7h0m-4-7h0m-3 7h0m2 21h0m5 2h0m1-3h0m3 0h0m11-7h0m2 9h0m2-3h0m1 3h0m13 10h0m6-2h0m0 0h0m1-7h0m5 4h0m0 4h0m4-10h0m1-6h0m0 7h0m3-1h0m7-4h0m3 3h0m1-2h0m7 5h0m4-2h0m4 5h0m1-10h0m1-2h0m1 4h0m1 5h0m0-9h0m0 0h0m3 5h0m4 11h0m4-8h0m4-3h0m3 7h0m2-12h0m11-1h0m3 15h0m9-2h0m4-13h0m8 5h0m33 3h0m-7 22h0m-9 8h0m-48-12h0m-9 1h0m-17-1h0m-15-6h0m-15 3h0m-2 2h0m-18-2h0m-7 1h0m-1 8h0m-3 2h0m-21-5h0m-6-4h0" fill="none" stroke="#000" stroke-opacity="1.0" stroke-width="8.0" stroke-linecap="square"/>
<rect x="290.50" y="172.60" width="97.70" height="93.20" fill="none" stroke="#111" stroke-width="1.4"/>
<text x="429.98" y="167.80" font-size="9.10" textLength="63.91" lengthAdjust="spacingAndGlyphs" fill="#262626">After Clodronate</text>
<line x1="409.80" y1="265.80" x2="412.80" y2="265.80" stroke="#111" stroke-width="0.9" />
<text x="403.22" y="268.05" font-size="6.45" textLength="3.96" lengthAdjust="spacingAndGlyphs" fill="#262626">0</text>
<line x1="411.20" y1="256.67" x2="412.80" y2="256.67" stroke="#111" stroke-width="0.9" />
<line x1="409.80" y1="247.54" x2="412.80" y2="247.54" stroke="#111" stroke-width="0.9" />
<text x="396.38" y="249.79" font-size="6.45" textLength="10.77" lengthAdjust="spacingAndGlyphs" fill="#262626">200</text>
<line x1="411.20" y1="238.41" x2="412.80" y2="238.41" stroke="#111" stroke-width="0.9" />
<line x1="409.80" y1="229.28" x2="412.80" y2="229.28" stroke="#111" stroke-width="0.9" />
<text x="396.56" y="231.53" font-size="6.45" textLength="10.59" lengthAdjust="spacingAndGlyphs" fill="#262626">400</text>
<line x1="411.20" y1="220.15" x2="412.80" y2="220.15" stroke="#111" stroke-width="0.9" />
<line x1="409.80" y1="211.02" x2="412.80" y2="211.02" stroke="#111" stroke-width="0.9" />
<text x="396.38" y="213.27" font-size="6.45" textLength="10.77" lengthAdjust="spacingAndGlyphs" fill="#262626">600</text>
<line x1="411.20" y1="201.89" x2="412.80" y2="201.89" stroke="#111" stroke-width="0.9" />
<line x1="409.80" y1="192.76" x2="412.80" y2="192.76" stroke="#111" stroke-width="0.9" />
<text x="396.43" y="195.01" font-size="6.45" textLength="10.72" lengthAdjust="spacingAndGlyphs" fill="#262626">800</text>
<line x1="411.20" y1="183.63" x2="412.80" y2="183.63" stroke="#111" stroke-width="0.9" />
<line x1="409.80" y1="174.50" x2="412.80" y2="174.50" stroke="#111" stroke-width="0.9" />
<text x="392.82" y="176.75" font-size="6.45" textLength="14.34" lengthAdjust="spacingAndGlyphs" fill="#262626">1000</text>
<line x1="412.80" y1="265.80" x2="412.80" y2="268.40" stroke="#333" stroke-width="0.55" />
<line x1="420.15" y1="265.80" x2="420.15" y2="267.40" stroke="#333" stroke-width="0.55" />
<line x1="424.45" y1="265.80" x2="424.45" y2="267.40" stroke="#333" stroke-width="0.55" />
<line x1="427.51" y1="265.80" x2="427.51" y2="267.40" stroke="#333" stroke-width="0.55" />
<line x1="429.87" y1="265.80" x2="429.87" y2="267.40" stroke="#333" stroke-width="0.55" />
<line x1="431.81" y1="265.80" x2="431.81" y2="267.40" stroke="#333" stroke-width="0.55" />
<line x1="433.44" y1="265.80" x2="433.44" y2="267.40" stroke="#333" stroke-width="0.55" />
<line x1="434.86" y1="265.80" x2="434.86" y2="267.40" stroke="#333" stroke-width="0.55" />
<line x1="436.11" y1="265.80" x2="436.11" y2="267.40" stroke="#333" stroke-width="0.55" />
<line x1="437.23" y1="265.80" x2="437.23" y2="268.40" stroke="#333" stroke-width="0.55" />
<line x1="444.58" y1="265.80" x2="444.58" y2="267.40" stroke="#333" stroke-width="0.55" />
<line x1="448.88" y1="265.80" x2="448.88" y2="267.40" stroke="#333" stroke-width="0.55" />
<line x1="451.93" y1="265.80" x2="451.93" y2="267.40" stroke="#333" stroke-width="0.55" />
<line x1="454.30" y1="265.80" x2="454.30" y2="267.40" stroke="#333" stroke-width="0.55" />
<line x1="456.23" y1="265.80" x2="456.23" y2="267.40" stroke="#333" stroke-width="0.55" />
<line x1="457.87" y1="265.80" x2="457.87" y2="267.40" stroke="#333" stroke-width="0.55" />
<line x1="459.28" y1="265.80" x2="459.28" y2="267.40" stroke="#333" stroke-width="0.55" />
<line x1="460.53" y1="265.80" x2="460.53" y2="267.40" stroke="#333" stroke-width="0.55" />
<line x1="461.65" y1="265.80" x2="461.65" y2="268.40" stroke="#333" stroke-width="0.55" />
<line x1="469.00" y1="265.80" x2="469.00" y2="267.40" stroke="#333" stroke-width="0.55" />
<line x1="473.30" y1="265.80" x2="473.30" y2="267.40" stroke="#333" stroke-width="0.55" />
<line x1="476.36" y1="265.80" x2="476.36" y2="267.40" stroke="#333" stroke-width="0.55" />
<line x1="478.72" y1="265.80" x2="478.72" y2="267.40" stroke="#333" stroke-width="0.55" />
<line x1="480.66" y1="265.80" x2="480.66" y2="267.40" stroke="#333" stroke-width="0.55" />
<line x1="482.29" y1="265.80" x2="482.29" y2="267.40" stroke="#333" stroke-width="0.55" />
<line x1="483.71" y1="265.80" x2="483.71" y2="267.40" stroke="#333" stroke-width="0.55" />
<line x1="484.96" y1="265.80" x2="484.96" y2="267.40" stroke="#333" stroke-width="0.55" />
<line x1="486.07" y1="265.80" x2="486.07" y2="268.40" stroke="#333" stroke-width="0.55" />
<line x1="493.43" y1="265.80" x2="493.43" y2="267.40" stroke="#333" stroke-width="0.55" />
<line x1="497.73" y1="265.80" x2="497.73" y2="267.40" stroke="#333" stroke-width="0.55" />
<line x1="500.78" y1="265.80" x2="500.78" y2="267.40" stroke="#333" stroke-width="0.55" />
<line x1="503.15" y1="265.80" x2="503.15" y2="267.40" stroke="#333" stroke-width="0.55" />
<line x1="505.08" y1="265.80" x2="505.08" y2="267.40" stroke="#333" stroke-width="0.55" />
<line x1="506.72" y1="265.80" x2="506.72" y2="267.40" stroke="#333" stroke-width="0.55" />
<line x1="508.13" y1="265.80" x2="508.13" y2="267.40" stroke="#333" stroke-width="0.55" />
<line x1="509.38" y1="265.80" x2="509.38" y2="267.40" stroke="#333" stroke-width="0.55" />
<line x1="510.50" y1="265.80" x2="510.50" y2="268.40" stroke="#222" stroke-width="0.6" />
<text x="432.77" y="280.80" font-size="6.59" textLength="6.80" lengthAdjust="spacingAndGlyphs" fill="#262626">10</text>
<text x="439.63" y="277.40" font-size="5.45" textLength="2.68" lengthAdjust="spacingAndGlyphs" fill="#262626">0</text>
<text x="457.19" y="280.80" font-size="6.59" textLength="6.80" lengthAdjust="spacingAndGlyphs" fill="#262626">10</text>
<text x="464.12" y="277.40" font-size="5.53" textLength="1.67" lengthAdjust="spacingAndGlyphs" fill="#262626">1</text>
<text x="481.62" y="280.80" font-size="6.59" textLength="6.80" lengthAdjust="spacingAndGlyphs" fill="#262626">10</text>
<text x="488.42" y="277.40" font-size="5.45" textLength="2.81" lengthAdjust="spacingAndGlyphs" fill="#262626">2</text>
<text x="506.04" y="280.80" font-size="6.59" textLength="6.80" lengthAdjust="spacingAndGlyphs" fill="#262626">10</text>
<text x="512.92" y="277.40" font-size="5.45" textLength="2.69" lengthAdjust="spacingAndGlyphs" fill="#262626">3</text>
<line x1="467.50" y1="172.60" x2="467.50" y2="265.80" stroke="#777" stroke-width="0.9" />
<text x="483.28" y="182.80" font-size="7.03" textLength="14.75" lengthAdjust="spacingAndGlyphs" fill="#333">2.9%</text>
<path transform="scale(.1)" d="M4792 2047h0m-122 28h0m44 24h0m231-4h0m-16 35h0m18-3h0m5 10h0m-13 11h0m-26 10h0m-3-1h0m-103-11h0m-50-4h0m-5 17h0m-96-5h0m-138 16h0m10 8h0m45-13h0m14 1h0m16 7h0m66-7h0m4 2h0m23 2h0m4 7h0m9 2h0m12-12h0m35-7h0m146 14h0m8 4h0m3-4h0m6-9h0m7-3h0m0-1h0m6 13h0m3-4h0m1-9h0m1 13h0m1-1h0m1-4h0m2 8h0m18-9h0m11 23h0m-17 0h0m-11 5h0m-4-1h0m-5-11h0m-13 4h0m-15-6h0m-5-1h0m-6 0h0m-17 12h0m-153 1h0m-13-8h0m-51 13h0m-4-11h0m-28 8h0m0-8h0m-29 7h0m-358-15h0m39 29h0m88 5h0m126-7h0m1 1h0m66 7h0m11-1h0m60 5h0m7-8h0m0-5h0m20 3h0m25-1h0m18 11h0m49-13h0m42 9h0m11-3h0m6 3h0m28-1h0m41-4h0m9-9h0m2 17h0m6-12h0m13 4h0m5-9h0m31 12h0m3-8h0m-5 18h0m0 4h0m-3-5h0m-24 6h0m0-6h0m-2 9h0m-2-9h0m-4 7h0m-23-7h0m-174 1h0m-8 12h0m-3-5h0m-3-2h0m-1-4h0m-5 1h0m-25 9h0m0-4h0m-19 9h0m-2-3h0m-5 1h0m-17-14h0m-9 3h0m-32 10h0m-5-14h0m-11 13h0m0 4h0m-44-6h0m-139-9h0m-72 1h0m-7-1h0m-90 15h0m53 14h0m46-7h0m22 6h0m21 6h0m142-5h0m1-3h0m18 9h0m16 0h0m5-7h0m12 7h0m3-18h0m16 12h0m6-1h0m0 6h0m0 0h0m3-6h0m0 4h0m1 3h0m2-1h0m4 1h0m1 0h0m7-16h0m2 8h0m2-1h0m6-7h0m2-3h0m32 3h0m15 4h0m8 3h0m1 8h0m29-10h0m2 8h0m32-14h0m153 12h0m6 4h0m8-8h0m2 3h0m6-6h0m0 4h0m3-7h0m7 13h0m1-12h0m3 14h0m1-8h0m4 1h0m7-7h0m0-5h0m2 17h0m19-8h0m-11 20h0m-11-1h0m-2-2h0m-3 1h0m-9 0h0m-4-2h0m-2 8h0m-4-12h0m0 14h0m-4-13h0m-3 5h0m-1 10h0m0-8h0m-2-7h0m-3-2h0m0 15h0m-5 2h0m-1-15h0m-3 5h0m-1-4h0m-3 16h0m-4-4h0m-9-2h0m-12-13h0m-8 3h0m-131 9h0m-5-9h0m-4 14h0m-10-1h0m-18-13h0m-7 0h0m-1-2h0m-5 4h0m-2 9h0m-15-6h0m0-6h0m-3 8h0m-1 4h0m-7 5h0m-1-3h0m-8-8h0m-3 8h0m-2-1h0m-7-6h0m-1 10h0m-3-13h0m0 9h0m0 1h0m-2-10h0m0 1h0m-9-1h0m-1-6h0m0 14h0m-11 4h0m-3-18h0m0 2h0m-1 12h0m-4-6h0m-1 6h0m-6 5h0m-2-3h0m-8-15h0m-2 8h0m-1 1h0m-1-8h0m-13 11h0m-5-5h0m0-2h0m0 12h0m-4-13h0m-35 8h0m-24-2h0m-65-6h0m-6 1h0m-10 7h0m-1 3h0m-85-5h0m-85 8h0m-7-16h0m11 27h0m50 4h0m15-4h0m1 1h0m217 3h0m4-14h0m6 10h0m5 6h0m2-4h0m8 7h0m10-5h0m5-12h0m0-1h0m3 15h0m18-10h0m6 4h0m3-3h0m13 1h0m1-6h0m13 5h0m2 10h0m6 1h0m11-16h0m17 7h0m8 3h0m2 7h0m1-12h0m13-2h0m6 4h0m25-9h0m24 1h0m21 0h0m73 17h0m37-10h0m2 5h0m2-2h0m3 3h0m7 4h0m1-18h0m2 6h0m3 11h0m1-11h0m2 0h0m1 2h0m0-3h0m0-3h0m3 17h0m3-3h0m2-9h0m2 7h0m2 1h0m5-6h0m2 9h0m3-7h0m1-4h0m2 1h0m0 4h0m1-11h0m4 10h0m12-7h0m2-4h0m4 12h0m4-6h0m3-2h0m6 13h0m0 2h0m-7 2h0m-6 3h0m-7 14h0m-10-7h0m-4-11h0m-1 11h0m-8 3h0m-1-4h0m-1-9h0m0 9h0m0 6h0m-3-10h0m-6 13h0m-2-1h0m-9-14h0m-1 10h0m-1 3h0m-1 1h0m-1-4h0m-1 4h0m-5-2h0m-2-10h0m-17 2h0m-6 9h0m-93-14h0m-49 4h0m-8-6h0m-2 0h0m-14 2h0m-1 4h0m-21 4h0m-4-9h0m-3 1h0m-5-3h0m-1 7h0m-1 5h0m-1-9h0m-3 7h0m-12 0h0m-2-9h0m-2 4h0m-1 8h0m-10-5h0m-1-4h0m-5 5h0m-7-6h0m-1 15h0m-8-13h0m-1 0h0m-1 6h0m-5-6h0m-3 12h0m-11-16h0m-4 3h0m-1 4h0m-7-1h0m-2-2h0m-17 11h0m0-9h0m-3 12h0m-16-9h0m-8 3h0m-5 4h0m-18 2h0m-1-8h0m-9 0h0m-20 3h0m-4-9h0m-36 2h0m-16 8h0m-14 0h0m-31 4h0m-2-1h0m-22-10h0m-3 6h0m-25-5h0m0-3h0m-48 7h0m-6-4h0m-63 2h0m5 15h0m57 10h0m2-5h0m20-5h0m2-5h0m15-1h0m12 6h0m3-6h0m13 6h0m14 2h0m58 5h0m5-7h0m3 13h0m2-2h0m51-16h0m13 2h0m5 6h0m0-7h0m3 0h0m15 7h0m6 10h0m15-5h0m5 1h0m1 3h0m2 1h0m0-5h0m1-12h0m7 5h0m1 9h0m2-9h0m0-2h0m4-2h0m3 11h0m1-11h0m0 9h0m1-2h0m0-3h0m2 10h0m1-16h0m1 1h0m2 14h0m14-13h0m2 13h0m1-12h0m5 15h0m0-11h0m1-5h0m2 10h0m2-3h0m0 4h0m8 4h0m2-14h0m0 10h0m0 0h0m1-13h0m2 5h0m6 10h0m1-6h0m0 2h0m2-5h0m2 6h0m5-4h0m4 8h0m3-6h0m1-3h0m3 3h0m0 5h0m2 3h0m7-3h0m4-15h0m9 7h0m3-7h0m6 1h0m7 3h0m9-1h0m63 7h0m11-5h0m101 8h0m9-7h0m2-1h0m15-6h0m9 11h0m3 1h0m8-12h0m2 0h0m5 7h0m6 5h0m1-5h0m1 9h0m3-12h0m6-3h0m1 2h0m8 9h0m5 7h0m8-16h0m12 1h0m2 0h0m7 19h0m-14-1h0m-4-1h0m-7-1h0m-8 12h0m-6-12h0m-6 0h0m-4 5h0m-3 14h0m-1-6h0m-2-7h0m-1 1h0m-3 12h0m-4-4h0m-3 3h0m-6-7h0m-5 8h0m-8-16h0m-74 10h0m-31-2h0m-76-5h0m-16 4h0m-13 0h0m-8-3h0m0 2h0m-3 7h0m0-9h0m-2 10h0m-1-5h0m-1 4h0m-5-10h0m0 5h0m-2 1h0m-3-7h0m0 7h0m-1-3h0m-2-6h0m-1 2h0m-2 14h0m-1-14h0m-3 4h0m-14 0h0m-1 9h0m-2 1h0m-9-13h0m-5 4h0m-3 0h0m-2 4h0m0-9h0m-1 5h0m-4 8h0m-1-6h0m-5-2h0m-2 0h0m-7-10h0m-1 0h0m0 0h0m-9 14h0m-3 1h0m-8-4h0m-1-11h0m-2 13h0m-4-12h0m0 9h0m-5 5h0m-1 3h0m0-15h0m-1 1h0m-8 8h0m-5 6h0m-3-11h0m-7-5h0m-2 7h0m0 10h0m-1-12h0m0-6h0m-6 13h0m-3 3h0m0-8h0m-7 3h0m-1 7h0m-5-10h0m-21-6h0m-6 12h0m-8-13h0m-5 3h0m-3 5h0m-1-6h0m-7 3h0m-5-7h0m-9 7h0m-17 7h0m-17-11h0m-4-2h0m-6 14h0m-8 0h0m-4-9h0m-20-4h0m-94 15h0m-18-16h0m-32 4h0m-16 4h0m-20-4h0m-11 15h0m36 8h0m47-6h0m14 17h0m15-14h0m25 9h0m8 2h0m17-8h0m4 3h0m10 6h0m6-9h0m19-1h0m34 8h0m0-2h0m6 4h0m9-14h0m5 9h0m3-2h0m6 4h0m12-3h0m10 5h0m6 1h0m0-10h0m14 7h0m2-3h0m2-10h0m0 0h0m1 14h0m4 0h0m4-14h0m8 9h0m10 3h0m0-7h0m1-1h0m0 11h0m10-9h0m7 7h0m3 4h0m2-1h0m0-13h0m5 11h0m5-9h0m9 9h0m0-10h0m8-1h0m1 3h0m0-3h0m4 4h0m6 10h0m0-11h0m5 2h0m1 0h0m4 4h0m1-10h0m0 13h0m5-6h0m0-3h0m2 9h0m5-12h0m9 10h0m1-2h0m0 2h0m2 0h0m2-13h0m2 18h0m0-11h0m1-2h0m8 6h0m22 7h0m9-14h0m2 11h0m0-10h0m5-5h0m17 15h0m5 0h0m13 1h0m1-4h0m61 5h0m36-7h0m28-11h0m21 3h0m28 2h0m12 13h0m10-9h0m10-4h0m1 2h0m2 5h0m1-5h0m4-3h0m4 15h0m0-9h0m6-2h0m2 0h0m29 16h0m-36-4h0m-11 12h0m-10-11h0m-5 4h0m-3 8h0m-1 4h0m-8-17h0m-2 6h0m-45 10h0m-33-14h0m-96 2h0m0 9h0m-9-4h0m-25 5h0m-12-5h0m-5-3h0m-10 3h0m-7 10h0m-3-8h0m-1-10h0m-1 7h0m0 2h0m-2 1h0m-3-6h0m-16 0h0m-4-1h0m-4 11h0m-1-14h0m-5 13h0m0-10h0m0 5h0m0-6h0m-2 14h0m-7-4h0m-1-3h0m-2-2h0m-3 2h0m0-4h0m0-5h0m-1 1h0m-4 15h0m0 1h0m-1-7h0m-2 2h0m0-6h0m0 4h0m-5-9h0m-2 13h0m0-12h0m-4 7h0m0 4h0m-4-13h0m-2 18h0m-2-8h0m-1-4h0m-2 1h0m-2 5h0m-3-2h0m-10-10h0m0 7h0m-2-6h0m-3 17h0m-6-2h0m-2-8h0m0 1h0m-1 4h0m-1-9h0m-1-4h0m-1 1h0m-1 6h0m0 2h0m-1-2h0m-1 6h0m0-10h0m-1 10h0m-2-3h0m-3 4h0m0-1h0m-1-3h0m-2-4h0m0 0h0m-6-7h0m-7 10h0m-1 0h0m-2-10h0m-3 3h0m-3 3h0m-2-3h0m-10 10h0m-8 5h0m-1-12h0m-2-1h0m-3 12h0m-2 2h0m-3-14h0m-3-2h0m-4-3h0m-22 18h0m-9-8h0m-2 7h0m-11-9h0m-31-5h0m-36 9h0m-7 2h0m-17-10h0m-30-4h0m-5 19h0m-25-5h0m-12-13h0m-31 7h0m-1 7h0m-8-9h0m-20 24h0m14-3h0m43 7h0m13 2h0m21-6h0m7 5h0m4-13h0m20 12h0m1-14h0m28 1h0m5 0h0m4 5h0m15 9h0m13-3h0m8-4h0m21-6h0m2 9h0m7-4h0m2 2h0m16-1h0m3-3h0m0 5h0m8-7h0m7 3h0m8 11h0m2 0h0m1-2h0m6-11h0m6 14h0m0-5h0m1-2h0m10-9h0m2-1h0m1 1h0m2 12h0m2-9h0m1-3h0m1 14h0m7-9h0m0 7h0m1-11h0m0 8h0m1-2h0m2 9h0m2-3h0m4-13h0m5 3h0m2 8h0m4-11h0m3 2h0m0-1h0m1 6h0m1-2h0m2 3h0m2 2h0m1 6h0m2-8h0m2-4h0m0 12h0m1-11h0m1-5h0m1 15h0m1-10h0m2-3h0m2 9h0m4-2h0m4 2h0m0 1h0m1-7h0m1-7h0m1 16h0m7 3h0m1-4h0m1-4h0m0 6h0m1-1h0m3-14h0m1 8h0m3 4h0m1 4h0m4-14h0m1 11h0m1-9h0m2 1h0m3 7h0m1 2h0m1 0h0m2-5h0m5 1h0m1-3h0m1 7h0m4-4h0m1-2h0m4 7h0m4-14h0m3-2h0m1 10h0m4 7h0m6-4h0m1-2h0m3-9h0m1 0h0m1 8h0m8-3h0m0-4h0m3 4h0m2 9h0m6-7h0m3 5h0m0-5h0m4-5h0m12 6h0m13 8h0m89-8h0m15 7h0m89-12h0m8 2h0m0 0h0m5 6h0m9-11h0m10 7h0m3-5h0m5-2h0m1 8h0m2-9h0m16 2h0m13 4h0m-37 21h0m-8-2h0m-3 10h0m-4-12h0m0-2h0m-13 7h0m-185 0h0m-26-6h0m-22 12h0m-2-4h0m-1 0h0m-7-7h0m-1-4h0m0 7h0m-1-8h0m-7 12h0m-8-10h0m-8 16h0m-1-5h0m-4-4h0m-1 1h0m0-6h0m-12-1h0m-3 6h0m-1-5h0m-1 11h0m-1-8h0m-1-3h0m0 7h0m-3-8h0m0-2h0m-1 4h0m-2 1h0m-1-2h0m-5 2h0m-5 13h0m-7-18h0m-3 9h0m-1-3h0m-1 8h0m-2-8h0m-1 5h0m-3-3h0m0 4h0m-2-1h0m-3-8h0m-1 4h0m-3-4h0m-2 12h0m-3-9h0m-2 11h0m-4-11h0m-3 10h0m-3-11h0m0 11h0m-2-12h0m-3 11h0m-2-16h0m0 18h0m-1-5h0m-2-9h0m-6 12h0m-4-13h0m-10 6h0m-2 8h0m-1-17h0m0 3h0m-3 7h0m-1 4h0m0 2h0m-1 2h0m-1 1h0m0-1h0m0 0h0m-3 0h0m-3-15h0m-2 12h0m-2-7h0m-2 2h0m-2 0h0m-2 7h0m-2-5h0m-3-1h0m-2-5h0m-3 7h0m-1-6h0m-2 1h0m-3 8h0m-3 1h0m-1-7h0m0-8h0m-1-1h0m-3 15h0m-4-6h0m-8 1h0m-1 1h0m-3-10h0m-1 6h0m-4 0h0m-25 9h0m-4-4h0m-2 2h0m-6-11h0m-8-3h0m-2 16h0m-2-7h0m-3-5h0m-3 6h0m-6 4h0m-62-8h0m-9 12h0m-2-2h0m-4 0h0m-18-11h0m-12-4h0m-33 9h0m-6-2h0m-18 16h0m8-5h0m7 1h0m1-1h0m3 18h0m4-4h0m10 0h0m7 4h0m3-11h0m7-7h0m2 15h0m14-7h0m1-5h0m2 8h0m2 3h0m18-13h0m12 13h0m1-12h0m4-2h0m7 7h0m3-2h0m1 13h0m5-1h0m7 0h0m3-3h0m4-2h0m7-4h0m4 1h0m2 10h0m8-18h0m21 5h0m7 12h0m2-14h0m1 14h0m0-15h0m2 6h0m8-3h0m0 12h0m6-14h0m4 14h0m0 0h0m2-9h0m1 5h0m1-4h0m5 7h0m1-10h0m0-7h0m3 11h0m2 8h0m3-5h0m1-2h0m0 3h0m4 0h0m4-3h0m1-3h0m1 8h0m0-3h0m7 0h0m0 2h0m2-12h0m3-2h0m1 16h0m2-1h0m0-13h0m1 4h0m4 1h0m2 6h0m9-13h0m2 1h0m5 8h0m1-1h0m1-9h0m1 6h0m2 10h0m4-14h0m1 7h0m1 2h0m1 4h0m3-3h0m2-12h0m2 18h0m5-17h0m0 12h0m2-8h0m1-5h0m3 11h0m0-6h0m5 8h0m3-7h0m0 11h0m0-14h0m2 11h0m0-4h0m1-6h0m0 0h0m0-4h0m1 6h0m2-1h0m0 5h0m0-1h0m1 5h0m4-9h0m2 4h0m1-9h0m0 8h0m1 4h0m0-3h0m1 8h0m0-7h0m0-8h0m6-2h0m4 15h0m0-4h0m1-9h0m2 7h0m0-10h0m0 0h0m2 18h0m1-5h0m6-10h0m3 12h0m1-2h0m1-1h0m0 7h0m3 0h0m4-3h0m0 0h0m0-9h0m0-5h0m1 5h0m1-1h0m3-4h0m2 14h0m5-10h0m2 0h0m0-2h0m2 1h0m6 2h0m3 5h0m0-1h0m5-8h0m7 10h0m9-3h0m1 3h0m5 3h0m5-10h0m1-4h0m3 6h0m2-3h0m3 4h0m3 8h0m5-15h0m4 11h0m5 0h0m0 2h0m3 2h0m199-12h0m24-3h0m8 10h0m-38 26h0m-158-16h0m-49 2h0m-2 1h0m-5 4h0m0-5h0m-5 13h0m-7-10h0m-7-7h0m-1 1h0m-13 13h0m-3-11h0m-3-1h0m-3 6h0m-4 9h0m-10-15h0m-2 0h0m0 9h0m-1-10h0m-4 1h0m0-2h0m-2 7h0m-2 2h0m0 6h0m-3-7h0m-2 4h0m-4 2h0m0 1h0m-1 1h0m0-8h0m-7-8h0m0 3h0m0 13h0m0-7h0m-2-1h0m0-2h0m-1 1h0m-1 3h0m-1-9h0m-2 9h0m-1-9h0m-4-1h0m0 12h0m-3-12h0m-2 0h0m0 11h0m0-4h0m-3 1h0m0 4h0m-1 0h0m-2-1h0m-2-9h0m-2-2h0m-1 17h0m0-9h0m-2-1h0m-2 9h0m-1-15h0m-2 1h0m-2 4h0m-1 2h0m-4 2h0m0 4h0m0-12h0m-1-1h0m0 9h0m0-8h0m-1 3h0m-2-5h0m0 9h0m0-3h0m-1 0h0m0-4h0m-2 10h0m0-1h0m0-10h0m0 14h0m-3 3h0m0 1h0m-2-10h0m0 6h0m-2-2h0m-4-9h0m-2 6h0m0 9h0m0-2h0m-1-12h0m-2 11h0m-3-6h0m-1 1h0m-3-10h0m-1 17h0m-1-17h0m-2 5h0m0 2h0m0-8h0m-1 17h0m-3-13h0m0 10h0m-1 0h0m-2-12h0m0 7h0m-2 4h0m0 4h0m-7-14h0m-4 10h0m-1-4h0m-4-8h0m0 11h0m-1-3h0m-6 10h0m-3-3h0m-1-1h0m-6-5h0m-1 9h0m-1-4h0m-5-12h0m-5 9h0m-1-10h0m0 0h0m-3 10h0m-3-12h0m-1 0h0m-4 2h0m-7 8h0m-2-4h0m-1 1h0m-5-3h0m-8 0h0m0 3h0m-7 7h0m-4 2h0m-1-9h0m-1-2h0m-1 11h0m0 2h0m-4 0h0m-4-8h0m-2 0h0m-1 9h0m-1-9h0m-4 3h0m-6-13h0m-10 8h0m-2-1h0m-3 2h0m0 6h0m-1-6h0m-3 10h0m-1-3h0m-4-7h0m-1-3h0m-2 10h0m-15-5h0m-2 7h0m0-3h0m-3-8h0m-6 11h0m-4-13h0m-2 5h0m-5 2h0m-7-4h0m-1 2h0m-1 9h0m-8-15h0m-2 11h0m-6-8h0m-3 0h0m-10 1h0m-9 3h0m-1-9h0m-2 16h0m-10-7h0m-1-3h0m-16 4h0m-5-7h0m19 34h0m4-10h0m7 1h0m0 5h0m11-7h0m12 1h0m4 5h0m1-2h0m3 4h0m2-9h0m0-3h0m1 10h0m1-5h0m1-7h0m1 2h0m2 11h0m0-10h0m2 3h0m3 5h0m2 0h0m0-2h0m6-2h0m5 1h0m8-6h0m6-4h0m1 15h0m1-8h0m3 0h0m1-4h0m2 7h0m1 5h0m6 1h0m2 3h0m1-3h0m0-13h0m1 15h0m2-2h0m3-16h0m0 0h0m5 17h0m0-1h0m7-10h0m0 11h0m2-10h0m3 4h0m4 5h0m3-10h0m1 7h0m6-2h0m5 7h0m2-7h0m5 2h0m1-5h0m0-6h0m3 3h0m0 4h0m2 3h0m2-4h0m10-2h0m1-3h0m0 0h0m1 0h0m2 10h0m1-5h0m1 5h0m1 3h0m5-10h0m0-6h0m6 10h0m0 4h0m5-2h0m2-5h0m2 5h0m0-10h0m3 4h0m1 0h0m5 1h0m2 8h0m1-5h0m4-9h0m1 6h0m2-4h0m6 8h0m2-11h0m2 13h0m2-5h0m0 2h0m2-1h0m6 5h0m1 4h0m1-3h0m2 3h0m1 1h0m0-10h0m2-3h0m1 13h0m2-1h0m4-8h0m1 3h0m4 6h0m0-2h0m0 1h0m1-11h0m0 10h0m2 0h0m1-9h0m2 11h0m4-3h0m2-11h0m1 5h0m2 6h0m2-1h0m0-15h0m3 6h0m1-3h0m3 8h0m0-3h0m1-7h0m0 13h0m1 5h0m0-11h0m1 0h0m1 10h0m3-1h0m1-17h0m0 14h0m0-8h0m1 6h0m4-5h0m3-5h0m1-1h0m1 0h0m1 16h0m0-4h0m1-3h0m0-4h0m3-1h0m3-3h0m0 4h0m1 0h0m0 5h0m2-11h0m1 1h0m2 5h0m1 9h0m1-7h0m0 10h0m0-2h0m0-2h0m1-8h0m1-5h0m3 6h0m4-1h0m1 11h0m2-9h0m0 1h0m1 4h0m1-12h0m3 10h0m4-10h0m1 10h0m0-8h0m0 5h0m1 9h0m3-2h0m0-2h0m4-2h0m1-5h0m1 12h0m1-16h0m1 13h0m1 4h0m6-14h0m4 10h0m1-13h0m1-1h0m4 4h0m3-5h0m4 5h0m3-5h0m8 6h0m1 7h0m9-12h0m20 7h0m10 0h0m6 0h0m127-8h0m120 38h0m-27-7h0m-236-1h0m-5 6h0m-3-14h0m-40 12h0m-3-8h0m-3-2h0m-2-2h0m-2 11h0m-2 3h0m-5-6h0m-1 7h0m-2 2h0m-1-17h0m-7-2h0m-1 3h0m-3 0h0m-3 10h0m-2-9h0m-7 5h0m-1 2h0m-1 6h0m-2 1h0m-1-17h0m-10 10h0m0-10h0m0 8h0m-5-6h0m-2 6h0m0 9h0m-1-10h0m0 1h0m0-3h0m-2 4h0m-6-10h0m0 12h0m-2-3h0m-1 9h0m-3-6h0m-1 1h0m-1 5h0m-3-2h0m0-13h0m-1 5h0m0 3h0m-3-3h0m0 2h0m-5 7h0m-2 1h0m-2-18h0m-4 9h0m-2 8h0m-1-3h0m-3-7h0m-3 4h0m-1 6h0m0-1h0m-2-4h0m-2-12h0m-2 17h0m-2-2h0m0-12h0m-1 9h0m-1-2h0m0-8h0m-1 15h0m0-14h0m-2 5h0m-1 6h0m0-7h0m-1 11h0m-2-8h0m-1 4h0m-1-2h0m0-6h0m0 4h0m-2 9h0m0-10h0m0 10h0m-1-13h0m-1 3h0m-2-6h0m-1 13h0m-5-14h0m-1 1h0m-1 11h0m-2 3h0m-5-7h0m0 8h0m-1-14h0m0 5h0m-3-5h0m0 0h0m-3 12h0m-1-3h0m-1-7h0m-2 8h0m-2 0h0m-5 4h0m-2-18h0m-1 7h0m-1 7h0m-1-7h0m-1 11h0m-2-8h0m0 1h0m-1-2h0m-3 4h0m-4-3h0m-8 1h0m-3-9h0m-7 17h0m-5-14h0m-11 13h0m-6-8h0m0 2h0m-1-4h0m-3-8h0m-2 0h0m-2 0h0m0 12h0m-5-6h0m0 11h0m-2 2h0m0-16h0m-2 4h0m-1-7h0m-1 13h0m-2-8h0m-1-3h0m-8 9h0m-1-6h0m-3-4h0m0 3h0m-1 2h0m-1 1h0m-2 4h0m0-8h0m0 0h0m-1 9h0m-2-9h0m-3 5h0m-1 0h0m-1-8h0m0 2h0m0 8h0m-7-3h0m-2-7h0m-3 7h0m-5-7h0m-2 16h0m-1-14h0m-1 13h0m0 0h0m-2-10h0m0 10h0m-2-5h0m-3 8h0m-6-7h0m0-5h0m-1 13h0m0-9h0m-1-1h0m-1-8h0m-4 0h0m-1 12h0m-1-1h0m-1 6h0m-1-9h0m-4-1h0m0 3h0m-2 6h0m-2-13h0m-6 2h0m-19 10h0m-3-6h0m-2-7h0m-5 1h0m0 3h0m-2 12h0m-4-3h0m-4 0h0m-2-15h0m-13 19h0m31 10h0m1-3h0m14 3h0m9-5h0m6 3h0m2 5h0m6-1h0m1-7h0m18 5h0m4-7h0m1-2h0m3 7h0m3 6h0m6-12h0m2 15h0m2-16h0m1 5h0m1 9h0m1-6h0m10 1h0m31 8h0m2-4h0m2-6h0m3 5h0m6 3h0m2-6h0m0 3h0m1-4h0m1 6h0m9-13h0m6 13h0m1-12h0m2-3h0m3 3h0m3-1h0m3 10h0m2-12h0m3 10h0m2 2h0m1-5h0m4-4h0m0 12h0m6 0h0m28 1h0m0-6h0m2-5h0m3 6h0m6-10h0m0 0h0m2 15h0m0-8h0m2-8h0m7 11h0m1-7h0m3-4h0m1 6h0m5 9h0m1-11h0m5-3h0m1 11h0m0-12h0m2 11h0m1 4h0m0-4h0m2 6h0m1-10h0m0 1h0m4 1h0m2 5h0m2 1h0m0-14h0m3 16h0m0-6h0m2-10h0m1 6h0m3 6h0m0-4h0m0-1h0m1-7h0m2 8h0m1-7h0m0 5h0m1 12h0m2-19h0m4 17h0m0-5h0m2-10h0m1 15h0m6-15h0m2 7h0m0 4h0m2-10h0m2 4h0m0-6h0m7 10h0m3 7h0m4-17h0m1 0h0m5 3h0m1 15h0m2-1h0m3-4h0m0-14h0m11 15h0m1 3h0m6-17h0m8 0h0m18 1h0m70 5h0m138 2h0m18 23h0m-20 4h0m-255-10h0m-6 5h0m-7 1h0m-5-2h0m-16 7h0m0-4h0m-17-3h0m-2 5h0m-1 1h0m-3-2h0m-2 5h0m-3-10h0m-2 4h0m-1-8h0m-2-1h0m-7 8h0m-5-4h0m-1-7h0m0 4h0m-2 8h0m-5-2h0m-1-11h0m-1 8h0m-4 9h0m0-10h0m0 0h0m-1 1h0m-8-3h0m-5 10h0m-1-3h0m-11-10h0m-5 9h0m-6-2h0m-6-9h0m-2 8h0m0-1h0m-1 8h0m-3-2h0m-2-4h0m0 0h0m-1 10h0m-2-17h0m-1 2h0m-1 3h0m-6-7h0m0 0h0m-4 6h0m-4 11h0m-2-7h0m-5-7h0m-3 0h0m-4 16h0m-1-7h0m-4-4h0m-3-5h0m-2 7h0m-5-2h0m-12-3h0m-3 7h0m-2-9h0m0 13h0m-7 3h0m-6-17h0m-1 16h0m-1-12h0m-5-2h0m-3 5h0m-1 0h0m-5 8h0m-4 1h0m-1-13h0m-2 12h0m-8 0h0m0 2h0m-5-19h0m-1 1h0m-3 16h0m-1-13h0m-4 6h0m-1-1h0m0-9h0m-3 9h0m-6 6h0m-1-2h0m-5-6h0m0-6h0m-4-1h0m-10 2h0m-2 8h0m-3-3h0m-1 1h0m-6-3h0m-5 11h0m-40 13h0m10-1h0m32-6h0m1 6h0m1 6h0m11 0h0m12-14h0m14 7h0m15 7h0m0-10h0m18-3h0m3 5h0m7-5h0m9 13h0m1-4h0m11 8h0m11-16h0m5 0h0m19 13h0m1-6h0m5-1h0m10-2h0m3-6h0m2 6h0m10 7h0m1 6h0m2-14h0m8-3h0m5 5h0m4 7h0m6-3h0m2-11h0m1 9h0m9-2h0m1-7h0m4 4h0m3-2h0m0 5h0m5-3h0m5-2h0m3 8h0m1 7h0m2-16h0m3 1h0m3 14h0m5 3h0m1-18h0m3 18h0m1-2h0m8-16h0m18 4h0m5 7h0m3-10h0m9 1h0m4 4h0m5 8h0m60-13h0m192 3h0m-204 28h0m-41-5h0m-5-4h0m-13 7h0m-9-6h0m-15-2h0m-4-2h0m-4 10h0m0-3h0m-1 7h0m-19-11h0m-2 9h0m0-1h0m-3 6h0m-1-3h0m-6-9h0m-5 4h0m-2 4h0m-3-2h0m-1-8h0m-13 15h0m-21-19h0m0 13h0m-1-5h0m0 0h0m-5 10h0m-6-15h0m-6-1h0m-1 12h0m-2-8h0m-8-2h0m-2 14h0m-14-14h0m-4 10h0m-3-2h0m-2-8h0m-7 5h0m-18 4h0m-7-7h0m0-4h0m-19 6h0m-16-6h0m-13 6h0m-18-7h0m-69 6h0m-1 4h0m259 11h0m6-2h0" fill="none" stroke="#000" stroke-opacity="0.5" stroke-width="6.0" stroke-linecap="square"/>
<path transform="scale(.1)" d="M4249 2405h0m173 24h0m-72-6h0m-6 10h0m-1-10h0m-10 0h0m-18 3h0m-41-1h0m-46-2h0m-17 15h0m-12 0h0m-62 12h0m29 5h0m2-12h0m14 11h0m8 2h0m6-7h0m2 3h0m9-11h0m7 17h0m5-9h0m8 9h0m9 1h0m9-3h0m1-2h0m3 2h0m4-13h0m6 14h0m2-13h0m2 15h0m12-13h0m7 10h0m0 0h0m1-5h0m1-11h0m1 17h0m5 2h0m18-13h0m2 7h0m0 0h0m0-4h0m1 10h0m6-1h0m3-10h0m3 2h0m9 9h0m12 0h0m14-6h0m0 5h0m5-16h0m2 7h0m3 1h0m2 6h0m4-5h0m12 3h0m39 4h0m6-5h0m-3 8h0m-18 0h0m-42 18h0m-2-15h0m-2 6h0m-1-1h0m-5 9h0m0-9h0m-6 1h0m-1 1h0m-2 1h0m-3-4h0m0 2h0m-15-7h0m-1 12h0m-3 4h0m0-3h0m-1-3h0m-1-1h0m0-3h0m-2 8h0m0-4h0m-1-5h0m-1 4h0m0-11h0m-5 15h0m-2-3h0m0 2h0m-1-8h0m-4 10h0m0-2h0m-1-3h0m0-4h0m-1 5h0m-1 6h0m-1-1h0m-1-10h0m-3 11h0m-2-1h0m-1-12h0m-1 12h0m-4-18h0m0 1h0m0 12h0m-2 1h0m0 1h0m-3 4h0m-1-3h0m-2-7h0m-1 0h0m0 10h0m-2-3h0m0-4h0m-1 5h0m-1-4h0m-1-11h0m0 8h0m-6-10h0m-1 17h0m-1-1h0m0-14h0m-2 14h0m-1 1h0m-1-4h0m0-4h0m-1-6h0m0 11h0m0-12h0m-2 11h0m0 6h0m0-10h0m-2 5h0m-2-12h0m0 9h0m-1 0h0m-1 0h0m0 7h0m-1 0h0m-2-10h0m-5 1h0m-1 9h0m0-1h0m-2-17h0m-1 13h0m0 4h0m-2-9h0m-2 5h0m0 3h0m-1-5h0m0 3h0m-1-3h0m0 8h0m-2-10h0m-1 9h0m0-10h0m-2-5h0m-2 11h0m0-9h0m-2 13h0m-1-4h0m-2-1h0m-1 6h0m0-4h0m0-11h0m-1 15h0m0-6h0m0 3h0m-1 1h0m-2 1h0m-1-14h0m-1 1h0m-2 14h0m-1-13h0m-2 5h0m-1-1h0m0 3h0m0-6h0m-1 9h0m0-10h0m-1 9h0m-1-14h0m-2 7h0m-1 2h0m-2 6h0m0-11h0m-4 7h0m-1-1h0m0-6h0m0 7h0m-3 6h0m-1 0h0m0-3h0m-4-11h0m-5 11h0m-1 1h0m0-2h0m-4 3h0m-2-12h0m-2 13h0m0-5h0m-1 5h0m0 1h0m-5-3h0m-3 1h0m-1 2h0m-1-14h0m-5-1h0m-2 12h0m-4-2h0m-5-14h0m-6 8h0m-1-8h0m-2 16h0m-8-8h0m0 23h0m1 4h0m1 3h0m1-10h0m4 5h0m1 6h0m2-14h0m0 13h0m5 0h0m2-10h0m3 5h0m1 5h0m2-11h0m0 10h0m2-13h0m0 11h0m3-2h0m1-8h0m2-1h0m0 12h0m1-14h0m1 5h0m3 8h0m0-1h0m2-10h0m0 12h0m3-8h0m0 9h0m1-6h0m1 1h0m1 6h0m1-1h0m1-8h0m2-6h0m1 8h0m1-8h0m0 14h0m1-12h0m1 3h0m0 5h0m1 5h0m0-4h0m2-7h0m1-1h0m0 2h0m0-5h0m0 8h0m1 1h0m1-9h0m2-1h0m1 4h0m1 7h0m0-3h0m2 4h0m1-1h0m0 5h0m1-17h0m0 3h0m0 11h0m2-7h0m1-4h0m0-1h0m2 7h0m1 7h0m0-12h0m1-3h0m1 6h0m0 8h0m1-11h0m0 14h0m1-9h0m0-10h0m0 15h0m0-9h0m2-1h0m1 7h0m0-8h0m0 15h0m1-13h0m0 5h0m1-8h0m0 9h0m0 7h0m1-18h0m0 15h0m0-12h0m1 0h0m1 14h0m1-1h0m1 1h0m1 1h0m0-14h0m0-3h0m2 11h0m2-4h0m0 8h0m0-3h0m0-14h0m1 17h0m0-10h0m1 7h0m0 1h0m0-1h0m0-14h0m1 17h0m0-14h0m0 12h0m3-4h0m1 8h0m0 0h0m1-13h0m0 11h0m0-7h0m0-3h0m0-5h0m0 17h0m1-14h0m0 10h0m0 4h0m1-2h0m0 2h0m1-4h0m0-9h0m0 10h0m0-13h0m0 16h0m1-10h0m0-7h0m1 0h0m0 6h0m0-6h0m0 17h0m1-10h0m1-4h0m1 0h0m1-3h0m0 0h0m0 10h0m0 7h0m1-11h0m0-6h0m0 9h0m1 4h0m1-2h0m0 2h0m0-13h0m1-2h0m0 14h0m0-14h0m0 17h0m1-1h0m1 3h0m1-3h0m0-6h0m0 5h0m1-2h0m1-4h0m0 7h0m0-6h0m0 2h0m1-1h0m0-4h0m1 6h0m0-2h0m1-10h0m0 13h0m0 3h0m0-6h0m1 8h0m1-4h0m0 4h0m0-13h0m0 10h0m0 0h0m2-2h0m0-6h0m2 11h0m0-18h0m1 13h0m0-13h0m0 1h0m0 1h0m0 8h0m1-1h0m0 1h0m1-1h0m0-4h0m0 13h0m0-1h0m0-6h0m0-8h0m0-3h0m1 9h0m0 2h0m1 5h0m0-12h0m0 6h0m0 0h0m2-6h0m0 11h0m1-9h0m0-2h0m0 1h0m0 5h0m1 1h0m0-1h0m0-10h0m1 2h0m0 10h0m2-7h0m0-5h0m0 17h0m0-5h0m1 3h0m0-3h0m1-7h0m0 5h0m0-2h0m0-5h0m2 13h0m0-13h0m1 4h0m0 5h0m1 3h0m0-16h0m0 9h0m0-5h0m0 0h0m1 4h0m0 7h0m1-5h0m0 5h0m1-3h0m1-2h0m0 9h0m0-3h0m0-3h0m1-6h0m0-1h0m0 9h0m1-13h0m0 9h0m2 5h0m0-6h0m1 3h0m0-7h0m1 10h0m0 1h0m1-9h0m0 8h0m1-5h0m0 4h0m1 0h0m0-3h0m0 7h0m1 0h0m0-14h0m1-4h0m1 7h0m1 0h0m1-1h0m0 0h0m1 10h0m1-6h0m0 4h0m0 2h0m1 0h0m1-1h0m0-13h0m2 13h0m0-5h0m0-9h0m1 4h0m0 9h0m1-4h0m0-3h0m1 6h0m0-8h0m0 12h0m0-12h0m0 7h0m0 1h0m1 0h0m1-4h0m0-5h0m1-2h0m0 7h0m1-9h0m0 18h0m0-12h0m0-7h0m0 18h0m1-3h0m2-15h0m0 7h0m0 0h0m0 11h0m3 0h0m1 0h0m0 0h0m0-1h0m2-4h0m1 5h0m1-10h0m0 5h0m1 4h0m0-9h0m0 9h0m0-1h0m1 2h0m2-10h0m1 11h0m0-11h0m1 11h0m1-15h0m0 13h0m1-12h0m0 6h0m1-1h0m0 5h0m0 3h0m1-3h0m2-12h0m1 16h0m1-9h0m1-6h0m2 1h0m0 10h0m3 2h0m1-3h0m1-8h0m1 0h0m0-5h0m0 0h0m2 15h0m0-2h0m1-14h0m2 19h0m1-12h0m0 12h0m3-12h0m3-5h0m0 15h0m1-3h0m1-5h0m1 7h0m0 1h0m2-2h0m1 3h0m2-7h0m3-5h0m2 4h0m0 3h0m1-11h0m0 15h0m3-11h0m1 13h0m0-2h0m1-10h0m1 4h0m2 1h0m2 4h0m5-4h0m2-9h0m3 2h0m7 6h0m5-1h0m19-10h0m2 17h0m15 8h0m-17-5h0m-6 16h0m-16-10h0m-10 4h0m-1-3h0m-10 1h0m-1-4h0m0 13h0m-8-8h0m-4-6h0m-1 8h0m0-5h0m0 3h0m-4 5h0m-2-5h0m-1 10h0m0-2h0m0 2h0m-2-3h0m-2-3h0m0 3h0m-2-10h0m-1 11h0m0-12h0m-3 3h0m-2-1h0m0 0h0m0 12h0m-2-8h0m-1-10h0m-1 18h0m0-16h0m0 2h0m-1 10h0m0 3h0m-3-2h0m-2-13h0m0 16h0m-1-16h0m0-1h0m-3 8h0m0 8h0m-1-10h0m0-5h0m0 4h0m-3 10h0m0-4h0m0 6h0m-1-8h0m0 7h0m-1-1h0m-1-3h0m-1 2h0m0-2h0m-1-12h0m0 10h0m-1 6h0m0 1h0m-1-12h0m-1 7h0m0-13h0m0 3h0m0 11h0m-1-6h0m-1-6h0m-1 13h0m0-11h0m-1 0h0m0 14h0m-1-2h0m0 2h0m-1-18h0m0 13h0m-1 0h0m0-8h0m0 6h0m-1-1h0m-1-5h0m-1 12h0m-1-9h0m0-2h0m-1-2h0m0 3h0m0-1h0m0-3h0m-1 9h0m0-9h0m-1-2h0m0-2h0m-2 3h0m0 5h0m0-5h0m-1 6h0m-1-4h0m-2-1h0m-1-4h0m0 2h0m0 12h0m-2-7h0m0 8h0m-1 2h0m0-14h0m0 2h0m-1 6h0m-1 3h0m0 2h0m0-4h0m0 7h0m0-9h0m-1 9h0m0-10h0m-1 1h0m0-3h0m0 1h0m-1 3h0m0 0h0m-1-10h0m0 7h0m0 10h0m0-13h0m-1 1h0m-1 11h0m0 2h0m-1-16h0m-1 5h0m0-1h0m0 7h0m-1-12h0m0 7h0m0-5h0m0 0h0m0 10h0m-1 1h0m0-7h0m-1-5h0m-1-2h0m0 2h0m-1 8h0m0 7h0m-1-1h0m-1-3h0m0-8h0m0 4h0m-1-7h0m0 7h0m0-2h0m0 9h0m0-4h0m-1-7h0m0-1h0m0 13h0m-1-8h0m0-10h0m0 15h0m0-7h0m-1 6h0m0-7h0m-1 1h0m0 4h0m-1-2h0m0 9h0m0-3h0m-1-4h0m0 5h0m0-11h0m-1 11h0m-1-6h0m0 1h0m-1 0h0m-1-7h0m0 7h0m-1 2h0m0-14h0m0 4h0m0-4h0m-1 13h0m0 4h0m0-4h0m-1-9h0m0 9h0m0-6h0m-1-1h0m0-2h0m0 13h0m-1-17h0m0 7h0m0 5h0m0-4h0m0-8h0m0 17h0m-1-9h0m0 4h0m-1 2h0m0-3h0m-1 1h0m0-4h0m-1 3h0m-1-3h0m0 3h0m0 4h0m-1 3h0m-1-12h0m0 7h0m0-9h0m0 15h0m-1-9h0m-1 1h0m0 1h0m-1 2h0m-1-2h0m0 5h0m0-12h0m0-2h0m-1 13h0m-1-11h0m0 6h0m0 2h0m0-1h0m0-5h0m-1-2h0m0 8h0m-1 5h0m0-5h0m0 5h0m0 1h0m0-12h0m-1 8h0m0 1h0m0 1h0m0-10h0m-2 12h0m-1-11h0m0-2h0m0-6h0m0 17h0m-1-8h0m0-8h0m-1 12h0m-1-12h0m-1 16h0m0-5h0m0 0h0m0 7h0m-1-15h0m0 13h0m0-1h0m-1-1h0m-1-13h0m0 17h0m0-9h0m0-8h0m0 15h0m0-11h0m0 12h0m-1-12h0m-1 4h0m0 5h0m0 3h0m0-8h0m-1 0h0m0 1h0m-1-11h0m0 19h0m0-5h0m0 3h0m0-5h0m-1-2h0m0-4h0m0 9h0m-1-9h0m0-3h0m0 12h0m-1-13h0m0 16h0m0-3h0m0 2h0m0-11h0m-1-1h0m-1 14h0m0-6h0m0 4h0m0 0h0m0-5h0m-1-2h0m0 4h0m0 3h0m0-1h0m-2-13h0m0 8h0m0 6h0m-1-11h0m0 9h0m0-6h0m-1 6h0m0-3h0m0-6h0m0 10h0m-1 1h0m0 2h0m-1-6h0m0-4h0m0 4h0m0-12h0m-1 15h0m0-2h0m0-4h0m0 7h0m0-8h0m0 3h0m0 5h0m-1-4h0m-1 4h0m0-11h0m0-3h0m0 9h0m-1-7h0m0 1h0m0 1h0m0 4h0m-1-7h0m-1 9h0m0-13h0m0 3h0m0 8h0m-1 7h0m0-13h0m0 12h0m0-16h0m0 7h0m-1 11h0m0 0h0m-1-4h0m0-10h0m0-1h0m0 0h0m0 14h0m0-16h0m0 11h0m0 1h0m-1-11h0m0 6h0m-1-4h0m0 6h0m0-8h0m-1 4h0m0 0h0m0 5h0m0 1h0m0-13h0m-1 14h0m0-5h0m0 9h0m-1-11h0m0-3h0m-1 9h0m0-7h0m-1 8h0m0-12h0m-1 15h0m0-14h0m-1 8h0m0 8h0m0-6h0m0-1h0m-1-9h0m0 13h0m-1-4h0m-1-4h0m-1 4h0m-1-9h0m-1 4h0m0 5h0m-2-1h0m0-10h0m0 17h0m-1-5h0m0-2h0m-1-6h0m-1 6h0m0-1h0m0-8h0m0 7h0m-1-7h0m-1 11h0m0 0h0m-1-9h0m-1 4h0m-1-6h0m0 3h0m0 7h0m0 6h0m-1 1h0m0-7h0m0-10h0m0 2h0m-1 15h0m-1-15h0m0 5h0m-1 3h0m0 1h0m0 1h0m0-3h0m0-1h0m-1 8h0m0-14h0m0 7h0m-1-6h0m-1 6h0m-1 3h0m0 3h0m0-2h0m-1-6h0m0-2h0m-1 11h0m0-1h0m0-11h0m0 13h0m-1-6h0m0-8h0m0 11h0m-1-13h0m-2-3h0m-2 17h0m0-7h0m-1 6h0m0-6h0m-1 4h0m-1-7h0m0 8h0m-2-11h0m-1 0h0m-1 5h0m0-1h0m-1-2h0m-1-2h0m-2-4h0m0 13h0m0 1h0m-1 4h0m0-7h0m0 2h0m0-6h0m-1 4h0m0 8h0m0-3h0m-1-3h0m0 6h0m-1 0h0m-3-19h0m0 9h0m0 8h0m-1-13h0m-3 5h0m-1 1h0m-1-10h0m0 18h0m-2-7h0m-1-8h0m-2 5h0m-1-7h0m-1 7h0m-6-7h0m1 26h0m1-2h0m0 1h0m0 10h0m0-12h0m1 4h0m0 6h0m1-5h0m2 0h0m1 6h0m0-11h0m0-3h0m0 0h0m1-1h0m0 7h0m0 2h0m2-2h0m0-4h0m1 0h0m0 13h0m0-8h0m2-7h0m0-1h0m1 17h0m0-10h0m0 2h0m0-9h0m2 15h0m2-2h0m0-13h0m2 5h0m0-4h0m1 18h0m1-12h0m0-6h0m1 2h0m1 14h0m0-4h0m0 2h0m1-11h0m0-3h0m1 6h0m0-5h0m1 2h0m0 5h0m1-3h0m0 9h0m0-5h0m1 9h0m0-4h0m1-1h0m0-5h0m0 10h0m2-3h0m1-15h0m1 0h0m0 11h0m1-8h0m0 2h0m0-5h0m1 16h0m2-14h0m0 4h0m0 1h0m1-6h0m1-2h0m0 16h0m1-6h0m1 1h0m0 1h0m0-4h0m2 8h0m1-3h0m0-9h0m1-1h0m0-1h0m0 16h0m0-3h0m0-11h0m1 6h0m0-4h0m0 11h0m1-4h0m0-11h0m0 2h0m0 7h0m0-9h0m0-1h0m1 12h0m1 4h0m0-2h0m1-12h0m0 11h0m0-3h0m1-7h0m0-3h0m0 8h0m0-1h0m0-4h0m1 12h0m1-1h0m0-2h0m0-9h0m1 2h0m0 4h0m0 0h0m0-10h0m1 9h0m0 2h0m0 5h0m1 3h0m0-18h0m1 12h0m0-7h0m1-2h0m0 0h0m1 8h0m0-12h0m0 7h0m1 0h0m1 2h0m0-5h0m0 11h0m0-12h0m0 5h0m1 11h0m1-6h0m0 5h0m0 1h0m1-7h0m0-12h0m1 8h0m0 3h0m1-11h0m0 1h0m1 13h0m1-8h0m0-5h0m1 10h0m0 1h0m1-7h0m1 1h0m0 6h0m1-11h0m1-1h0m0 8h0m1-8h0m0 0h0m0 18h0m0-17h0m0 10h0m0-7h0m1 0h0m0-4h0m0 5h0m0-5h0m2 3h0m0 9h0m0-5h0m0 9h0m0-12h0m0 0h0m1 3h0m1-4h0m0 13h0m0-6h0m0-5h0m0 10h0m1-10h0m0 4h0m0-3h0m0-6h0m0 2h0m0 8h0m1-1h0m0 4h0m0-12h0m1 9h0m0-5h0m0 9h0m1 3h0m0-13h0m0-2h0m0 13h0m1-15h0m1 11h0m0 7h0m1-12h0m0-6h0m0 3h0m0 7h0m1 0h0m1-9h0m0 11h0m1-1h0m0-4h0m1-1h0m1 8h0m0 5h0m0-2h0m1-17h0m0 1h0m0 13h0m1-13h0m0 7h0m0-2h0m0 2h0m1 3h0m0 5h0m0 2h0m1-6h0m0-4h0m0 7h0m1-4h0m0 6h0m0-5h0m0-6h0m0 7h0m0 0h0m0-3h0m1 7h0m0-3h0m1-14h0m0 8h0m1 8h0m0 1h0m1 0h0m0-17h0m0 12h0m0 1h0m0-5h0m0 1h0m1 7h0m0-1h0m0-6h0m1-9h0m0 7h0m0-1h0m0 7h0m1 3h0m0-1h0m1-11h0m0 11h0m0-3h0m1 2h0m0-2h0m0-12h0m0 18h0m1-7h0m0 4h0m1-12h0m0 4h0m0-2h0m0-5h0m0 11h0m1-2h0m1-1h0m0-5h0m0 7h0m1 5h0m0-9h0m1-1h0m0-2h0m1 12h0m0-10h0m0 4h0m0-5h0m0 3h0m1 5h0m0-12h0m1 5h0m0 9h0m0-10h0m0 1h0m0 0h0m0 4h0m0 6h0m0-8h0m0-4h0m1-3h0m1 17h0m0-8h0m0-5h0m0 0h0m2 8h0m0 0h0m1 6h0m1 0h0m1 0h0m0-5h0m1 1h0m0 4h0m1-7h0m1 8h0m0-9h0m2-8h0m0 17h0m1-7h0m0-11h0m2 9h0m0-8h0m1 13h0m0-13h0m0 16h0m1-10h0m1 9h0m0-6h0m0-11h0m1 12h0m0-7h0m0-2h0m1 8h0m1 5h0m0-5h0m0-1h0m0-8h0m0 3h0m0-5h0m1 15h0m1 3h0m0-5h0m0-3h0m0 7h0m0-16h0m1 2h0m0 11h0m1-6h0m0 0h0m0 3h0m1-8h0m0 4h0m0 3h0m0-10h0m0 4h0m1 0h0m0 9h0m1-7h0m0-4h0m1 13h0m0-14h0m1 13h0m0 3h0m0-7h0m0-5h0m0 7h0m2 6h0m0-12h0m1 5h0m0-10h0m1 12h0m0-9h0m0-2h0m1-2h0m1 3h0m0 0h0m0 2h0m1-2h0m1-3h0m0 9h0m0-7h0m0 4h0m1-4h0m0 8h0m2 3h0m1 6h0m0 0h0m1-8h0m0-4h0m1 4h0m0-2h0m0-9h0m2 19h0m1-10h0m0 5h0m1-4h0m0 9h0m0-1h0m1-7h0m1-6h0m0 4h0m0-9h0m2 12h0m0-9h0m0 7h0m0 4h0m1-13h0m1 9h0m0-2h0m1-7h0m0 9h0m1-7h0m1 12h0m1-15h0m0 18h0m0-12h0m1 1h0m0 1h0m1-6h0m0 7h0m0 0h0m1 2h0m0 7h0m1-17h0m0 3h0m0 9h0m0 5h0m1-15h0m0 10h0m1-1h0m0 5h0m2-6h0m1-8h0m0 0h0m0 5h0m1-7h0m0 13h0m3-6h0m1-2h0m1-4h0m1 1h0m1 1h0m1 12h0m1-2h0m2-11h0m1 7h0m2-1h0m0 1h0m0 4h0m0-13h0m1 0h0m1 4h0m2 14h0m2-19h0m0 6h0m2 9h0m1-11h0m2 1h0m3-4h0m3 12h0m0-11h0m1-2h0m1 1h0m0 7h0m1 4h0m0-12h0m1 7h0m6-1h0m1 12h0m0-7h0m10-10h0m0 15h0m4 2h0m1-8h0m2-4h0m1 3h0m2-4h0m3 2h0m9 12h0m67-18h0m-41 31h0m-43-11h0m-8-1h0m0 6h0m-7 9h0m-3-2h0m-3 1h0m-7-7h0m-1-4h0m-7 15h0m-2-17h0m-3 14h0m-4-2h0m-1-2h0m-2 8h0m0-10h0m-2-4h0m-10 8h0m0-3h0m-2-7h0m-2 1h0m-1-4h0m-1 3h0m0 7h0m-4 4h0m0-1h0m-3-11h0m0 7h0m-5-6h0m-1 12h0m-1-4h0m-3-9h0m-2 1h0m-1 2h0m-1-2h0m-1 15h0m-3-16h0m-1 15h0m0-12h0m-1 1h0m0 2h0m0 3h0m0-10h0m-3 5h0m0-6h0m0 2h0m-2 1h0m-4 3h0m0 2h0m-1-8h0m0 6h0m0-2h0m0 7h0m-1 1h0m0 7h0m-1-1h0m-2-8h0m0-2h0m0 1h0m-1-8h0m0 4h0m0-2h0m-1 16h0m-1-15h0m-2 13h0m-1-5h0m0-10h0m-1 9h0m-2-11h0m-1 13h0m0-11h0m-1 3h0m-1 3h0m0-6h0m-3 10h0m-1-3h0m-1-4h0m0 1h0m-2 5h0m-1-7h0m-1 1h0m0 4h0m-2 1h0m0 5h0m0-8h0m0 2h0m-1-2h0m-2-6h0m-1 13h0m0-7h0m-1 4h0m0-6h0m-1 11h0m0 3h0m-1-10h0m0-8h0m0 2h0m-1 3h0m0-6h0m0 5h0m-1 0h0m-1 7h0m0-1h0m0-1h0m0 6h0m-1-14h0m0 2h0m0-2h0m0 0h0m0 0h0m-2 0h0m-1 7h0m-1 0h0m-1-7h0m0 2h0m-1 3h0m0 2h0m0-8h0m-1-1h0m0 1h0m-2 14h0m-1-10h0m0 3h0m-2-7h0m0 9h0m-2 5h0m0-12h0m-2 14h0m-2-7h0m0-5h0m-1 14h0m0-13h0m0 6h0m-2-9h0m0 1h0m-1-3h0m0 3h0m0 2h0m-1 2h0m0 0h0m0-4h0m-1 3h0m0-4h0m0 11h0m-1-11h0m-1-2h0m0 7h0m0-8h0m-1 2h0m0 13h0m0-15h0m-1 12h0m-1 0h0m0-7h0m0 8h0m0-11h0m0 15h0m0-9h0m-1-5h0m0 9h0m-1 2h0m0-2h0m-1-6h0m0-3h0m-1 3h0m0 5h0m0-4h0m-1-4h0m-1 4h0m0 4h0m0 6h0m-1 1h0m0-3h0m-2 4h0m0-11h0m-1-6h0m0 0h0m-1 10h0m0 7h0m-1-6h0m0-5h0m0-6h0m-2 1h0m-1 16h0m0-15h0m-1 10h0m0-3h0m0-5h0m-1 9h0m0-8h0m-1-7h0m-1 10h0m-1-1h0m0-8h0m-1 10h0m-1-9h0m-2 3h0m-2-4h0m-2 16h0m0-6h0m-1 2h0m0-10h0m-3-1h0m0 16h0m0-9h0m-1 6h0m-1-11h0m-2 8h0m0 5h0m-1-10h0m0-7h0m-1 3h0m0 5h0m0-8h0m0 15h0m0-8h0m-1-2h0m0 8h0m-1 3h0m0-13h0m-2-2h0m0 8h0m0-7h0m-1 14h0m-1-13h0m0-1h0m0 10h0m0-8h0m-1 12h0m0-14h0m0 4h0m-1-6h0m0 7h0m-1 11h0m-2-7h0m0 0h0m-4 3h0m0-12h0m-1-1h0m-5-1h0m-5 10h0m-1 7h0m-1-14h0m-1-2h0m0 3h0m-1 6h0m-1 9h0m0 2h0m2 17h0m0-12h0m2 8h0m2-11h0m0 10h0m8-7h0m0 7h0m1-11h0m1 0h0m1 4h0m0 1h0m7 3h0m2-1h0m1-4h0m2 0h0m3 12h0m0-10h0m1 7h0m0-14h0m7 3h0m0 4h0m5 6h0m2-5h0m0 3h0m2-2h0m0-9h0m1 12h0m2-5h0m2 7h0m0-9h0m1 11h0m0-13h0m1 3h0m1-1h0m1-3h0m4 5h0m1-7h0m0 4h0m1 0h0m1 1h0m2-4h0m0 13h0m4-10h0m0-4h0m1 4h0m0 10h0m1-8h0m3 1h0m0 3h0m2-10h0m0 2h0m1 1h0m1 3h0m1-6h0m1 3h0m2 3h0m0-2h0m0 9h0m2-8h0m1 2h0m1-7h0m0 14h0m0-8h0m0 10h0m3-16h0m1 3h0m3-1h0m0 3h0m2 8h0m2-9h0m1 3h0m0-6h0m0 6h0m1-4h0m2 15h0m1-11h0m1 0h0m1 11h0m0-14h0m0 1h0m2 0h0m1 8h0m1-2h0m1-3h0m3 4h0m1 0h0m1 5h0m1-11h0m0-5h0m4 2h0m3 1h0m0 12h0m2-3h0m3-6h0m0 0h0m0 8h0m4 4h0m3-14h0m5 1h0m1 5h0m2-6h0m2 7h0m1 4h0m8-16h0m3 9h0m2-5h0m1 11h0m1-7h0m4 3h0m0 1h0m2-10h0m1 1h0m2 12h0m4-2h0m2-3h0m35 2h0m1-8h0m1 5h0m4-7h0m33 9h0m6 0h0m37-11h0m-107 27h0m-3-4h0m-17-3h0m-2 5h0m-33 0h0m-19-1h0m-12 15h0m-5-4h0m-17-5h0m-11-2h0m0 8h0m-4-10h0m-1 7h0m-2 4h0m-10-13h0m-3 10h0m-30 6h0m63 0h0" fill="none" stroke="#000" stroke-opacity="1.0" stroke-width="8.0" stroke-linecap="square"/>
<rect x="412.80" y="172.60" width="97.70" height="93.20" fill="none" stroke="#111" stroke-width="1.4"/>
<line x1="10.10" y1="249.00" x2="10.10" y2="193.00" stroke="#111" stroke-width="1.3" />
<path d="M10.10 187.2L7.00 194.2L10.10 193.0L13.20 194.2Z" fill="#111"/>
<text transform="translate(12.80,266.40) rotate(-90)" x="-0.26" y="0" font-size="10.90" textLength="11.76" lengthAdjust="spacingAndGlyphs" fill="#262626">SSC</text>
<line x1="265.90" y1="249.00" x2="265.90" y2="193.00" stroke="#111" stroke-width="1.3" />
<path d="M265.90 187.2L262.80 194.2L265.90 193.0L269.00 194.2Z" fill="#111"/>
<text transform="translate(268.60,266.40) rotate(-90)" x="-0.26" y="0" font-size="10.90" textLength="11.76" lengthAdjust="spacingAndGlyphs" fill="#262626">SSC</text>
<text x="35.45" y="290.30" font-size="8.32" textLength="17.89" lengthAdjust="spacingAndGlyphs" fill="#262626">Gr-1+</text>
<line x1="56.80" y1="288.50" x2="116.50" y2="288.50" stroke="#111" stroke-width="1.3" />
<path d="M121.50 288.50L114.50 285.40L115.70 288.50L114.50 291.60Z" fill="#111"/>
<text x="290.41" y="290.30" font-size="8.00" textLength="22.65" lengthAdjust="spacingAndGlyphs" fill="#262626">F4/80+</text>
<line x1="316.40" y1="288.50" x2="373.80" y2="288.50" stroke="#111" stroke-width="1.3" />
<path d="M378.80 288.50L371.80 285.40L373.00 288.50L371.80 291.60Z" fill="#111"/>
</svg>
</body></html>
